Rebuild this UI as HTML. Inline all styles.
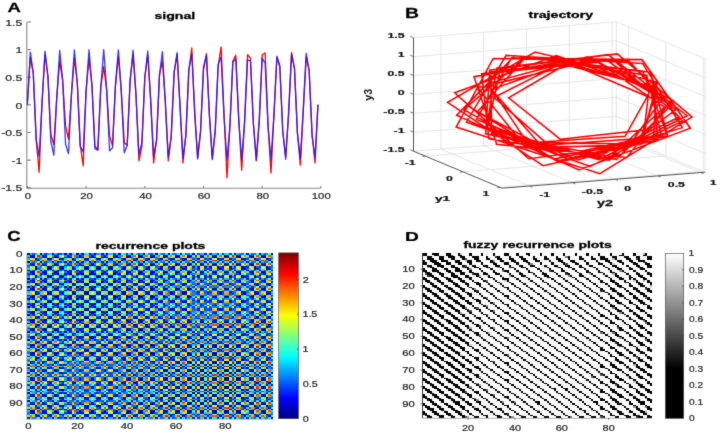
<!DOCTYPE html>
<html><head><meta charset="utf-8"><style>
html,body{margin:0;padding:0;background:#fff;}
body{width:720px;height:434px;overflow:hidden;position:relative;}
svg{position:absolute;left:0;top:0;}
text{font-family:"Liberation Sans",sans-serif;}
</style></head><body>
<svg width="720" height="434" viewBox="0 0 720 434">
<defs><filter id="bl" x="0" y="0" width="720" height="434" filterUnits="userSpaceOnUse" color-interpolation-filters="sRGB"><feConvolveMatrix order="3" kernelMatrix="1 5 1 5 40 5 1 5 1" edgeMode="duplicate"/></filter></defs>
<g filter="url(#bl)"><rect width="720" height="434" fill="#fff"/>
<path d="M26.8 22.03V188.18H320.9" fill="none" stroke="#8a8a8a" stroke-width="1.1"/>
<path d="M27.4 187.78h3.5M27.4 160.15h3.5M27.4 132.53h3.5M27.4 104.9h3.5M27.4 77.28h3.5M27.4 49.65h3.5M27.4 22.03h3.5M27.4 187.78v-1.8M86.1 187.78v-1.8M144.8 187.78v-1.8M203.5 187.78v-1.8M262.2 187.78v-1.8M320.9 187.78v-1.8" stroke="#444" stroke-width="0.8"/>
<polyline points="27.4,100.95 30.33,57.39 33.27,72.76 36.2,140.15 39.14,172.31 42.08,101.81 45.01,54.07 47.95,76.97 50.88,134.74 53.81,144.68 56.75,97.47 59.69,60.7 62.62,80.13 65.56,125.9 68.49,139.16 71.42,95.2 74.36,57.94 77.3,83.21 80.23,144.8 83.16,165.68 86.1,90.98 89.03,58.49 91.97,84.95 94.91,145.78 97.84,150.26 100.78,86.61 103.71,66.78 106.65,89.86 109.58,135.84 112.51,145.84 115.45,86.08 118.38,56.28 121.32,91.02 124.25,142.47 127.19,145.31 130.12,79.86 133.06,54.07 136,94.2 138.93,160.7 141.87,146.25 144.8,77.5 147.74,55.18 150.67,100.51 153.6,162.91 156.54,140.36 159.47,75.13 162.41,60.7 165.34,101.7 168.28,160.7 171.22,135.51 174.15,72.54 177.09,54.48 180.02,105.52 182.96,162.91 185.89,135.19 188.83,70.9 191.76,47.99 194.7,114.97 197.63,157.64 200.56,130.81 203.5,69.94 206.44,53.52 209.37,115.49 212.31,158.12 215.24,132.58 218.18,66.08 221.11,46.89 224.05,114.84 226.98,177.83 229.92,126.4 232.85,61.38 235.78,55.18 238.72,117.39 241.66,170.09 244.59,121.45 247.53,54.62 250.46,58.22 253.4,123.84 256.33,160.81 259.26,122.1 262.2,54.7 265.13,52.97 268.07,125.59 271,172.86 273.94,114.68 276.88,57.44 279.81,67.07 282.75,131.76 285.68,156.66 288.62,114.72 291.55,52.41 294.48,68.68 297.42,132.85 300.35,165.12 303.29,110.82 306.22,56.63 309.16,70.76 312.09,133.88 315.03,162.91 317.96,104.48" fill="none" stroke="#ff0000" stroke-width="1.3" stroke-linejoin="round"/>
<polyline points="27.4,104.9 30.33,52.14 33.27,73.57 36.2,139.05 39.14,156.51 42.08,101.4 45.01,51.21 47.95,76.52 50.88,141.74 53.81,155.16 56.75,97.91 59.69,50.49 62.62,79.58 65.56,144.28 68.49,153.6 71.42,94.44 74.36,49.99 77.3,82.75 80.23,146.66 83.16,151.85 86.1,91.02 89.03,49.71 91.97,86 94.91,148.87 97.84,149.91 100.78,87.66 103.71,49.66 106.65,89.33 109.58,150.9 112.51,147.78 115.45,84.37 118.38,49.82 121.32,92.73 124.25,152.75 127.19,145.49 130.12,81.15 133.06,50.21 136,96.17 138.93,154.4 141.87,143.03 144.8,78.04 147.74,50.82 150.67,99.65 153.6,155.86 156.54,140.41 159.47,75.03 162.41,51.65 165.34,103.15 168.28,157.11 171.22,137.66 174.15,72.14 177.09,52.69 180.02,106.65 182.96,158.15 185.89,134.77 188.83,69.39 191.76,53.94 194.7,110.15 197.63,158.98 200.56,131.76 203.5,66.77 206.44,55.4 209.37,113.63 212.31,159.59 215.24,128.65 218.18,64.31 221.11,57.05 224.05,117.07 226.98,159.98 229.92,125.43 232.85,62.02 235.78,58.9 238.72,120.47 241.66,160.14 244.59,122.14 247.53,59.89 250.46,60.93 253.4,123.8 256.33,160.09 259.26,118.78 262.2,57.95 265.13,63.14 268.07,127.05 271,159.81 273.94,115.36 276.88,56.2 279.81,65.52 282.75,130.22 285.68,159.31 288.62,111.89 291.55,54.64 294.48,68.06 297.42,133.28 300.35,158.59 303.29,108.4 306.22,53.29 309.16,70.75 312.09,136.23 315.03,157.66 317.96,104.9" fill="none" stroke="#1a1aff" stroke-opacity="0.88" stroke-width="1.3" stroke-linejoin="round"/>
<text transform="translate(5.28 25.6) scale(1.448 1)" font-size="8.45" stroke="#262626" stroke-width="0.2" fill="#262626">1.5</text>
<text transform="translate(15.56 53.27) scale(1.448 1)" font-size="8.45" stroke="#262626" stroke-width="0.2" fill="#262626">1</text>
<text transform="translate(5.28 80.89) scale(1.448 1)" font-size="8.45" stroke="#262626" stroke-width="0.2" fill="#262626">0.5</text>
<text transform="translate(15.44 108.52) scale(1.448 1)" font-size="8.45" stroke="#262626" stroke-width="0.2" fill="#262626">0</text>
<text transform="translate(1.24 136.14) scale(1.448 1)" font-size="8.45" stroke="#262626" stroke-width="0.2" fill="#262626">-0.5</text>
<text transform="translate(11.46 163.77) scale(1.448 1)" font-size="8.45" stroke="#262626" stroke-width="0.2" fill="#262626">-1</text>
<text transform="translate(1.24 191.35) scale(1.448 1)" font-size="8.45" stroke="#262626" stroke-width="0.2" fill="#262626">-1.5</text>
<text transform="translate(24.8 199.07) scale(1.351 1)" font-size="8.45" stroke="#262626" stroke-width="0.2" fill="#262626">0</text>
<text transform="translate(80.28 199.07) scale(1.351 1)" font-size="8.45" stroke="#262626" stroke-width="0.2" fill="#262626">20</text>
<text transform="translate(139.15 199.07) scale(1.351 1)" font-size="8.45" stroke="#262626" stroke-width="0.2" fill="#262626">40</text>
<text transform="translate(197.68 199.07) scale(1.351 1)" font-size="8.45" stroke="#262626" stroke-width="0.2" fill="#262626">60</text>
<text transform="translate(256.41 199.07) scale(1.351 1)" font-size="8.45" stroke="#262626" stroke-width="0.2" fill="#262626">80</text>
<text transform="translate(311.77 199.07) scale(1.351 1)" font-size="8.45" stroke="#262626" stroke-width="0.2" fill="#262626">100</text>
<text transform="translate(7.59 11.75) scale(1.451 1)" font-size="12.75" font-weight="bold" stroke="#000" stroke-width="0.25" fill="#000">A</text>
<text transform="translate(154.4 18.6) scale(1.468 1)" font-size="9.63" font-weight="bold" stroke="#000" stroke-width="0.3" fill="#000">signal</text>
<path d="M413.5 151.2L616.4 135.2M616.4 135.2L705.1 172.2M413.5 132.3L616.4 116.3M616.4 116.3L705.1 153.3M413.5 113.4L616.4 97.4M616.4 97.4L705.1 134.4M413.5 94.5L616.4 78.5M616.4 78.5L705.1 115.5M413.5 75.6L616.4 59.6M616.4 59.6L705.1 96.6M413.5 56.7L616.4 40.7M616.4 40.7L705.1 77.7M413.5 37.8L616.4 21.8M616.4 21.8L705.1 58.8M440.9 149.04L440.9 35.64M440.9 149.04L529.6 186.04M483.7 145.66L483.7 32.26M483.7 145.66L572.4 182.66M526.51 142.29L526.51 28.89M526.51 142.29L615.21 179.29M569.31 138.91L569.31 25.51M569.31 138.91L658.01 175.91M612.12 135.54L612.12 22.14M612.12 135.54L700.82 172.54M628.38 140.2L628.38 26.8M425.48 156.2L628.38 140.2M665.8 155.81L665.8 42.41M462.9 171.81L665.8 155.81M703.23 171.42L703.23 58.02M500.33 187.42L703.23 171.42M705.1 172.2L705.1 58.8M616.4 135.2L616.4 21.8" stroke="#e2e2e2" stroke-width="0.9" fill="none"/>
<polyline points="652.21,79.52 657.9,139.81 543.06,165.7 447.58,102.36 535.03,52 656.76,81.75 653.62,137.56 548.6,144.95 494.06,97.54 560.48,63.81 649.43,85.95 644.24,130.02 560.16,139.2 508.61,97.81 567.74,63.2 655.25,88.36 641.33,144.12 528.77,158.78 454.71,92.82 556.32,55.57 657.26,90.81 638.26,144.84 526.07,147.86 477.93,87.68 573.52,65.06 647.37,96.41 625.05,136.3 538.16,142.24 491.51,89.58 577.34,59.06 664,96.08 630.35,143.94 527.1,142.36 487.84,83.39 587.34,56.94 671.64,99.74 626.93,157.43 496.69,144.33 474.03,76.74 590.35,57.14 671.52,104.86 616.4,159.4 488.99,138.79 481.66,73.77 598.01,62.3 664.56,107.02 610.81,156.47 491.61,134.86 490.68,72.03 605.32,59.1 675.96,109.61 609.1,160.21 485.6,133.83 489.68,70.24 608.08,54.55 687.12,115.74 598.85,159.59 487.36,127.52 500.03,70.54 612.53,59.45 679.21,117.04 594.3,158.42 486.26,128.64 496.97,67.98 617.31,53.94 692.1,116.87 599.81,173.7 456.17,127.01 493.2,58.44 628.78,60.78 682.44,120.96 590.24,166.38 466.43,121.96 506.1,55.4 642.6,63.44 682.31,127.66 578.19,159.95 476.45,119.44 511.39,58.16 642.05,59.67 690.39,128.19 579.02,169.89 456.59,115.34 514.72,55.72 642.83,71.75 666.68,133.37 559.91,155.58 477.51,111.65 525.63,56.86 650.59,72.23 667.59,135.72 557.14,161.05 463.66,109.71 525.94,56.88 646.69,75.27 661.51,135.49 554.13,159.08 466.38,104.81" fill="none" stroke="#ff0000" stroke-width="1.6" stroke-linejoin="miter"/>
<path d="M413.5 151.2L413.5 37.8M413.5 151.2L502.2 188.2M502.2 188.2L705.1 172.2" stroke="#555" stroke-width="1" fill="none"/>
<path d="M413.5 151.2l-3.3 -1.6M413.5 132.3l-3.3 -1.6M413.5 113.4l-3.3 -1.6M413.5 94.5l-3.3 -1.6M413.5 75.6l-3.3 -1.6M413.5 56.7l-3.3 -1.6M413.5 37.8l-3.3 -1.6M425.48 156.2l-3 0.25M462.9 171.81l-3 0.25M500.33 187.42l-3 0.25M529.6 186.04l2.8 1.2M572.4 182.66l2.8 1.2M615.21 179.29l2.8 1.2M658.01 175.91l2.8 1.2M700.82 172.54l2.8 1.2" stroke="#555" stroke-width="0.8" fill="none"/>
<text transform="translate(387.4 38.18) scale(1.560 1)" font-size="7.89" font-weight="bold" stroke="#111" stroke-width="0.2" fill="#111">1.5</text>
<text transform="translate(397.68 57.12) scale(1.560 1)" font-size="7.89" font-weight="bold" stroke="#111" stroke-width="0.2" fill="#111">1</text>
<text transform="translate(387.4 76.02) scale(1.560 1)" font-size="7.89" font-weight="bold" stroke="#111" stroke-width="0.2" fill="#111">0.5</text>
<text transform="translate(397.86 94.92) scale(1.560 1)" font-size="7.89" font-weight="bold" stroke="#111" stroke-width="0.2" fill="#111">0</text>
<text transform="translate(383.34 113.82) scale(1.560 1)" font-size="7.89" font-weight="bold" stroke="#111" stroke-width="0.2" fill="#111">-0.5</text>
<text transform="translate(393.56 132.72) scale(1.560 1)" font-size="7.89" font-weight="bold" stroke="#111" stroke-width="0.2" fill="#111">-1</text>
<text transform="translate(383.34 151.58) scale(1.560 1)" font-size="7.89" font-weight="bold" stroke="#111" stroke-width="0.2" fill="#111">-1.5</text>
<text transform="translate(404.68 165.42) scale(1.560 1)" font-size="7.89" font-weight="bold" stroke="#111" stroke-width="0.2" fill="#111">-1</text>
<text transform="translate(445.99 180.62) scale(1.560 1)" font-size="7.89" font-weight="bold" stroke="#111" stroke-width="0.2" fill="#111">0</text>
<text transform="translate(482.62 195.62) scale(1.560 1)" font-size="7.89" font-weight="bold" stroke="#111" stroke-width="0.2" fill="#111">1</text>
<text transform="translate(539.23 197.02) scale(1.560 1)" font-size="7.89" font-weight="bold" stroke="#111" stroke-width="0.2" fill="#111">-1</text>
<text transform="translate(581.83 193.62) scale(1.560 1)" font-size="7.89" font-weight="bold" stroke="#111" stroke-width="0.2" fill="#111">-0.5</text>
<text transform="translate(624.34 190.82) scale(1.560 1)" font-size="7.89" font-weight="bold" stroke="#111" stroke-width="0.2" fill="#111">0</text>
<text transform="translate(667.86 187.12) scale(1.560 1)" font-size="7.89" font-weight="bold" stroke="#111" stroke-width="0.2" fill="#111">0.5</text>
<text transform="translate(709.87 184.62) scale(1.560 1)" font-size="7.89" font-weight="bold" stroke="#111" stroke-width="0.2" fill="#111">1</text>
<text transform="translate(435.01 200.67) scale(1.709 1)" font-size="8" font-weight="bold" stroke="#111" stroke-width="0.25" fill="#111">y1</text>
<text transform="translate(597.01 206.07) scale(1.695 1)" font-size="8.46" font-weight="bold" stroke="#111" stroke-width="0.25" fill="#111">y2</text>
<text transform="translate(369.8 95) rotate(-90) scale(1.036 1) translate(-5.6 2.53)" font-size="10.33" font-weight="bold" fill="#111">y3</text>
<text transform="translate(404.89 17.75) scale(1.405 1)" font-size="13.77" font-weight="bold" stroke="#000" stroke-width="0.25" fill="#000">B</text>
<text transform="translate(528.51 18.4) scale(1.471 1)" font-size="9.63" font-weight="bold" stroke="#000" stroke-width="0.3" fill="#000">trajectory</text>
<g transform="translate(27.24 253.2) scale(2.46160 1.65500)" shape-rendering="crispEdges"><path fill="#000087" d="M0 0h1v1h-1zM5 0h1v1h-1zM42 0h1v1h-1zM47 0h1v1h-1zM1 1h1v1h-1zM16 1h1v1h-1zM21 1h1v1h-1zM31 1h1v1h-1zM76 1h1v1h-1zM85 1h1v1h-1zM95 1h1v1h-1zM2 2h1v1h-1zM50 2h1v1h-1zM55 2h1v1h-1zM96 2h1v1h-1zM3 3h1v1h-1zM14 3h1v1h-1zM44 3h1v1h-1zM4 4h1v1h-1zM83 4h1v1h-1zM0 5h1v1h-1zM5 5h1v1h-1zM42 5h1v1h-1zM47 5h1v1h-1zM6 6h1v1h-1zM36 6h1v1h-1zM41 6h1v1h-1zM51 6h1v1h-1zM61 6h1v1h-1zM71 6h1v1h-1zM75 6h1v1h-1zM80 6h2v1h-2zM90 6h1v1h-1zM7 7h1v1h-1zM40 7h1v1h-1zM45 7h1v1h-1zM8 8h1v1h-1zM28 8h1v1h-1zM49 8h1v1h-1zM54 8h1v1h-1zM92 8h1v1h-1zM97 8h1v1h-1zM9 9h1v1h-1zM18 9h1v1h-1zM23 9h1v1h-1zM29 9h1v1h-1zM34 9h1v1h-1zM39 9h1v1h-1zM10 10h1v1h-1zM11 11h1v1h-1zM46 11h1v1h-1zM70 11h1v1h-1zM12 12h1v1h-1zM35 12h1v1h-1zM13 13h1v1h-1zM69 13h1v1h-1zM82 13h1v1h-1zM3 14h1v1h-1zM14 14h1v1h-1zM44 14h1v1h-1zM15 15h1v1h-1zM37 15h1v1h-1zM1 16h1v1h-1zM16 16h1v1h-1zM21 16h1v1h-1zM31 16h1v1h-1zM76 16h1v1h-1zM85 16h1v1h-1zM95 16h1v1h-1zM17 17h1v1h-1zM22 17h1v1h-1zM9 18h1v1h-1zM18 18h1v1h-1zM23 18h1v1h-1zM29 18h1v1h-1zM34 18h1v1h-1zM39 18h1v1h-1zM19 19h1v1h-1zM93 19h1v1h-1zM20 20h1v1h-1zM27 20h1v1h-1zM32 20h1v1h-1zM1 21h1v1h-1zM16 21h1v1h-1zM21 21h1v1h-1zM76 21h1v1h-1zM85 21h1v1h-1zM95 21h1v1h-1zM17 22h1v1h-1zM22 22h1v1h-1zM25 22h1v1h-1zM30 22h1v1h-1zM9 23h1v1h-1zM18 23h1v1h-1zM23 23h1v1h-1zM29 23h1v1h-1zM34 23h1v1h-1zM39 23h1v1h-1zM24 24h1v1h-1zM22 25h1v1h-1zM25 25h1v1h-1zM30 25h1v1h-1zM26 26h1v1h-1zM65 26h1v1h-1zM86 26h1v1h-1zM91 26h1v1h-1zM20 27h1v1h-1zM27 27h1v1h-1zM32 27h1v1h-1zM8 28h1v1h-1zM28 28h1v1h-1zM49 28h1v1h-1zM54 28h1v1h-1zM97 28h1v1h-1zM9 29h1v1h-1zM18 29h1v1h-1zM23 29h1v1h-1zM29 29h1v1h-1zM34 29h1v1h-1zM39 29h1v1h-1zM22 30h1v1h-1zM25 30h1v1h-1zM30 30h1v1h-1zM1 31h1v1h-1zM16 31h1v1h-1zM31 31h1v1h-1zM41 31h1v1h-1zM51 31h1v1h-1zM71 31h1v1h-1zM75 31h2v1h-2zM80 31h1v1h-1zM85 31h1v1h-1zM95 31h1v1h-1zM20 32h1v1h-1zM27 32h1v1h-1zM32 32h1v1h-1zM33 33h1v1h-1zM9 34h1v1h-1zM18 34h1v1h-1zM23 34h1v1h-1zM29 34h1v1h-1zM34 34h1v1h-1zM39 34h1v1h-1zM12 35h1v1h-1zM35 35h1v1h-1zM6 36h1v1h-1zM36 36h1v1h-1zM41 36h1v1h-1zM51 36h1v1h-1zM61 36h1v1h-1zM71 36h1v1h-1zM75 36h1v1h-1zM80 36h2v1h-2zM90 36h1v1h-1zM15 37h1v1h-1zM37 37h1v1h-1zM38 38h1v1h-1zM48 38h1v1h-1zM78 38h1v1h-1zM9 39h1v1h-1zM18 39h1v1h-1zM23 39h1v1h-1zM29 39h1v1h-1zM34 39h1v1h-1zM39 39h1v1h-1zM7 40h1v1h-1zM40 40h1v1h-1zM6 41h1v1h-1zM31 41h1v1h-1zM36 41h1v1h-1zM41 41h1v1h-1zM51 41h1v1h-1zM61 41h1v1h-1zM71 41h1v1h-1zM75 41h1v1h-1zM80 41h1v1h-1zM95 41h1v1h-1zM0 42h1v1h-1zM5 42h1v1h-1zM42 42h1v1h-1zM47 42h1v1h-1zM43 43h1v1h-1zM53 43h1v1h-1zM98 43h1v1h-1zM3 44h1v1h-1zM14 44h1v1h-1zM44 44h1v1h-1zM7 45h1v1h-1zM45 45h1v1h-1zM11 46h1v1h-1zM46 46h1v1h-1zM70 46h1v1h-1zM0 47h1v1h-1zM5 47h1v1h-1zM42 47h1v1h-1zM47 47h1v1h-1zM38 48h1v1h-1zM48 48h1v1h-1zM78 48h1v1h-1zM8 49h1v1h-1zM28 49h1v1h-1zM49 49h1v1h-1zM54 49h1v1h-1zM97 49h1v1h-1zM2 50h1v1h-1zM50 50h1v1h-1zM55 50h1v1h-1zM96 50h1v1h-1zM6 51h1v1h-1zM31 51h1v1h-1zM36 51h1v1h-1zM41 51h1v1h-1zM51 51h1v1h-1zM61 51h1v1h-1zM71 51h1v1h-1zM75 51h1v1h-1zM80 51h2v1h-2zM52 52h1v1h-1zM99 52h1v1h-1zM43 53h1v1h-1zM53 53h1v1h-1zM98 53h1v1h-1zM8 54h1v1h-1zM28 54h1v1h-1zM49 54h1v1h-1zM54 54h1v1h-1zM97 54h1v1h-1zM2 55h1v1h-1zM50 55h1v1h-1zM55 55h1v1h-1zM60 55h1v1h-1zM96 55h1v1h-1zM56 56h1v1h-1zM66 56h1v1h-1zM57 57h1v1h-1zM62 57h1v1h-1zM67 57h1v1h-1zM84 57h1v1h-1zM89 57h1v1h-1zM58 58h1v1h-1zM63 58h1v1h-1zM88 58h1v1h-1zM59 59h1v1h-1zM64 59h1v1h-1zM87 59h1v1h-1zM92 59h1v1h-1zM55 60h1v1h-1zM60 60h1v1h-1zM91 60h1v1h-1zM96 60h1v1h-1zM6 61h1v1h-1zM36 61h1v1h-1zM41 61h1v1h-1zM51 61h1v1h-1zM61 61h1v1h-1zM71 61h1v1h-1zM75 61h1v1h-1zM80 61h2v1h-2zM90 61h1v1h-1zM57 62h1v1h-1zM62 62h1v1h-1zM67 62h1v1h-1zM72 62h1v1h-1zM84 62h1v1h-1zM89 62h1v1h-1zM58 63h1v1h-1zM63 63h1v1h-1zM88 63h1v1h-1zM59 64h1v1h-1zM64 64h1v1h-1zM87 64h1v1h-1zM92 64h1v1h-1zM97 64h1v1h-1zM26 65h1v1h-1zM65 65h1v1h-1zM86 65h1v1h-1zM56 66h1v1h-1zM66 66h1v1h-1zM57 67h1v1h-1zM62 67h1v1h-1zM67 67h1v1h-1zM84 67h1v1h-1zM89 67h1v1h-1zM68 68h1v1h-1zM13 69h1v1h-1zM69 69h1v1h-1zM82 69h1v1h-1zM11 70h1v1h-1zM46 70h1v1h-1zM70 70h1v1h-1zM6 71h1v1h-1zM31 71h1v1h-1zM36 71h1v1h-1zM41 71h1v1h-1zM51 71h1v1h-1zM61 71h1v1h-1zM71 71h1v1h-1zM75 71h1v1h-1zM80 71h1v1h-1zM95 71h1v1h-1zM62 72h1v1h-1zM72 72h1v1h-1zM73 73h1v1h-1zM74 74h1v1h-1zM79 74h1v1h-1zM6 75h1v1h-1zM31 75h1v1h-1zM36 75h1v1h-1zM41 75h1v1h-1zM51 75h1v1h-1zM61 75h1v1h-1zM71 75h1v1h-1zM75 75h1v1h-1zM80 75h2v1h-2zM95 75h1v1h-1zM1 76h1v1h-1zM16 76h1v1h-1zM21 76h1v1h-1zM31 76h1v1h-1zM76 76h1v1h-1zM85 76h1v1h-1zM95 76h1v1h-1zM77 77h1v1h-1zM79 77h1v1h-1zM82 77h1v1h-1zM38 78h1v1h-1zM48 78h1v1h-1zM78 78h1v1h-1zM74 79h1v1h-1zM77 79h1v1h-1zM79 79h1v1h-1zM6 80h1v1h-1zM31 80h1v1h-1zM36 80h1v1h-1zM41 80h1v1h-1zM51 80h1v1h-1zM61 80h1v1h-1zM71 80h1v1h-1zM75 80h1v1h-1zM80 80h2v1h-2zM95 80h1v1h-1zM6 81h1v1h-1zM36 81h1v1h-1zM51 81h1v1h-1zM61 81h1v1h-1zM75 81h1v1h-1zM80 81h2v1h-2zM90 81h1v1h-1zM13 82h1v1h-1zM69 82h1v1h-1zM77 82h1v1h-1zM82 82h1v1h-1zM4 83h1v1h-1zM83 83h1v1h-1zM57 84h1v1h-1zM62 84h1v1h-1zM67 84h1v1h-1zM84 84h1v1h-1zM89 84h1v1h-1zM1 85h1v1h-1zM16 85h1v1h-1zM21 85h1v1h-1zM31 85h1v1h-1zM76 85h1v1h-1zM85 85h1v1h-1zM95 85h1v1h-1zM26 86h1v1h-1zM65 86h1v1h-1zM86 86h1v1h-1zM91 86h1v1h-1zM59 87h1v1h-1zM64 87h1v1h-1zM87 87h1v1h-1zM92 87h1v1h-1zM58 88h1v1h-1zM63 88h1v1h-1zM88 88h1v1h-1zM57 89h1v1h-1zM62 89h1v1h-1zM67 89h1v1h-1zM84 89h1v1h-1zM89 89h1v1h-1zM6 90h1v1h-1zM36 90h1v1h-1zM61 90h1v1h-1zM81 90h1v1h-1zM90 90h1v1h-1zM26 91h1v1h-1zM60 91h1v1h-1zM86 91h1v1h-1zM91 91h1v1h-1zM8 92h1v1h-1zM59 92h1v1h-1zM64 92h1v1h-1zM87 92h1v1h-1zM92 92h1v1h-1zM97 92h1v1h-1zM19 93h1v1h-1zM93 93h1v1h-1zM94 94h1v1h-1zM1 95h1v1h-1zM16 95h1v1h-1zM21 95h1v1h-1zM31 95h1v1h-1zM41 95h1v1h-1zM71 95h1v1h-1zM75 95h2v1h-2zM80 95h1v1h-1zM85 95h1v1h-1zM95 95h1v1h-1zM2 96h1v1h-1zM50 96h1v1h-1zM55 96h1v1h-1zM60 96h1v1h-1zM96 96h1v1h-1zM8 97h1v1h-1zM28 97h1v1h-1zM49 97h1v1h-1zM54 97h1v1h-1zM64 97h1v1h-1zM92 97h1v1h-1zM97 97h1v1h-1zM43 98h1v1h-1zM53 98h1v1h-1zM98 98h1v1h-1zM52 99h1v1h-1zM99 99h1v1h-1z"/><path fill="#000097" d="M10 0h1v1h-1zM99 0h1v1h-1zM6 1h1v1h-1zM11 1h1v1h-1zM36 1h1v1h-1zM41 1h1v1h-1zM46 1h1v1h-1zM51 1h1v1h-1zM61 1h1v1h-1zM70 1h2v1h-2zM75 1h1v1h-1zM80 1h1v1h-1zM45 2h1v1h-1zM60 2h1v1h-1zM91 2h1v1h-1zM33 3h1v1h-1zM73 4h1v1h-1zM52 5h1v1h-1zM99 5h1v1h-1zM1 6h1v1h-1zM16 6h1v1h-1zM31 6h1v1h-1zM85 6h1v1h-1zM95 6h1v1h-1zM12 7h1v1h-1zM35 7h1v1h-1zM59 8h1v1h-1zM64 8h1v1h-1zM87 8h1v1h-1zM33 9h1v1h-1zM0 10h1v1h-1zM15 10h1v1h-1zM37 10h1v1h-1zM42 10h1v1h-1zM1 11h1v1h-1zM16 11h1v1h-1zM21 11h1v1h-1zM76 11h1v1h-1zM85 11h1v1h-1zM95 11h1v1h-1zM7 12h1v1h-1zM17 12h1v1h-1zM40 12h1v1h-1zM77 13h1v1h-1zM79 13h1v1h-1zM28 14h1v1h-1zM33 14h1v1h-1zM49 14h1v1h-1zM54 14h1v1h-1zM10 15h1v1h-1zM6 16h1v1h-1zM11 16h1v1h-1zM36 16h1v1h-1zM41 16h1v1h-1zM46 16h1v1h-1zM51 16h1v1h-1zM70 16h2v1h-2zM75 16h1v1h-1zM80 16h1v1h-1zM12 17h1v1h-1zM25 17h1v1h-1zM30 17h1v1h-1zM35 17h1v1h-1zM33 18h1v1h-1zM43 19h1v1h-1zM53 19h1v1h-1zM98 19h1v1h-1zM37 20h1v1h-1zM11 21h1v1h-1zM31 21h1v1h-1zM41 21h1v1h-1zM46 21h1v1h-1zM51 21h1v1h-1zM70 21h2v1h-2zM75 21h1v1h-1zM80 21h1v1h-1zM33 23h1v1h-1zM39 24h1v1h-1zM17 25h1v1h-1zM27 25h1v1h-1zM60 26h1v1h-1zM96 26h1v1h-1zM25 27h1v1h-1zM30 27h1v1h-1zM14 28h1v1h-1zM64 28h1v1h-1zM87 28h1v1h-1zM92 28h1v1h-1zM33 29h1v1h-1zM17 30h1v1h-1zM27 30h1v1h-1zM6 31h1v1h-1zM21 31h1v1h-1zM36 31h1v1h-1zM61 31h1v1h-1zM81 31h1v1h-1zM90 31h1v1h-1zM37 32h1v1h-1zM3 33h1v1h-1zM9 33h1v1h-1zM14 33h1v1h-1zM18 33h1v1h-1zM23 33h1v1h-1zM29 33h1v1h-1zM34 33h1v1h-1zM39 33h1v1h-1zM44 33h1v1h-1zM33 34h1v1h-1zM7 35h1v1h-1zM17 35h1v1h-1zM40 35h1v1h-1zM1 36h1v1h-1zM16 36h1v1h-1zM31 36h1v1h-1zM85 36h1v1h-1zM95 36h1v1h-1zM10 37h1v1h-1zM20 37h1v1h-1zM32 37h1v1h-1zM43 38h1v1h-1zM53 38h1v1h-1zM58 38h1v1h-1zM63 38h1v1h-1zM88 38h1v1h-1zM98 38h1v1h-1zM24 39h1v1h-1zM33 39h1v1h-1zM12 40h1v1h-1zM35 40h1v1h-1zM45 40h1v1h-1zM1 41h1v1h-1zM16 41h1v1h-1zM21 41h1v1h-1zM76 41h1v1h-1zM81 41h1v1h-1zM85 41h1v1h-1zM90 41h1v1h-1zM10 42h1v1h-1zM99 42h1v1h-1zM19 43h1v1h-1zM38 43h1v1h-1zM48 43h1v1h-1zM78 43h1v1h-1zM93 43h1v1h-1zM33 44h1v1h-1zM2 45h1v1h-1zM40 45h1v1h-1zM50 45h1v1h-1zM1 46h1v1h-1zM16 46h1v1h-1zM21 46h1v1h-1zM76 46h1v1h-1zM85 46h1v1h-1zM95 46h1v1h-1zM52 47h1v1h-1zM99 47h1v1h-1zM43 48h1v1h-1zM53 48h1v1h-1zM58 48h1v1h-1zM63 48h1v1h-1zM88 48h1v1h-1zM98 48h1v1h-1zM14 49h1v1h-1zM64 49h1v1h-1zM87 49h1v1h-1zM92 49h1v1h-1zM45 50h1v1h-1zM60 50h1v1h-1zM91 50h1v1h-1zM1 51h1v1h-1zM16 51h1v1h-1zM21 51h1v1h-1zM76 51h1v1h-1zM85 51h1v1h-1zM90 51h1v1h-1zM95 51h1v1h-1zM5 52h1v1h-1zM47 52h1v1h-1zM19 53h1v1h-1zM38 53h1v1h-1zM48 53h1v1h-1zM78 53h1v1h-1zM93 53h1v1h-1zM14 54h1v1h-1zM64 54h1v1h-1zM87 54h1v1h-1zM92 54h1v1h-1zM86 55h1v1h-1zM91 55h1v1h-1zM72 57h1v1h-1zM38 58h1v1h-1zM48 58h1v1h-1zM78 58h1v1h-1zM8 59h1v1h-1zM97 59h1v1h-1zM2 60h1v1h-1zM26 60h1v1h-1zM50 60h1v1h-1zM65 60h1v1h-1zM86 60h1v1h-1zM1 61h1v1h-1zM31 61h1v1h-1zM85 61h1v1h-1zM95 61h1v1h-1zM38 63h1v1h-1zM48 63h1v1h-1zM78 63h1v1h-1zM8 64h1v1h-1zM28 64h1v1h-1zM49 64h1v1h-1zM54 64h1v1h-1zM60 65h1v1h-1zM91 65h1v1h-1zM72 67h1v1h-1zM94 67h1v1h-1zM77 69h1v1h-1zM1 70h1v1h-1zM16 70h1v1h-1zM21 70h1v1h-1zM76 70h1v1h-1zM85 70h1v1h-1zM1 71h1v1h-1zM16 71h1v1h-1zM21 71h1v1h-1zM76 71h1v1h-1zM81 71h1v1h-1zM85 71h1v1h-1zM90 71h1v1h-1zM57 72h1v1h-1zM67 72h1v1h-1zM74 72h1v1h-1zM84 72h1v1h-1zM89 72h1v1h-1zM4 73h1v1h-1zM83 73h1v1h-1zM72 74h1v1h-1zM77 74h1v1h-1zM1 75h1v1h-1zM16 75h1v1h-1zM21 75h1v1h-1zM76 75h1v1h-1zM85 75h1v1h-1zM90 75h1v1h-1zM11 76h1v1h-1zM41 76h1v1h-1zM46 76h1v1h-1zM51 76h1v1h-1zM70 76h2v1h-2zM75 76h1v1h-1zM80 76h1v1h-1zM13 77h1v1h-1zM69 77h1v1h-1zM74 77h1v1h-1zM43 78h1v1h-1zM53 78h1v1h-1zM58 78h1v1h-1zM63 78h1v1h-1zM98 78h1v1h-1zM13 79h1v1h-1zM82 79h1v1h-1zM1 80h1v1h-1zM16 80h1v1h-1zM21 80h1v1h-1zM76 80h1v1h-1zM85 80h1v1h-1zM90 80h1v1h-1zM31 81h1v1h-1zM41 81h1v1h-1zM71 81h1v1h-1zM95 81h1v1h-1zM79 82h1v1h-1zM73 83h1v1h-1zM72 84h1v1h-1zM94 84h1v1h-1zM6 85h1v1h-1zM11 85h1v1h-1zM36 85h1v1h-1zM41 85h1v1h-1zM46 85h1v1h-1zM51 85h1v1h-1zM61 85h1v1h-1zM70 85h2v1h-2zM75 85h1v1h-1zM80 85h1v1h-1zM55 86h1v1h-1zM60 86h1v1h-1zM96 86h1v1h-1zM8 87h1v1h-1zM28 87h1v1h-1zM49 87h1v1h-1zM54 87h1v1h-1zM97 87h1v1h-1zM38 88h1v1h-1zM48 88h1v1h-1zM72 89h1v1h-1zM94 89h1v1h-1zM31 90h1v1h-1zM41 90h1v1h-1zM51 90h1v1h-1zM71 90h1v1h-1zM75 90h1v1h-1zM80 90h1v1h-1zM2 91h1v1h-1zM50 91h1v1h-1zM55 91h1v1h-1zM65 91h1v1h-1zM96 91h1v1h-1zM28 92h1v1h-1zM49 92h1v1h-1zM54 92h1v1h-1zM43 93h1v1h-1zM53 93h1v1h-1zM98 93h1v1h-1zM67 94h1v1h-1zM84 94h1v1h-1zM89 94h1v1h-1zM6 95h1v1h-1zM11 95h1v1h-1zM36 95h1v1h-1zM46 95h1v1h-1zM51 95h1v1h-1zM61 95h1v1h-1zM81 95h1v1h-1zM26 96h1v1h-1zM86 96h1v1h-1zM91 96h1v1h-1zM59 97h1v1h-1zM87 97h1v1h-1zM19 98h1v1h-1zM38 98h1v1h-1zM48 98h1v1h-1zM78 98h1v1h-1zM93 98h1v1h-1zM0 99h1v1h-1zM5 99h1v1h-1zM42 99h1v1h-1zM47 99h1v1h-1z"/><path fill="#0000a7" d="M15 0h1v1h-1zM52 0h1v1h-1zM81 1h1v1h-1zM90 1h1v1h-1zM7 2h1v1h-1zM26 2h1v1h-1zM40 2h1v1h-1zM86 2h1v1h-1zM8 3h2v1h-2zM18 3h1v1h-1zM23 3h1v1h-1zM28 3h2v1h-2zM34 3h1v1h-1zM39 3h1v1h-1zM49 3h1v1h-1zM54 3h1v1h-1zM68 4h1v1h-1zM10 5h1v1h-1zM21 6h1v1h-1zM56 6h1v1h-1zM76 6h1v1h-1zM2 7h1v1h-1zM50 7h1v1h-1zM55 7h1v1h-1zM3 8h1v1h-1zM14 8h1v1h-1zM44 8h1v1h-1zM3 9h1v1h-1zM14 9h1v1h-1zM24 9h1v1h-1zM44 9h1v1h-1zM5 10h1v1h-1zM47 10h1v1h-1zM26 11h1v1h-1zM31 11h1v1h-1zM41 11h1v1h-1zM65 11h1v1h-1zM71 11h1v1h-1zM75 11h1v1h-1zM80 11h1v1h-1zM22 12h1v1h-1zM30 12h1v1h-1zM45 12h1v1h-1zM59 13h1v1h-1zM74 13h1v1h-1zM87 13h1v1h-1zM8 14h2v1h-2zM18 14h1v1h-1zM34 14h1v1h-1zM97 14h1v1h-1zM0 15h1v1h-1zM20 15h1v1h-1zM27 15h1v1h-1zM32 15h1v1h-1zM42 15h1v1h-1zM61 16h1v1h-1zM81 16h1v1h-1zM90 16h1v1h-1zM40 17h1v1h-1zM3 18h1v1h-1zM14 18h1v1h-1zM24 18h1v1h-1zM44 18h1v1h-1zM38 19h1v1h-1zM48 19h1v1h-1zM73 19h1v1h-1zM78 19h1v1h-1zM15 20h1v1h-1zM22 20h1v1h-1zM25 20h1v1h-1zM30 20h1v1h-1zM6 21h1v1h-1zM36 21h1v1h-1zM61 21h1v1h-1zM81 21h1v1h-1zM90 21h1v1h-1zM12 22h1v1h-1zM20 22h1v1h-1zM27 22h1v1h-1zM32 22h1v1h-1zM35 22h1v1h-1zM3 23h1v1h-1zM24 23h1v1h-1zM44 23h1v1h-1zM9 24h1v1h-1zM18 24h1v1h-1zM23 24h1v1h-1zM29 24h1v1h-1zM34 24h1v1h-1zM20 25h1v1h-1zM32 25h1v1h-1zM2 26h1v1h-1zM11 26h1v1h-1zM46 26h1v1h-1zM50 26h1v1h-1zM55 26h1v1h-1zM70 26h1v1h-1zM15 27h1v1h-1zM22 27h1v1h-1zM37 27h1v1h-1zM3 28h1v1h-1zM44 28h1v1h-1zM59 28h1v1h-1zM3 29h1v1h-1zM24 29h1v1h-1zM44 29h1v1h-1zM12 30h1v1h-1zM20 30h1v1h-1zM32 30h1v1h-1zM11 31h1v1h-1zM46 31h1v1h-1zM70 31h1v1h-1zM15 32h1v1h-1zM22 32h1v1h-1zM25 32h1v1h-1zM30 32h1v1h-1zM3 34h1v1h-1zM14 34h1v1h-1zM24 34h1v1h-1zM44 34h1v1h-1zM22 35h1v1h-1zM45 35h1v1h-1zM21 36h1v1h-1zM56 36h1v1h-1zM76 36h1v1h-1zM27 37h1v1h-1zM19 38h1v1h-1zM93 38h1v1h-1zM3 39h1v1h-1zM44 39h1v1h-1zM2 40h1v1h-1zM17 40h1v1h-1zM50 40h1v1h-1zM11 41h1v1h-1zM46 41h1v1h-1zM15 42h1v1h-1zM52 42h1v1h-1zM58 43h1v1h-1zM63 43h1v1h-1zM8 44h2v1h-2zM18 44h1v1h-1zM23 44h1v1h-1zM28 44h2v1h-2zM34 44h1v1h-1zM39 44h1v1h-1zM49 44h1v1h-1zM54 44h1v1h-1zM12 45h1v1h-1zM35 45h1v1h-1zM55 45h1v1h-1zM60 45h1v1h-1zM96 45h1v1h-1zM26 46h1v1h-1zM31 46h1v1h-1zM41 46h1v1h-1zM65 46h1v1h-1zM71 46h1v1h-1zM75 46h1v1h-1zM80 46h1v1h-1zM10 47h1v1h-1zM19 48h1v1h-1zM93 48h1v1h-1zM3 49h1v1h-1zM44 49h1v1h-1zM59 49h1v1h-1zM7 50h1v1h-1zM26 50h1v1h-1zM40 50h1v1h-1zM86 50h1v1h-1zM0 52h1v1h-1zM42 52h1v1h-1zM94 52h1v1h-1zM58 53h1v1h-1zM63 53h1v1h-1zM3 54h1v1h-1zM44 54h1v1h-1zM59 54h1v1h-1zM7 55h1v1h-1zM26 55h1v1h-1zM45 55h1v1h-1zM65 55h1v1h-1zM6 56h1v1h-1zM36 56h1v1h-1zM61 56h1v1h-1zM81 56h1v1h-1zM90 56h1v1h-1zM94 57h1v1h-1zM43 58h1v1h-1zM53 58h1v1h-1zM98 58h1v1h-1zM13 59h1v1h-1zM28 59h1v1h-1zM49 59h1v1h-1zM54 59h1v1h-1zM69 59h1v1h-1zM82 59h1v1h-1zM45 60h1v1h-1zM16 61h1v1h-1zM21 61h1v1h-1zM56 61h1v1h-1zM76 61h1v1h-1zM74 62h1v1h-1zM94 62h1v1h-1zM43 63h1v1h-1zM53 63h1v1h-1zM98 63h1v1h-1zM11 65h1v1h-1zM46 65h1v1h-1zM55 65h1v1h-1zM70 65h1v1h-1zM96 65h1v1h-1zM81 66h1v1h-1zM90 66h1v1h-1zM4 68h1v1h-1zM83 68h1v1h-1zM59 69h1v1h-1zM74 69h1v1h-1zM79 69h1v1h-1zM87 69h1v1h-1zM26 70h1v1h-1zM31 70h1v1h-1zM65 70h1v1h-1zM86 70h1v1h-1zM95 70h1v1h-1zM11 71h1v1h-1zM46 71h1v1h-1zM79 72h1v1h-1zM19 73h1v1h-1zM93 73h1v1h-1zM13 74h1v1h-1zM62 74h1v1h-1zM69 74h1v1h-1zM82 74h1v1h-1zM11 75h1v1h-1zM46 75h1v1h-1zM6 76h1v1h-1zM36 76h1v1h-1zM61 76h1v1h-1zM81 76h1v1h-1zM90 76h1v1h-1zM19 78h1v1h-1zM88 78h1v1h-1zM93 78h1v1h-1zM69 79h1v1h-1zM72 79h1v1h-1zM11 80h1v1h-1zM46 80h1v1h-1zM1 81h1v1h-1zM16 81h1v1h-1zM21 81h1v1h-1zM56 81h1v1h-1zM66 81h1v1h-1zM76 81h1v1h-1zM85 81h1v1h-1zM59 82h1v1h-1zM74 82h1v1h-1zM68 83h1v1h-1zM81 85h1v1h-1zM90 85h1v1h-1zM2 86h1v1h-1zM50 86h1v1h-1zM70 86h1v1h-1zM13 87h1v1h-1zM69 87h1v1h-1zM78 88h1v1h-1zM1 90h1v1h-1zM16 90h1v1h-1zM21 90h1v1h-1zM56 90h1v1h-1zM66 90h1v1h-1zM76 90h1v1h-1zM85 90h1v1h-1zM95 90h1v1h-1zM38 93h1v1h-1zM48 93h1v1h-1zM73 93h1v1h-1zM78 93h1v1h-1zM52 94h1v1h-1zM57 94h1v1h-1zM62 94h1v1h-1zM70 95h1v1h-1zM90 95h1v1h-1zM45 96h1v1h-1zM65 96h1v1h-1zM14 97h1v1h-1zM58 98h1v1h-1zM63 98h1v1h-1z"/><path fill="#0000b7" d="M37 0h1v1h-1zM12 2h1v1h-1zM35 2h1v1h-1zM65 2h1v1h-1zM64 3h1v1h-1zM92 3h1v1h-1zM97 3h1v1h-1zM19 4h1v1h-1zM93 4h1v1h-1zM15 5h1v1h-1zM37 5h1v1h-1zM11 6h1v1h-1zM46 6h1v1h-1zM66 6h1v1h-1zM70 6h1v1h-1zM17 7h1v1h-1zM22 7h1v1h-1zM60 7h1v1h-1zM96 7h1v1h-1zM33 8h1v1h-1zM20 10h1v1h-1zM27 10h1v1h-1zM32 10h1v1h-1zM52 10h1v1h-1zM99 10h1v1h-1zM6 11h1v1h-1zM36 11h1v1h-1zM51 11h1v1h-1zM61 11h1v1h-1zM81 11h1v1h-1zM86 11h1v1h-1zM91 11h1v1h-1zM2 12h1v1h-1zM25 12h1v1h-1zM50 12h1v1h-1zM64 13h1v1h-1zM92 13h1v1h-1zM97 13h1v1h-1zM23 14h1v1h-1zM29 14h1v1h-1zM39 14h1v1h-1zM64 14h1v1h-1zM87 14h1v1h-1zM92 14h1v1h-1zM5 15h1v1h-1zM47 15h1v1h-1zM65 16h1v1h-1zM7 17h1v1h-1zM20 17h1v1h-1zM27 17h1v1h-1zM32 17h1v1h-1zM45 17h1v1h-1zM4 19h1v1h-1zM58 19h1v1h-1zM63 19h1v1h-1zM83 19h1v1h-1zM10 20h1v1h-1zM17 20h1v1h-1zM65 21h1v1h-1zM7 22h1v1h-1zM40 22h1v1h-1zM14 23h1v1h-1zM33 24h1v1h-1zM58 24h1v1h-1zM63 24h1v1h-1zM88 24h1v1h-1zM12 25h1v1h-1zM35 25h1v1h-1zM37 25h1v1h-1zM10 27h1v1h-1zM17 27h1v1h-1zM33 28h1v1h-1zM14 29h1v1h-1zM35 30h1v1h-1zM37 30h1v1h-1zM10 32h1v1h-1zM17 32h1v1h-1zM8 33h1v1h-1zM24 33h1v1h-1zM28 33h1v1h-1zM49 33h1v1h-1zM54 33h1v1h-1zM2 35h1v1h-1zM25 35h1v1h-1zM30 35h1v1h-1zM50 35h1v1h-1zM11 36h1v1h-1zM46 36h1v1h-1zM66 36h1v1h-1zM70 36h1v1h-1zM0 37h1v1h-1zM5 37h1v1h-1zM25 37h1v1h-1zM30 37h1v1h-1zM42 37h1v1h-1zM47 37h1v1h-1zM14 39h1v1h-1zM22 40h1v1h-1zM55 40h1v1h-1zM60 40h1v1h-1zM96 40h1v1h-1zM56 41h1v1h-1zM70 41h1v1h-1zM37 42h1v1h-1zM73 43h1v1h-1zM88 43h1v1h-1zM64 44h1v1h-1zM92 44h1v1h-1zM97 44h1v1h-1zM17 45h1v1h-1zM86 45h1v1h-1zM91 45h1v1h-1zM6 46h1v1h-1zM36 46h1v1h-1zM51 46h1v1h-1zM61 46h1v1h-1zM81 46h1v1h-1zM86 46h1v1h-1zM91 46h1v1h-1zM15 47h1v1h-1zM37 47h1v1h-1zM33 49h1v1h-1zM12 50h1v1h-1zM35 50h1v1h-1zM65 50h1v1h-1zM11 51h1v1h-1zM46 51h1v1h-1zM56 51h1v1h-1zM66 51h1v1h-1zM70 51h1v1h-1zM10 52h1v1h-1zM73 53h1v1h-1zM88 53h1v1h-1zM33 54h1v1h-1zM40 55h1v1h-1zM41 56h1v1h-1zM51 56h1v1h-1zM71 56h1v1h-1zM75 56h1v1h-1zM80 56h1v1h-1zM74 57h1v1h-1zM79 57h1v1h-1zM19 58h1v1h-1zM24 58h1v1h-1zM93 58h1v1h-1zM77 59h1v1h-1zM7 60h1v1h-1zM40 60h1v1h-1zM11 61h1v1h-1zM46 61h1v1h-1zM66 61h1v1h-1zM70 61h1v1h-1zM79 62h1v1h-1zM19 63h1v1h-1zM24 63h1v1h-1zM93 63h1v1h-1zM3 64h1v1h-1zM13 64h2v1h-2zM44 64h1v1h-1zM69 64h1v1h-1zM82 64h1v1h-1zM2 65h1v1h-1zM16 65h1v1h-1zM21 65h1v1h-1zM50 65h1v1h-1zM76 65h1v1h-1zM6 66h1v1h-1zM36 66h1v1h-1zM51 66h1v1h-1zM61 66h1v1h-1zM75 66h1v1h-1zM80 66h1v1h-1zM74 67h1v1h-1zM79 67h1v1h-1zM73 68h1v1h-1zM64 69h1v1h-1zM92 69h1v1h-1zM97 69h1v1h-1zM6 70h1v1h-1zM36 70h1v1h-1zM41 70h1v1h-1zM51 70h1v1h-1zM61 70h1v1h-1zM71 70h1v1h-1zM75 70h1v1h-1zM80 70h1v1h-1zM91 70h1v1h-1zM56 71h1v1h-1zM70 71h1v1h-1zM77 72h1v1h-1zM82 72h1v1h-1zM94 72h1v1h-1zM43 73h1v1h-1zM53 73h1v1h-1zM68 73h1v1h-1zM98 73h1v1h-1zM57 74h1v1h-1zM67 74h1v1h-1zM84 74h1v1h-1zM89 74h1v1h-1zM56 75h1v1h-1zM66 75h1v1h-1zM70 75h1v1h-1zM65 76h1v1h-1zM59 77h1v1h-1zM72 77h1v1h-1zM87 77h1v1h-1zM57 79h1v1h-1zM62 79h1v1h-1zM67 79h1v1h-1zM84 79h1v1h-1zM89 79h1v1h-1zM56 80h1v1h-1zM66 80h1v1h-1zM70 80h1v1h-1zM11 81h1v1h-1zM46 81h1v1h-1zM64 82h1v1h-1zM72 82h1v1h-1zM87 82h1v1h-1zM92 82h1v1h-1zM19 83h1v1h-1zM93 83h1v1h-1zM74 84h1v1h-1zM79 84h1v1h-1zM11 86h1v1h-1zM45 86h2v1h-2zM14 87h1v1h-1zM77 87h1v1h-1zM82 87h1v1h-1zM24 88h1v1h-1zM43 88h1v1h-1zM53 88h1v1h-1zM98 88h1v1h-1zM74 89h1v1h-1zM79 89h1v1h-1zM11 91h1v1h-1zM45 91h2v1h-2zM70 91h1v1h-1zM3 92h1v1h-1zM13 92h2v1h-2zM44 92h1v1h-1zM69 92h1v1h-1zM82 92h1v1h-1zM4 93h1v1h-1zM58 93h1v1h-1zM63 93h1v1h-1zM83 93h1v1h-1zM72 94h1v1h-1zM99 94h1v1h-1zM7 96h1v1h-1zM40 96h1v1h-1zM3 97h1v1h-1zM13 97h1v1h-1zM44 97h1v1h-1zM69 97h1v1h-1zM73 98h1v1h-1zM88 98h1v1h-1zM10 99h1v1h-1zM94 99h1v1h-1z"/><path fill="#0000c7" d="M20 0h1v1h-1zM32 0h1v1h-1zM94 0h1v1h-1zM26 1h1v1h-1zM56 1h1v1h-1zM65 1h1v1h-1zM86 1h1v1h-1zM24 3h1v1h-1zM59 3h1v1h-1zM87 3h1v1h-1zM43 4h1v1h-1zM53 4h1v1h-1zM98 4h1v1h-1zM94 5h1v1h-1zM25 7h2v1h-2zM30 7h1v1h-1zM86 7h1v1h-1zM91 7h1v1h-1zM9 8h1v1h-1zM13 8h1v1h-1zM18 8h1v1h-1zM69 8h1v1h-1zM82 8h1v1h-1zM8 9h1v1h-1zM28 9h1v1h-1zM49 9h1v1h-1zM54 9h1v1h-1zM55 11h1v1h-1zM60 11h1v1h-1zM90 11h1v1h-1zM96 11h1v1h-1zM27 12h1v1h-1zM55 12h1v1h-1zM60 12h1v1h-1zM96 12h1v1h-1zM8 13h1v1h-1zM28 13h1v1h-1zM49 13h1v1h-1zM54 13h1v1h-1zM72 13h1v1h-1zM59 14h1v1h-1zM22 15h1v1h-1zM25 15h1v1h-1zM30 15h1v1h-1zM99 15h1v1h-1zM26 16h1v1h-1zM56 16h1v1h-1zM86 16h1v1h-1zM8 18h1v1h-1zM28 18h1v1h-1zM49 18h1v1h-1zM54 18h1v1h-1zM88 19h1v1h-1zM0 20h1v1h-1zM42 20h1v1h-1zM26 21h1v1h-1zM86 21h1v1h-1zM91 21h1v1h-1zM15 22h1v1h-1zM37 22h1v1h-1zM45 22h1v1h-1zM28 23h1v1h-1zM3 24h1v1h-1zM44 24h1v1h-1zM7 25h1v1h-1zM15 25h1v1h-1zM40 25h1v1h-1zM1 26h1v1h-1zM7 26h1v1h-1zM16 26h1v1h-1zM21 26h1v1h-1zM45 26h1v1h-1zM76 26h1v1h-1zM85 26h1v1h-1zM95 26h1v1h-1zM12 27h1v1h-1zM35 27h1v1h-1zM9 28h1v1h-1zM13 28h1v1h-1zM18 28h1v1h-1zM23 28h1v1h-1zM29 28h1v1h-1zM34 28h1v1h-1zM69 28h1v1h-1zM82 28h1v1h-1zM28 29h1v1h-1zM7 30h1v1h-1zM15 30h1v1h-1zM40 30h1v1h-1zM56 31h1v1h-1zM65 31h2v1h-2zM0 32h1v1h-1zM42 32h1v1h-1zM64 33h1v1h-1zM92 33h1v1h-1zM97 33h1v1h-1zM28 34h1v1h-1zM49 34h1v1h-1zM54 34h1v1h-1zM27 35h1v1h-1zM55 35h1v1h-1zM60 35h1v1h-1zM96 35h1v1h-1zM22 37h1v1h-1zM73 38h1v1h-1zM25 40h1v1h-1zM30 40h1v1h-1zM91 40h1v1h-1zM66 41h1v1h-1zM20 42h1v1h-1zM32 42h1v1h-1zM4 43h1v1h-1zM83 43h1v1h-1zM24 44h1v1h-1zM59 44h1v1h-1zM87 44h1v1h-1zM22 45h1v1h-1zM26 45h1v1h-1zM65 45h1v1h-1zM55 46h1v1h-1zM60 46h1v1h-1zM90 46h1v1h-1zM96 46h1v1h-1zM94 47h1v1h-1zM73 48h1v1h-1zM9 49h1v1h-1zM13 49h1v1h-1zM18 49h1v1h-1zM34 49h1v1h-1zM69 49h1v1h-1zM82 49h1v1h-1zM57 52h1v1h-1zM62 52h1v1h-1zM67 52h1v1h-1zM84 52h1v1h-1zM89 52h1v1h-1zM4 53h1v1h-1zM83 53h1v1h-1zM9 54h1v1h-1zM13 54h1v1h-1zM18 54h1v1h-1zM34 54h1v1h-1zM69 54h1v1h-1zM82 54h1v1h-1zM11 55h2v1h-2zM35 55h1v1h-1zM46 55h1v1h-1zM70 55h1v1h-1zM1 56h1v1h-1zM16 56h1v1h-1zM31 56h1v1h-1zM76 56h1v1h-1zM85 56h1v1h-1zM95 56h1v1h-1zM52 57h1v1h-1zM77 57h1v1h-1zM3 59h1v1h-1zM14 59h1v1h-1zM44 59h1v1h-1zM74 59h1v1h-1zM79 59h1v1h-1zM11 60h2v1h-2zM35 60h1v1h-1zM46 60h1v1h-1zM70 60h1v1h-1zM52 62h1v1h-1zM77 62h1v1h-1zM82 62h1v1h-1zM33 64h1v1h-1zM77 64h1v1h-1zM1 65h1v1h-1zM31 65h1v1h-1zM45 65h1v1h-1zM85 65h1v1h-1zM95 65h1v1h-1zM31 66h1v1h-1zM41 66h1v1h-1zM71 66h1v1h-1zM95 66h1v1h-1zM52 67h1v1h-1zM77 67h1v1h-1zM8 69h1v1h-1zM28 69h1v1h-1zM49 69h1v1h-1zM54 69h1v1h-1zM72 69h1v1h-1zM55 70h1v1h-1zM60 70h1v1h-1zM81 70h1v1h-1zM90 70h1v1h-1zM96 70h1v1h-1zM66 71h1v1h-1zM13 72h1v1h-1zM69 72h1v1h-1zM38 73h1v1h-1zM48 73h1v1h-1zM78 73h1v1h-1zM59 74h1v1h-1zM26 76h1v1h-1zM56 76h1v1h-1zM86 76h1v1h-1zM57 77h1v1h-1zM62 77h1v1h-1zM64 77h1v1h-1zM67 77h1v1h-1zM84 77h1v1h-1zM89 77h1v1h-1zM92 77h1v1h-1zM97 77h1v1h-1zM73 78h1v1h-1zM59 79h1v1h-1zM87 79h1v1h-1zM70 81h1v1h-1zM8 82h1v1h-1zM28 82h1v1h-1zM49 82h1v1h-1zM54 82h1v1h-1zM62 82h1v1h-1zM97 82h1v1h-1zM43 83h1v1h-1zM53 83h1v1h-1zM98 83h1v1h-1zM52 84h1v1h-1zM77 84h1v1h-1zM99 84h1v1h-1zM26 85h1v1h-1zM56 85h1v1h-1zM65 85h1v1h-1zM86 85h1v1h-1zM1 86h1v1h-1zM7 86h1v1h-1zM16 86h1v1h-1zM21 86h1v1h-1zM76 86h1v1h-1zM85 86h1v1h-1zM3 87h1v1h-1zM44 87h1v1h-1zM79 87h1v1h-1zM19 88h1v1h-1zM93 88h1v1h-1zM52 89h1v1h-1zM77 89h1v1h-1zM99 89h1v1h-1zM11 90h1v1h-1zM46 90h1v1h-1zM70 90h1v1h-1zM7 91h1v1h-1zM21 91h1v1h-1zM40 91h1v1h-1zM33 92h1v1h-1zM77 92h1v1h-1zM88 93h1v1h-1zM0 94h1v1h-1zM5 94h1v1h-1zM47 94h1v1h-1zM26 95h1v1h-1zM56 95h1v1h-1zM65 95h2v1h-2zM11 96h2v1h-2zM35 96h1v1h-1zM46 96h1v1h-1zM70 96h1v1h-1zM33 97h1v1h-1zM77 97h1v1h-1zM82 97h1v1h-1zM4 98h1v1h-1zM83 98h1v1h-1zM15 99h1v1h-1zM84 99h1v1h-1zM89 99h1v1h-1z"/><path fill="#0000d7" d="M27 0h1v1h-1zM66 1h1v1h-1zM91 1h1v1h-1zM11 2h1v1h-1zM17 2h1v1h-1zM22 2h1v1h-1zM46 2h1v1h-1zM70 2h1v1h-1zM38 4h1v1h-1zM48 4h1v1h-1zM78 4h1v1h-1zM20 5h1v1h-1zM27 5h1v1h-1zM32 5h1v1h-1zM65 6h1v1h-1zM65 7h1v1h-1zM23 8h1v1h-1zM29 8h1v1h-1zM34 8h1v1h-1zM39 8h1v1h-1zM77 8h1v1h-1zM64 9h1v1h-1zM88 9h1v1h-1zM92 9h1v1h-1zM97 9h1v1h-1zM25 10h1v1h-1zM30 10h1v1h-1zM2 11h1v1h-1zM50 11h1v1h-1zM20 12h1v1h-1zM32 12h1v1h-1zM91 12h1v1h-1zM57 13h1v1h-1zM62 13h1v1h-1zM67 13h1v1h-1zM84 13h1v1h-1zM89 13h1v1h-1zM24 14h1v1h-1zM17 15h1v1h-1zM52 15h1v1h-1zM60 16h1v1h-1zM66 16h1v1h-1zM91 16h1v1h-1zM2 17h1v1h-1zM15 17h1v1h-1zM37 17h1v1h-1zM50 17h1v1h-1zM55 17h1v1h-1zM64 18h1v1h-1zM88 18h1v1h-1zM92 18h1v1h-1zM97 18h1v1h-1zM68 19h1v1h-1zM5 20h1v1h-1zM12 20h1v1h-1zM35 20h1v1h-1zM47 20h1v1h-1zM56 21h1v1h-1zM60 21h1v1h-1zM66 21h1v1h-1zM96 21h1v1h-1zM2 22h1v1h-1zM8 23h1v1h-1zM49 23h1v1h-1zM54 23h1v1h-1zM58 23h1v1h-1zM88 23h1v1h-1zM97 23h1v1h-1zM14 24h1v1h-1zM38 24h1v1h-1zM48 24h1v1h-1zM78 24h1v1h-1zM10 25h1v1h-1zM45 25h1v1h-1zM31 26h1v1h-1zM40 26h2v1h-2zM51 26h1v1h-1zM71 26h1v1h-1zM75 26h1v1h-1zM80 26h1v1h-1zM0 27h1v1h-1zM5 27h1v1h-1zM42 27h1v1h-1zM47 27h1v1h-1zM39 28h1v1h-1zM77 28h1v1h-1zM8 29h1v1h-1zM49 29h1v1h-1zM54 29h1v1h-1zM58 29h1v1h-1zM63 29h1v1h-1zM88 29h1v1h-1zM97 29h1v1h-1zM10 30h1v1h-1zM45 30h1v1h-1zM26 31h1v1h-1zM86 31h1v1h-1zM5 32h1v1h-1zM12 32h1v1h-1zM35 32h1v1h-1zM47 32h1v1h-1zM59 33h1v1h-1zM87 33h1v1h-1zM8 34h1v1h-1zM88 34h1v1h-1zM97 34h1v1h-1zM20 35h1v1h-1zM32 35h1v1h-1zM91 35h1v1h-1zM65 36h1v1h-1zM17 37h1v1h-1zM52 37h1v1h-1zM99 37h1v1h-1zM4 38h1v1h-1zM24 38h1v1h-1zM83 38h1v1h-1zM8 39h1v1h-1zM28 39h1v1h-1zM49 39h1v1h-1zM54 39h1v1h-1zM58 39h1v1h-1zM63 39h1v1h-1zM88 39h1v1h-1zM26 40h1v1h-1zM65 40h1v1h-1zM86 40h1v1h-1zM26 41h1v1h-1zM65 41h1v1h-1zM86 41h1v1h-1zM27 42h1v1h-1zM94 42h1v1h-1zM25 45h1v1h-1zM30 45h1v1h-1zM2 46h1v1h-1zM50 46h1v1h-1zM20 47h1v1h-1zM27 47h1v1h-1zM32 47h1v1h-1zM4 48h1v1h-1zM24 48h1v1h-1zM83 48h1v1h-1zM23 49h1v1h-1zM29 49h1v1h-1zM39 49h1v1h-1zM77 49h1v1h-1zM11 50h1v1h-1zM17 50h1v1h-1zM46 50h1v1h-1zM70 50h1v1h-1zM26 51h1v1h-1zM65 51h1v1h-1zM15 52h1v1h-1zM37 52h1v1h-1zM72 52h1v1h-1zM23 54h1v1h-1zM29 54h1v1h-1zM39 54h1v1h-1zM77 54h1v1h-1zM17 55h1v1h-1zM21 56h1v1h-1zM13 57h1v1h-1zM69 57h1v1h-1zM82 57h1v1h-1zM99 57h1v1h-1zM23 58h1v1h-1zM29 58h1v1h-1zM39 58h1v1h-1zM33 59h1v1h-1zM16 60h1v1h-1zM21 60h1v1h-1zM76 60h1v1h-1zM13 62h1v1h-1zM69 62h1v1h-1zM99 62h1v1h-1zM29 63h1v1h-1zM39 63h1v1h-1zM73 63h1v1h-1zM9 64h1v1h-1zM18 64h1v1h-1zM74 64h1v1h-1zM79 64h1v1h-1zM6 65h2v1h-2zM36 65h1v1h-1zM40 65h2v1h-2zM51 65h1v1h-1zM71 65h1v1h-1zM75 65h1v1h-1zM80 65h1v1h-1zM1 66h1v1h-1zM16 66h1v1h-1zM21 66h1v1h-1zM76 66h1v1h-1zM85 66h1v1h-1zM13 67h1v1h-1zM69 67h1v1h-1zM82 67h1v1h-1zM99 67h1v1h-1zM19 68h1v1h-1zM57 69h1v1h-1zM62 69h1v1h-1zM67 69h1v1h-1zM84 69h1v1h-1zM89 69h1v1h-1zM2 70h1v1h-1zM50 70h1v1h-1zM26 71h1v1h-1zM65 71h1v1h-1zM86 71h1v1h-1zM52 72h1v1h-1zM63 73h1v1h-1zM64 74h1v1h-1zM87 74h1v1h-1zM92 74h1v1h-1zM94 74h1v1h-1zM26 75h1v1h-1zM65 75h1v1h-1zM60 76h1v1h-1zM66 76h1v1h-1zM91 76h1v1h-1zM8 77h1v1h-1zM28 77h1v1h-1zM49 77h1v1h-1zM54 77h1v1h-1zM4 78h1v1h-1zM24 78h1v1h-1zM83 78h1v1h-1zM64 79h1v1h-1zM92 79h1v1h-1zM94 79h1v1h-1zM97 79h1v1h-1zM26 80h1v1h-1zM65 80h1v1h-1zM57 82h1v1h-1zM67 82h1v1h-1zM84 82h1v1h-1zM89 82h1v1h-1zM38 83h1v1h-1zM48 83h1v1h-1zM78 83h1v1h-1zM13 84h1v1h-1zM69 84h1v1h-1zM82 84h1v1h-1zM66 85h1v1h-1zM91 85h1v1h-1zM31 86h1v1h-1zM40 86h2v1h-2zM71 86h1v1h-1zM95 86h1v1h-1zM33 87h1v1h-1zM74 87h1v1h-1zM9 88h1v1h-1zM18 88h1v1h-1zM23 88h1v1h-1zM29 88h1v1h-1zM34 88h1v1h-1zM39 88h1v1h-1zM13 89h1v1h-1zM69 89h1v1h-1zM82 89h1v1h-1zM1 91h1v1h-1zM12 91h1v1h-1zM16 91h1v1h-1zM35 91h1v1h-1zM76 91h1v1h-1zM85 91h1v1h-1zM95 91h1v1h-1zM9 92h1v1h-1zM18 92h1v1h-1zM74 92h1v1h-1zM79 92h1v1h-1zM42 94h1v1h-1zM74 94h1v1h-1zM79 94h1v1h-1zM86 95h1v1h-1zM91 95h1v1h-1zM21 96h1v1h-1zM9 97h1v1h-1zM18 97h1v1h-1zM23 97h1v1h-1zM29 97h1v1h-1zM34 97h1v1h-1zM79 97h1v1h-1zM37 99h1v1h-1zM57 99h1v1h-1zM62 99h1v1h-1zM67 99h1v1h-1z"/><path fill="#0000e7" d="M25 0h1v1h-1zM57 0h1v1h-1zM67 0h1v1h-1zM84 0h1v1h-1zM89 0h1v1h-1zM55 1h1v1h-1zM60 1h1v1h-1zM96 1h1v1h-1zM21 2h1v1h-1zM25 2h1v1h-1zM30 2h1v1h-1zM13 3h1v1h-1zM69 3h1v1h-1zM63 4h1v1h-1zM57 5h1v1h-1zM62 5h1v1h-1zM67 5h1v1h-1zM84 5h1v1h-1zM89 5h1v1h-1zM26 6h1v1h-1zM86 6h1v1h-1zM20 7h1v1h-1zM27 7h1v1h-1zM32 7h1v1h-1zM74 8h1v1h-1zM79 8h1v1h-1zM58 9h2v1h-2zM63 9h1v1h-1zM87 9h1v1h-1zM17 10h1v1h-1zM22 10h1v1h-1zM94 10h1v1h-1zM56 11h1v1h-1zM66 11h1v1h-1zM26 12h1v1h-1zM37 12h1v1h-1zM65 12h1v1h-1zM86 12h1v1h-1zM3 13h1v1h-1zM14 13h1v1h-1zM13 14h1v1h-1zM69 14h1v1h-1zM82 14h1v1h-1zM55 16h1v1h-1zM96 16h1v1h-1zM10 17h1v1h-1zM60 17h1v1h-1zM96 17h1v1h-1zM58 18h2v1h-2zM63 18h1v1h-1zM87 18h1v1h-1zM7 20h1v1h-1zM40 20h1v1h-1zM99 20h1v1h-1zM2 21h1v1h-1zM50 21h1v1h-1zM55 21h1v1h-1zM10 22h1v1h-1zM50 22h1v1h-1zM55 22h1v1h-1zM96 22h1v1h-1zM63 23h2v1h-2zM87 23h1v1h-1zM92 23h1v1h-1zM43 24h1v1h-1zM53 24h1v1h-1zM98 24h1v1h-1zM0 25h1v1h-1zM2 25h1v1h-1zM42 25h1v1h-1zM50 25h1v1h-1zM6 26h1v1h-1zM12 26h1v1h-1zM35 26h2v1h-2zM61 26h1v1h-1zM81 26h1v1h-1zM90 26h1v1h-1zM7 27h1v1h-1zM40 27h1v1h-1zM79 28h1v1h-1zM64 29h1v1h-1zM87 29h1v1h-1zM92 29h1v1h-1zM2 30h1v1h-1zM50 30h1v1h-1zM60 31h1v1h-1zM91 31h1v1h-1zM7 32h1v1h-1zM40 32h1v1h-1zM99 32h1v1h-1zM88 33h1v1h-1zM58 34h1v1h-1zM63 34h2v1h-2zM87 34h1v1h-1zM92 34h1v1h-1zM26 35h1v1h-1zM37 35h1v1h-1zM65 35h1v1h-1zM86 35h1v1h-1zM26 36h1v1h-1zM86 36h1v1h-1zM12 37h1v1h-1zM35 37h1v1h-1zM64 39h1v1h-1zM92 39h1v1h-1zM97 39h1v1h-1zM20 40h1v1h-1zM27 40h1v1h-1zM32 40h1v1h-1zM91 41h1v1h-1zM25 42h1v1h-1zM67 42h1v1h-1zM84 42h1v1h-1zM89 42h1v1h-1zM24 43h1v1h-1zM69 44h1v1h-1zM70 45h1v1h-1zM56 46h1v1h-1zM66 46h1v1h-1zM57 47h1v1h-1zM62 47h1v1h-1zM67 47h1v1h-1zM84 47h1v1h-1zM89 47h1v1h-1zM74 49h1v1h-1zM79 49h1v1h-1zM21 50h2v1h-2zM25 50h1v1h-1zM30 50h1v1h-1zM76 50h1v1h-1zM86 51h1v1h-1zM91 51h1v1h-1zM24 53h1v1h-1zM74 54h1v1h-1zM79 54h1v1h-1zM1 55h1v1h-1zM16 55h1v1h-1zM21 55h2v1h-2zM76 55h1v1h-1zM85 55h1v1h-1zM95 55h1v1h-1zM11 56h1v1h-1zM46 56h1v1h-1zM70 56h1v1h-1zM0 57h1v1h-1zM5 57h1v1h-1zM47 57h1v1h-1zM9 58h1v1h-1zM18 58h1v1h-1zM34 58h1v1h-1zM73 58h1v1h-1zM9 59h1v1h-1zM18 59h1v1h-1zM72 59h1v1h-1zM1 60h1v1h-1zM17 60h1v1h-1zM31 60h1v1h-1zM85 60h1v1h-1zM95 60h1v1h-1zM26 61h1v1h-1zM65 61h1v1h-1zM86 61h1v1h-1zM5 62h1v1h-1zM47 62h1v1h-1zM4 63h1v1h-1zM9 63h1v1h-1zM18 63h1v1h-1zM23 63h1v1h-1zM34 63h1v1h-1zM23 64h1v1h-1zM29 64h1v1h-1zM34 64h1v1h-1zM39 64h1v1h-1zM12 65h1v1h-1zM35 65h1v1h-1zM61 65h1v1h-1zM81 65h1v1h-1zM90 65h1v1h-1zM11 66h1v1h-1zM46 66h1v1h-1zM0 67h1v1h-1zM5 67h1v1h-1zM42 67h1v1h-1zM47 67h1v1h-1zM93 68h1v1h-1zM3 69h1v1h-1zM14 69h1v1h-1zM44 69h1v1h-1zM45 70h1v1h-1zM56 70h1v1h-1zM91 71h1v1h-1zM59 72h1v1h-1zM87 72h1v1h-1zM99 72h1v1h-1zM58 73h1v1h-1zM88 73h1v1h-1zM8 74h1v1h-1zM49 74h1v1h-1zM54 74h1v1h-1zM97 74h1v1h-1zM86 75h1v1h-1zM91 75h1v1h-1zM50 76h1v1h-1zM55 76h1v1h-1zM96 76h1v1h-1zM94 77h1v1h-1zM8 79h1v1h-1zM28 79h1v1h-1zM49 79h1v1h-1zM54 79h1v1h-1zM86 80h1v1h-1zM91 80h1v1h-1zM26 81h1v1h-1zM65 81h1v1h-1zM86 81h1v1h-1zM14 82h1v1h-1zM0 84h1v1h-1zM5 84h1v1h-1zM42 84h1v1h-1zM47 84h1v1h-1zM55 85h1v1h-1zM60 85h1v1h-1zM96 85h1v1h-1zM6 86h1v1h-1zM12 86h1v1h-1zM35 86h2v1h-2zM51 86h1v1h-1zM61 86h1v1h-1zM75 86h1v1h-1zM80 86h2v1h-2zM9 87h1v1h-1zM18 87h1v1h-1zM23 87h1v1h-1zM29 87h1v1h-1zM34 87h1v1h-1zM72 87h1v1h-1zM33 88h1v1h-1zM73 88h1v1h-1zM0 89h1v1h-1zM5 89h1v1h-1zM42 89h1v1h-1zM47 89h1v1h-1zM26 90h1v1h-1zM65 90h1v1h-1zM31 91h1v1h-1zM41 91h1v1h-1zM51 91h1v1h-1zM71 91h1v1h-1zM75 91h1v1h-1zM80 91h1v1h-1zM23 92h1v1h-1zM29 92h1v1h-1zM34 92h1v1h-1zM39 92h1v1h-1zM68 93h1v1h-1zM10 94h1v1h-1zM77 94h1v1h-1zM55 95h1v1h-1zM60 95h1v1h-1zM96 95h1v1h-1zM1 96h1v1h-1zM16 96h2v1h-2zM22 96h1v1h-1zM76 96h1v1h-1zM85 96h1v1h-1zM95 96h1v1h-1zM39 97h1v1h-1zM74 97h1v1h-1zM24 98h1v1h-1zM20 99h1v1h-1zM32 99h1v1h-1zM72 99h1v1h-1z"/><path fill="#0000f7" d="M22 0h1v1h-1zM30 0h1v1h-1zM62 0h1v1h-1zM72 0h1v1h-1zM2 1h1v1h-1zM50 1h1v1h-1zM1 2h1v1h-1zM16 2h1v1h-1zM76 2h1v1h-1zM85 2h1v1h-1zM95 2h1v1h-1zM77 3h1v1h-1zM82 3h1v1h-1zM58 4h1v1h-1zM88 4h1v1h-1zM25 5h1v1h-1zM30 5h1v1h-1zM72 5h1v1h-1zM60 6h1v1h-1zM91 6h1v1h-1zM11 7h1v1h-1zM46 7h1v1h-1zM70 7h1v1h-1zM24 8h1v1h-1zM38 9h1v1h-1zM48 9h1v1h-1zM78 9h1v1h-1zM7 11h1v1h-1zM45 11h1v1h-1zM15 12h1v1h-1zM44 13h1v1h-1zM94 13h1v1h-1zM77 14h1v1h-1zM12 15h1v1h-1zM35 15h1v1h-1zM94 15h1v1h-1zM2 16h1v1h-1zM50 16h1v1h-1zM26 17h1v1h-1zM86 17h1v1h-1zM91 17h1v1h-1zM38 18h1v1h-1zM48 18h1v1h-1zM78 18h1v1h-1zM24 19h1v1h-1zM45 20h1v1h-1zM52 20h1v1h-1zM0 22h1v1h-1zM42 22h1v1h-1zM60 22h1v1h-1zM91 22h1v1h-1zM38 23h1v1h-1zM48 23h1v1h-1zM59 23h1v1h-1zM78 23h1v1h-1zM8 24h1v1h-1zM19 24h1v1h-1zM28 24h1v1h-1zM49 24h1v1h-1zM54 24h1v1h-1zM93 24h1v1h-1zM97 24h1v1h-1zM5 25h1v1h-1zM47 25h1v1h-1zM55 25h1v1h-1zM96 25h1v1h-1zM17 26h1v1h-1zM45 27h1v1h-1zM52 27h1v1h-1zM99 27h1v1h-1zM24 28h1v1h-1zM74 28h1v1h-1zM38 29h1v1h-1zM48 29h1v1h-1zM59 29h1v1h-1zM78 29h1v1h-1zM0 30h1v1h-1zM5 30h1v1h-1zM42 30h1v1h-1zM47 30h1v1h-1zM55 30h1v1h-1zM60 30h1v1h-1zM96 30h1v1h-1zM50 31h1v1h-1zM55 31h1v1h-1zM96 31h1v1h-1zM45 32h1v1h-1zM52 32h1v1h-1zM58 33h1v1h-1zM63 33h1v1h-1zM69 33h1v1h-1zM38 34h1v1h-1zM48 34h1v1h-1zM59 34h1v1h-1zM78 34h1v1h-1zM15 35h1v1h-1zM60 36h1v1h-1zM91 36h1v1h-1zM9 38h1v1h-1zM18 38h1v1h-1zM23 38h1v1h-1zM29 38h1v1h-1zM34 38h1v1h-1zM39 38h1v1h-1zM38 39h1v1h-1zM48 39h1v1h-1zM59 39h1v1h-1zM78 39h1v1h-1zM87 39h1v1h-1zM70 40h1v1h-1zM55 41h1v1h-1zM60 41h1v1h-1zM96 41h1v1h-1zM22 42h1v1h-1zM30 42h1v1h-1zM57 42h1v1h-1zM62 42h1v1h-1zM68 43h1v1h-1zM13 44h1v1h-1zM82 44h1v1h-1zM88 44h1v1h-1zM11 45h1v1h-1zM20 45h1v1h-1zM27 45h1v1h-1zM32 45h1v1h-1zM46 45h1v1h-1zM7 46h1v1h-1zM45 46h1v1h-1zM25 47h1v1h-1zM30 47h1v1h-1zM72 47h1v1h-1zM9 48h1v1h-1zM18 48h1v1h-1zM23 48h1v1h-1zM29 48h1v1h-1zM34 48h1v1h-1zM39 48h1v1h-1zM24 49h1v1h-1zM1 50h1v1h-1zM16 50h1v1h-1zM31 50h1v1h-1zM85 50h1v1h-1zM95 50h1v1h-1zM55 51h1v1h-1zM60 51h1v1h-1zM96 51h1v1h-1zM20 52h1v1h-1zM27 52h1v1h-1zM32 52h1v1h-1zM74 52h1v1h-1zM68 53h1v1h-1zM24 54h1v1h-1zM25 55h1v1h-1zM30 55h2v1h-2zM41 55h1v1h-1zM51 55h1v1h-1zM71 55h1v1h-1zM75 55h1v1h-1zM80 55h1v1h-1zM42 57h1v1h-1zM59 57h1v1h-1zM4 58h1v1h-1zM33 58h1v1h-1zM83 58h1v1h-1zM23 59h1v1h-1zM29 59h1v1h-1zM34 59h1v1h-1zM39 59h1v1h-1zM57 59h1v1h-1zM62 59h1v1h-1zM67 59h1v1h-1zM84 59h1v1h-1zM89 59h1v1h-1zM6 60h1v1h-1zM22 60h1v1h-1zM30 60h1v1h-1zM36 60h1v1h-1zM41 60h1v1h-1zM51 60h1v1h-1zM61 60h1v1h-1zM71 60h1v1h-1zM75 60h1v1h-1zM80 60h1v1h-1zM60 61h1v1h-1zM91 61h1v1h-1zM0 62h1v1h-1zM42 62h1v1h-1zM59 62h1v1h-1zM87 62h1v1h-1zM33 63h1v1h-1zM83 63h1v1h-1zM72 64h1v1h-1zM70 66h1v1h-1zM59 67h1v1h-1zM43 68h1v1h-1zM53 68h1v1h-1zM98 68h1v1h-1zM33 69h1v1h-1zM94 69h1v1h-1zM7 70h1v1h-1zM40 70h1v1h-1zM66 70h1v1h-1zM55 71h1v1h-1zM60 71h1v1h-1zM96 71h1v1h-1zM0 72h1v1h-1zM5 72h1v1h-1zM47 72h1v1h-1zM64 72h1v1h-1zM92 72h1v1h-1zM28 74h1v1h-1zM52 74h1v1h-1zM55 75h1v1h-1zM60 75h1v1h-1zM96 75h1v1h-1zM2 76h1v1h-1zM3 77h1v1h-1zM14 77h1v1h-1zM9 78h1v1h-1zM18 78h1v1h-1zM23 78h1v1h-1zM29 78h1v1h-1zM34 78h1v1h-1zM39 78h1v1h-1zM55 80h1v1h-1zM60 80h1v1h-1zM96 80h1v1h-1zM91 81h1v1h-1zM3 82h1v1h-1zM44 82h1v1h-1zM94 82h1v1h-1zM58 83h1v1h-1zM63 83h1v1h-1zM88 83h1v1h-1zM59 84h1v1h-1zM2 85h1v1h-1zM50 85h1v1h-1zM17 86h1v1h-1zM90 86h1v1h-1zM39 87h1v1h-1zM62 87h1v1h-1zM4 88h1v1h-1zM44 88h1v1h-1zM83 88h1v1h-1zM59 89h1v1h-1zM86 90h1v1h-1zM91 90h1v1h-1zM6 91h1v1h-1zM17 91h1v1h-1zM22 91h1v1h-1zM36 91h1v1h-1zM61 91h1v1h-1zM81 91h1v1h-1zM90 91h1v1h-1zM72 92h1v1h-1zM24 93h1v1h-1zM13 94h1v1h-1zM15 94h1v1h-1zM69 94h1v1h-1zM82 94h1v1h-1zM2 95h1v1h-1zM50 95h1v1h-1zM25 96h1v1h-1zM30 96h2v1h-2zM41 96h1v1h-1zM51 96h1v1h-1zM71 96h1v1h-1zM75 96h1v1h-1zM80 96h1v1h-1zM24 97h1v1h-1zM68 98h1v1h-1zM27 99h1v1h-1z"/><path fill="#0008ff" d="M17 0h1v1h-1zM45 1h1v1h-1zM20 2h1v1h-1zM27 2h1v1h-1zM31 2h2v1h-2zM41 2h1v1h-1zM51 2h1v1h-1zM71 2h1v1h-1zM75 2h1v1h-1zM80 2h1v1h-1zM58 3h1v1h-1zM63 3h1v1h-1zM79 3h1v1h-1zM88 3h1v1h-1zM22 5h1v1h-1zM50 6h1v1h-1zM55 6h1v1h-1zM96 6h1v1h-1zM15 7h1v1h-1zM21 7h1v1h-1zM37 7h1v1h-1zM72 8h1v1h-1zM43 9h1v1h-1zM53 9h1v1h-1zM69 9h1v1h-1zM98 9h1v1h-1zM12 10h1v1h-1zM35 10h1v1h-1zM57 10h1v1h-1zM62 10h1v1h-1zM67 10h1v1h-1zM84 10h1v1h-1zM89 10h1v1h-1zM40 11h1v1h-1zM10 12h1v1h-1zM33 13h1v1h-1zM58 14h1v1h-1zM74 14h1v1h-1zM79 14h1v1h-1zM88 14h1v1h-1zM7 15h1v1h-1zM40 15h1v1h-1zM45 16h1v1h-1zM0 17h1v1h-1zM42 17h1v1h-1zM65 17h1v1h-1zM43 18h1v1h-1zM53 18h1v1h-1zM69 18h1v1h-1zM98 18h1v1h-1zM2 20h1v1h-1zM50 20h1v1h-1zM7 21h1v1h-1zM45 21h1v1h-1zM5 22h1v1h-1zM26 22h1v1h-1zM47 22h1v1h-1zM86 22h1v1h-1zM43 23h1v1h-1zM53 23h1v1h-1zM98 23h1v1h-1zM64 24h1v1h-1zM92 24h1v1h-1zM60 25h1v1h-1zM91 25h1v1h-1zM99 25h1v1h-1zM22 26h1v1h-1zM2 27h1v1h-1zM50 27h1v1h-1zM72 28h1v1h-1zM43 29h1v1h-1zM53 29h1v1h-1zM98 29h1v1h-1zM91 30h1v1h-1zM99 30h1v1h-1zM2 31h1v1h-1zM2 32h1v1h-1zM50 32h1v1h-1zM13 33h1v1h-1zM38 33h1v1h-1zM48 33h1v1h-1zM78 33h1v1h-1zM82 33h1v1h-1zM43 34h1v1h-1zM53 34h1v1h-1zM98 34h1v1h-1zM10 35h1v1h-1zM70 35h1v1h-1zM50 36h1v1h-1zM55 36h1v1h-1zM96 36h1v1h-1zM7 37h1v1h-1zM40 37h1v1h-1zM94 37h1v1h-1zM33 38h1v1h-1zM68 38h1v1h-1zM43 39h1v1h-1zM53 39h1v1h-1zM98 39h1v1h-1zM11 40h1v1h-1zM15 40h1v1h-1zM37 40h1v1h-1zM46 40h1v1h-1zM2 41h1v1h-1zM50 41h1v1h-1zM17 42h1v1h-1zM72 42h1v1h-1zM9 43h1v1h-1zM18 43h1v1h-1zM23 43h1v1h-1zM29 43h1v1h-1zM34 43h1v1h-1zM39 43h1v1h-1zM58 44h1v1h-1zM63 44h1v1h-1zM77 44h1v1h-1zM79 44h1v1h-1zM1 45h1v1h-1zM16 45h1v1h-1zM21 45h1v1h-1zM76 45h1v1h-1zM85 45h1v1h-1zM40 46h1v1h-1zM22 47h1v1h-1zM33 48h1v1h-1zM68 48h1v1h-1zM72 49h1v1h-1zM6 50h1v1h-1zM20 50h1v1h-1zM27 50h1v1h-1zM32 50h1v1h-1zM36 50h1v1h-1zM41 50h1v1h-1zM51 50h1v1h-1zM71 50h1v1h-1zM75 50h1v1h-1zM80 50h1v1h-1zM2 51h1v1h-1zM50 51h1v1h-1zM77 52h1v1h-1zM79 52h1v1h-1zM9 53h1v1h-1zM18 53h1v1h-1zM23 53h1v1h-1zM29 53h1v1h-1zM34 53h1v1h-1zM39 53h1v1h-1zM72 54h1v1h-1zM6 55h1v1h-1zM36 55h1v1h-1zM61 55h1v1h-1zM81 55h1v1h-1zM90 55h1v1h-1zM65 56h1v1h-1zM10 57h1v1h-1zM64 57h1v1h-1zM87 57h1v1h-1zM92 57h1v1h-1zM3 58h1v1h-1zM14 58h1v1h-1zM44 58h1v1h-1zM25 60h1v1h-1zM81 60h1v1h-1zM90 60h1v1h-1zM55 61h1v1h-1zM96 61h1v1h-1zM10 62h1v1h-1zM64 62h1v1h-1zM92 62h1v1h-1zM97 62h1v1h-1zM3 63h1v1h-1zM44 63h1v1h-1zM24 64h1v1h-1zM57 64h1v1h-1zM62 64h1v1h-1zM67 64h1v1h-1zM84 64h1v1h-1zM89 64h1v1h-1zM17 65h1v1h-1zM56 65h1v1h-1zM10 67h1v1h-1zM64 67h1v1h-1zM87 67h1v1h-1zM92 67h1v1h-1zM38 68h1v1h-1zM48 68h1v1h-1zM78 68h1v1h-1zM9 69h1v1h-1zM18 69h1v1h-1zM35 70h1v1h-1zM2 71h1v1h-1zM50 71h1v1h-1zM8 72h1v1h-1zM28 72h1v1h-1zM42 72h1v1h-1zM49 72h1v1h-1zM54 72h1v1h-1zM97 72h1v1h-1zM14 74h1v1h-1zM99 74h1v1h-1zM2 75h1v1h-1zM50 75h1v1h-1zM45 76h1v1h-1zM44 77h1v1h-1zM52 77h1v1h-1zM33 78h1v1h-1zM68 78h1v1h-1zM3 79h1v1h-1zM14 79h1v1h-1zM44 79h1v1h-1zM52 79h1v1h-1zM99 79h1v1h-1zM2 80h1v1h-1zM50 80h1v1h-1zM55 81h1v1h-1zM60 81h1v1h-1zM96 81h1v1h-1zM33 82h1v1h-1zM10 84h1v1h-1zM64 84h1v1h-1zM87 84h1v1h-1zM92 84h1v1h-1zM45 85h1v1h-1zM22 86h1v1h-1zM57 87h1v1h-1zM67 87h1v1h-1zM84 87h1v1h-1zM89 87h1v1h-1zM3 88h1v1h-1zM14 88h1v1h-1zM10 89h1v1h-1zM64 89h1v1h-1zM87 89h1v1h-1zM92 89h1v1h-1zM55 90h1v1h-1zM60 90h1v1h-1zM96 90h1v1h-1zM25 91h1v1h-1zM30 91h1v1h-1zM24 92h1v1h-1zM57 92h1v1h-1zM62 92h1v1h-1zM67 92h1v1h-1zM84 92h1v1h-1zM89 92h1v1h-1zM37 94h1v1h-1zM6 96h1v1h-1zM36 96h1v1h-1zM61 96h1v1h-1zM81 96h1v1h-1zM90 96h1v1h-1zM62 97h1v1h-1zM72 97h1v1h-1zM9 98h1v1h-1zM18 98h1v1h-1zM23 98h1v1h-1zM29 98h1v1h-1zM34 98h1v1h-1zM39 98h1v1h-1zM25 99h1v1h-1zM30 99h1v1h-1zM74 99h1v1h-1zM79 99h1v1h-1z"/><path fill="#0018ff" d="M74 0h1v1h-1zM7 1h1v1h-1zM40 1h1v1h-1zM6 2h1v1h-1zM36 2h1v1h-1zM61 2h1v1h-1zM81 2h1v1h-1zM90 2h1v1h-1zM74 3h1v1h-1zM17 5h1v1h-1zM74 5h1v1h-1zM79 5h1v1h-1zM2 6h1v1h-1zM1 7h1v1h-1zM10 7h1v1h-1zM16 7h1v1h-1zM76 7h1v1h-1zM85 7h1v1h-1zM95 7h1v1h-1zM57 8h1v1h-1zM62 8h1v1h-1zM67 8h1v1h-1zM84 8h1v1h-1zM89 8h1v1h-1zM13 9h1v1h-1zM82 9h1v1h-1zM93 9h1v1h-1zM7 10h1v1h-1zM40 10h1v1h-1zM72 10h1v1h-1zM12 11h1v1h-1zM35 11h1v1h-1zM11 12h1v1h-1zM42 12h1v1h-1zM46 12h1v1h-1zM70 12h1v1h-1zM9 13h1v1h-1zM18 13h1v1h-1zM23 13h1v1h-1zM29 13h1v1h-1zM34 13h1v1h-1zM39 13h1v1h-1zM52 13h1v1h-1zM63 14h1v1h-1zM45 15h1v1h-1zM57 15h1v1h-1zM62 15h1v1h-1zM67 15h1v1h-1zM84 15h1v1h-1zM89 15h1v1h-1zM7 16h1v1h-1zM40 16h1v1h-1zM5 17h1v1h-1zM47 17h1v1h-1zM13 18h1v1h-1zM82 18h1v1h-1zM93 18h1v1h-1zM23 19h1v1h-1zM29 19h1v1h-1zM34 19h1v1h-1zM39 19h1v1h-1zM55 20h1v1h-1zM94 20h1v1h-1zM96 20h1v1h-1zM40 21h1v1h-1zM65 22h1v1h-1zM99 22h1v1h-1zM13 23h1v1h-1zM19 23h1v1h-1zM69 23h1v1h-1zM82 23h1v1h-1zM93 23h1v1h-1zM59 24h1v1h-1zM73 24h1v1h-1zM87 24h1v1h-1zM26 25h1v1h-1zM52 25h1v1h-1zM65 25h1v1h-1zM86 25h1v1h-1zM25 26h1v1h-1zM30 26h1v1h-1zM56 26h1v1h-1zM66 26h1v1h-1zM55 27h1v1h-1zM60 27h1v1h-1zM96 27h1v1h-1zM62 28h1v1h-1zM13 29h1v1h-1zM19 29h1v1h-1zM69 29h1v1h-1zM82 29h1v1h-1zM93 29h1v1h-1zM26 30h1v1h-1zM52 30h1v1h-1zM65 30h1v1h-1zM86 30h1v1h-1zM45 31h1v1h-1zM55 32h1v1h-1zM94 32h1v1h-1zM96 32h1v1h-1zM43 33h1v1h-1zM53 33h1v1h-1zM77 33h1v1h-1zM79 33h1v1h-1zM98 33h1v1h-1zM13 34h1v1h-1zM19 34h1v1h-1zM69 34h1v1h-1zM82 34h1v1h-1zM93 34h1v1h-1zM11 35h1v1h-1zM46 35h1v1h-1zM2 36h1v1h-1zM45 37h1v1h-1zM84 37h1v1h-1zM89 37h1v1h-1zM44 38h1v1h-1zM13 39h1v1h-1zM19 39h1v1h-1zM69 39h1v1h-1zM93 39h1v1h-1zM1 40h1v1h-1zM10 40h1v1h-1zM16 40h1v1h-1zM21 40h1v1h-1zM76 40h1v1h-1zM85 40h1v1h-1zM45 41h1v1h-1zM12 42h1v1h-1zM33 43h1v1h-1zM38 44h1v1h-1zM48 44h1v1h-1zM74 44h1v1h-1zM78 44h1v1h-1zM15 45h1v1h-1zM31 45h1v1h-1zM37 45h1v1h-1zM41 45h1v1h-1zM71 45h1v1h-1zM75 45h1v1h-1zM80 45h1v1h-1zM95 45h1v1h-1zM12 46h1v1h-1zM35 46h1v1h-1zM17 47h1v1h-1zM74 47h1v1h-1zM79 47h1v1h-1zM44 48h1v1h-1zM57 49h1v1h-1zM62 49h1v1h-1zM61 50h1v1h-1zM81 50h1v1h-1zM90 50h1v1h-1zM13 52h1v1h-1zM25 52h1v1h-1zM30 52h1v1h-1zM82 52h1v1h-1zM33 53h1v1h-1zM57 54h1v1h-1zM62 54h1v1h-1zM67 54h1v1h-1zM84 54h1v1h-1zM89 54h1v1h-1zM20 55h1v1h-1zM27 55h1v1h-1zM32 55h1v1h-1zM26 56h1v1h-1zM86 56h1v1h-1zM8 57h1v1h-1zM15 57h1v1h-1zM49 57h1v1h-1zM54 57h1v1h-1zM97 57h1v1h-1zM68 58h1v1h-1zM24 59h1v1h-1zM94 59h1v1h-1zM27 60h1v1h-1zM2 61h1v1h-1zM50 61h1v1h-1zM8 62h1v1h-1zM15 62h1v1h-1zM28 62h1v1h-1zM49 62h1v1h-1zM54 62h1v1h-1zM14 63h1v1h-1zM68 63h1v1h-1zM22 65h1v1h-1zM25 65h1v1h-1zM30 65h1v1h-1zM66 65h1v1h-1zM26 66h1v1h-1zM65 66h1v1h-1zM86 66h1v1h-1zM8 67h1v1h-1zM15 67h1v1h-1zM54 67h1v1h-1zM97 67h1v1h-1zM58 68h1v1h-1zM63 68h1v1h-1zM23 69h1v1h-1zM29 69h1v1h-1zM34 69h1v1h-1zM39 69h1v1h-1zM12 70h1v1h-1zM45 71h1v1h-1zM10 72h1v1h-1zM24 73h1v1h-1zM0 74h1v1h-1zM3 74h1v1h-1zM5 74h1v1h-1zM44 74h1v1h-1zM47 74h1v1h-1zM45 75h1v1h-1zM7 76h1v1h-1zM40 76h1v1h-1zM33 77h1v1h-1zM99 77h1v1h-1zM44 78h1v1h-1zM5 79h1v1h-1zM33 79h1v1h-1zM47 79h1v1h-1zM45 80h1v1h-1zM2 81h1v1h-1zM50 81h1v1h-1zM9 82h1v1h-1zM18 82h1v1h-1zM23 82h1v1h-1zM29 82h1v1h-1zM34 82h1v1h-1zM52 82h1v1h-1zM8 84h1v1h-1zM15 84h1v1h-1zM37 84h1v1h-1zM54 84h1v1h-1zM97 84h1v1h-1zM7 85h1v1h-1zM40 85h1v1h-1zM25 86h1v1h-1zM30 86h1v1h-1zM56 86h1v1h-1zM66 86h1v1h-1zM24 87h1v1h-1zM8 89h1v1h-1zM15 89h1v1h-1zM37 89h1v1h-1zM54 89h1v1h-1zM97 89h1v1h-1zM2 90h1v1h-1zM50 90h1v1h-1zM9 93h1v1h-1zM18 93h1v1h-1zM23 93h1v1h-1zM29 93h1v1h-1zM34 93h1v1h-1zM39 93h1v1h-1zM20 94h1v1h-1zM32 94h1v1h-1zM59 94h1v1h-1zM7 95h1v1h-1zM45 95h1v1h-1zM20 96h1v1h-1zM27 96h1v1h-1zM32 96h1v1h-1zM57 97h1v1h-1zM67 97h1v1h-1zM84 97h1v1h-1zM89 97h1v1h-1zM33 98h1v1h-1zM22 99h1v1h-1zM77 99h1v1h-1z"/><path fill="#0028ff" d="M12 0h1v1h-1zM35 0h1v1h-1zM79 0h1v1h-1zM35 1h1v1h-1zM15 2h1v1h-1zM37 2h1v1h-1zM38 3h1v1h-1zM48 3h1v1h-1zM78 3h1v1h-1zM24 4h1v1h-1zM12 5h1v1h-1zM35 5h1v1h-1zM77 5h1v1h-1zM45 6h1v1h-1zM31 7h1v1h-1zM41 7h1v1h-1zM51 7h1v1h-1zM71 7h1v1h-1zM75 7h1v1h-1zM80 7h1v1h-1zM88 8h1v1h-1zM19 9h1v1h-1zM77 9h1v1h-1zM79 9h1v1h-1zM45 10h1v1h-1zM17 11h1v1h-1zM0 12h1v1h-1zM5 12h1v1h-1zM16 12h1v1h-1zM21 12h1v1h-1zM47 12h1v1h-1zM76 12h1v1h-1zM99 13h1v1h-1zM38 14h1v1h-1zM48 14h1v1h-1zM72 14h1v1h-1zM78 14h1v1h-1zM2 15h1v1h-1zM72 15h1v1h-1zM12 16h1v1h-1zM35 16h1v1h-1zM11 17h1v1h-1zM46 17h1v1h-1zM52 17h1v1h-1zM70 17h1v1h-1zM99 17h1v1h-1zM19 18h1v1h-1zM77 18h1v1h-1zM9 19h1v1h-1zM18 19h1v1h-1zM60 20h1v1h-1zM91 20h1v1h-1zM12 21h1v1h-1zM35 21h1v1h-1zM52 22h1v1h-1zM77 23h1v1h-1zM4 24h1v1h-1zM83 24h1v1h-1zM91 27h1v1h-1zM94 27h1v1h-1zM57 28h2v1h-2zM63 28h1v1h-1zM67 28h1v1h-1zM84 28h1v1h-1zM88 28h2v1h-2zM77 29h1v1h-1zM7 31h1v1h-1zM40 31h1v1h-1zM60 32h1v1h-1zM91 32h1v1h-1zM74 33h1v1h-1zM77 34h1v1h-1zM0 35h2v1h-2zM5 35h1v1h-1zM16 35h1v1h-1zM21 35h1v1h-1zM42 35h1v1h-1zM47 35h1v1h-1zM76 35h1v1h-1zM85 35h1v1h-1zM45 36h1v1h-1zM2 37h1v1h-1zM50 37h1v1h-1zM57 37h1v1h-1zM62 37h1v1h-1zM67 37h1v1h-1zM3 38h1v1h-1zM14 38h1v1h-1zM77 39h1v1h-1zM82 39h1v1h-1zM31 40h1v1h-1zM41 40h1v1h-1zM71 40h1v1h-1zM95 40h1v1h-1zM7 41h1v1h-1zM40 41h1v1h-1zM35 42h1v1h-1zM74 42h1v1h-1zM79 42h1v1h-1zM44 43h1v1h-1zM43 44h1v1h-1zM53 44h1v1h-1zM98 44h1v1h-1zM6 45h1v1h-1zM10 45h1v1h-1zM36 45h1v1h-1zM51 45h1v1h-1zM61 45h1v1h-1zM81 45h1v1h-1zM17 46h1v1h-1zM12 47h1v1h-1zM35 47h1v1h-1zM77 47h1v1h-1zM3 48h1v1h-1zM14 48h1v1h-1zM58 49h1v1h-1zM67 49h1v1h-1zM84 49h1v1h-1zM88 49h2v1h-2zM37 50h1v1h-1zM7 51h1v1h-1zM45 51h1v1h-1zM17 52h1v1h-1zM22 52h1v1h-1zM69 52h1v1h-1zM44 53h1v1h-1zM58 54h1v1h-1zM88 54h1v1h-1zM60 56h1v1h-1zM91 56h1v1h-1zM28 57h1v1h-1zM37 57h1v1h-1zM28 58h1v1h-1zM49 58h1v1h-1zM54 58h1v1h-1zM20 60h1v1h-1zM32 60h1v1h-1zM56 60h1v1h-1zM45 61h1v1h-1zM37 62h1v1h-1zM28 63h1v1h-1zM94 64h1v1h-1zM91 66h1v1h-1zM28 67h1v1h-1zM37 67h1v1h-1zM49 67h1v1h-1zM88 68h1v1h-1zM52 69h1v1h-1zM99 69h1v1h-1zM17 70h1v1h-1zM7 71h1v1h-1zM40 71h1v1h-1zM14 72h2v1h-2zM33 74h1v1h-1zM42 74h1v1h-1zM7 75h1v1h-1zM12 76h1v1h-1zM35 76h1v1h-1zM5 77h1v1h-1zM9 77h1v1h-1zM18 77h1v1h-1zM23 77h1v1h-1zM29 77h1v1h-1zM34 77h1v1h-1zM39 77h1v1h-1zM47 77h1v1h-1zM3 78h1v1h-1zM14 78h1v1h-1zM0 79h1v1h-1zM9 79h1v1h-1zM42 79h1v1h-1zM7 80h1v1h-1zM45 81h1v1h-1zM39 82h1v1h-1zM99 82h1v1h-1zM24 83h1v1h-1zM28 84h1v1h-1zM49 84h1v1h-1zM35 85h1v1h-1zM94 87h1v1h-1zM8 88h1v1h-1zM28 88h1v1h-1zM49 88h1v1h-1zM54 88h1v1h-1zM68 88h1v1h-1zM28 89h1v1h-1zM49 89h1v1h-1zM20 91h1v1h-1zM27 91h1v1h-1zM32 91h1v1h-1zM56 91h1v1h-1zM66 91h1v1h-1zM94 92h1v1h-1zM27 94h1v1h-1zM64 94h1v1h-1zM87 94h1v1h-1zM92 94h1v1h-1zM40 95h1v1h-1zM44 98h1v1h-1zM13 99h1v1h-1zM17 99h1v1h-1zM69 99h1v1h-1zM82 99h1v1h-1z"/><path fill="#0038ff" d="M7 0h1v1h-1zM40 0h1v1h-1zM77 0h1v1h-1zM82 0h1v1h-1zM12 1h1v1h-1zM43 3h1v1h-1zM53 3h1v1h-1zM72 3h1v1h-1zM98 3h1v1h-1zM13 5h1v1h-1zM40 5h1v1h-1zM69 5h1v1h-1zM82 5h1v1h-1zM7 6h1v1h-1zM40 6h1v1h-1zM0 7h1v1h-1zM6 7h1v1h-1zM36 7h1v1h-1zM42 7h1v1h-1zM61 7h1v1h-1zM81 7h1v1h-1zM90 7h1v1h-1zM58 8h1v1h-1zM63 8h1v1h-1zM94 8h1v1h-1zM74 9h1v1h-1zM74 10h1v1h-1zM79 10h1v1h-1zM22 11h1v1h-1zM1 12h1v1h-1zM31 12h1v1h-1zM85 12h1v1h-1zM95 12h1v1h-1zM99 12h1v1h-1zM5 13h1v1h-1zM24 13h1v1h-1zM47 13h1v1h-1zM43 14h1v1h-1zM53 14h1v1h-1zM57 14h1v1h-1zM62 14h1v1h-1zM67 14h1v1h-1zM84 14h1v1h-1zM89 14h1v1h-1zM98 14h1v1h-1zM50 15h1v1h-1zM55 15h1v1h-1zM96 15h1v1h-1zM74 18h1v1h-1zM79 18h1v1h-1zM33 19h1v1h-1zM26 20h1v1h-1zM57 20h1v1h-1zM62 20h1v1h-1zM67 20h1v1h-1zM84 20h1v1h-1zM86 20h1v1h-1zM89 20h1v1h-1zM11 22h1v1h-1zM46 22h1v1h-1zM70 22h1v1h-1zM73 23h2v1h-2zM79 23h1v1h-1zM13 24h1v1h-1zM69 24h1v1h-1zM94 25h1v1h-1zM20 26h1v1h-1zM27 26h1v1h-1zM32 26h1v1h-1zM26 27h1v1h-1zM65 27h1v1h-1zM86 27h1v1h-1zM73 29h2v1h-2zM79 29h1v1h-1zM12 31h1v1h-1zM35 31h1v1h-1zM26 32h1v1h-1zM57 32h1v1h-1zM62 32h1v1h-1zM67 32h1v1h-1zM84 32h1v1h-1zM86 32h1v1h-1zM89 32h1v1h-1zM19 33h1v1h-1zM93 33h1v1h-1zM74 34h1v1h-1zM79 34h1v1h-1zM31 35h1v1h-1zM95 35h1v1h-1zM99 35h1v1h-1zM7 36h1v1h-1zM40 36h1v1h-1zM55 37h1v1h-1zM60 37h1v1h-1zM72 37h1v1h-1zM96 37h1v1h-1zM73 39h1v1h-1zM79 39h1v1h-1zM0 40h1v1h-1zM5 40h2v1h-2zM36 40h1v1h-1zM42 40h1v1h-1zM47 40h1v1h-1zM51 40h1v1h-1zM61 40h1v1h-1zM75 40h1v1h-1zM80 40h2v1h-2zM7 42h1v1h-1zM40 42h1v1h-1zM77 42h1v1h-1zM3 43h1v1h-1zM14 43h1v1h-1zM72 44h1v1h-1zM90 45h1v1h-1zM22 46h1v1h-1zM13 47h1v1h-1zM40 47h1v1h-1zM82 47h1v1h-1zM63 49h1v1h-1zM15 50h1v1h-1zM56 50h1v1h-1zM40 51h1v1h-1zM3 53h1v1h-1zM14 53h1v1h-1zM63 54h1v1h-1zM94 54h1v1h-1zM15 55h1v1h-1zM37 55h1v1h-1zM56 55h1v1h-1zM66 55h1v1h-1zM50 56h1v1h-1zM55 56h1v1h-1zM96 56h1v1h-1zM14 57h1v1h-1zM20 57h1v1h-1zM32 57h1v1h-1zM8 58h1v1h-1zM97 58h1v1h-1zM37 60h1v1h-1zM66 60h1v1h-1zM7 61h1v1h-1zM40 61h1v1h-1zM14 62h1v1h-1zM20 62h1v1h-1zM32 62h1v1h-1zM8 63h1v1h-1zM49 63h1v1h-1zM54 63h1v1h-1zM97 63h1v1h-1zM88 64h1v1h-1zM27 65h1v1h-1zM55 66h1v1h-1zM60 66h1v1h-1zM96 66h1v1h-1zM14 67h1v1h-1zM20 67h1v1h-1zM32 67h1v1h-1zM5 69h1v1h-1zM24 69h1v1h-1zM22 70h1v1h-1zM3 72h1v1h-1zM37 72h1v1h-1zM44 72h1v1h-1zM23 73h1v1h-1zM29 73h1v1h-1zM39 73h1v1h-1zM9 74h2v1h-2zM18 74h1v1h-1zM23 74h1v1h-1zM29 74h1v1h-1zM34 74h1v1h-1zM40 75h1v1h-1zM0 77h1v1h-1zM42 77h1v1h-1zM10 79h1v1h-1zM18 79h1v1h-1zM23 79h1v1h-1zM29 79h1v1h-1zM34 79h1v1h-1zM39 79h1v1h-1zM40 80h1v1h-1zM7 81h1v1h-1zM40 81h1v1h-1zM0 82h1v1h-1zM5 82h1v1h-1zM47 82h1v1h-1zM14 84h1v1h-1zM20 84h1v1h-1zM32 84h1v1h-1zM12 85h1v1h-1zM20 86h1v1h-1zM27 86h1v1h-1zM32 86h1v1h-1zM64 88h1v1h-1zM92 88h1v1h-1zM97 88h1v1h-1zM14 89h1v1h-1zM20 89h1v1h-1zM32 89h1v1h-1zM7 90h1v1h-1zM45 90h1v1h-1zM88 92h1v1h-1zM33 93h1v1h-1zM8 94h1v1h-1zM25 94h1v1h-1zM54 94h1v1h-1zM97 94h1v1h-1zM12 95h1v1h-1zM35 95h1v1h-1zM15 96h1v1h-1zM37 96h1v1h-1zM56 96h1v1h-1zM66 96h1v1h-1zM58 97h1v1h-1zM63 97h1v1h-1zM88 97h1v1h-1zM94 97h1v1h-1zM3 98h1v1h-1zM14 98h1v1h-1zM12 99h1v1h-1zM35 99h1v1h-1z"/><path fill="#0048ff" d="M13 0h1v1h-1zM45 0h1v1h-1zM69 0h1v1h-1zM17 1h1v1h-1zM10 2h1v1h-1zM56 2h1v1h-1zM66 2h1v1h-1zM19 3h1v1h-1zM57 3h1v1h-1zM62 3h1v1h-1zM67 3h1v1h-1zM84 3h1v1h-1zM89 3h1v1h-1zM93 3h1v1h-1zM23 4h1v1h-1zM29 4h1v1h-1zM39 4h1v1h-1zM7 5h1v1h-1zM45 5h1v1h-1zM12 6h1v1h-1zM35 6h1v1h-1zM5 7h1v1h-1zM47 7h1v1h-1zM38 8h1v1h-1zM48 8h1v1h-1zM78 8h1v1h-1zM73 9h1v1h-1zM2 10h1v1h-1zM50 10h1v1h-1zM55 10h1v1h-1zM77 10h1v1h-1zM25 11h1v1h-1zM30 11h1v1h-1zM6 12h1v1h-1zM36 12h1v1h-1zM41 12h1v1h-1zM51 12h2v1h-2zM61 12h1v1h-1zM71 12h1v1h-1zM75 12h1v1h-1zM80 12h1v1h-1zM0 13h1v1h-1zM42 13h1v1h-1zM19 14h1v1h-1zM93 14h1v1h-1zM60 15h1v1h-1zM74 15h1v1h-1zM91 15h1v1h-1zM17 16h1v1h-1zM1 17h1v1h-1zM16 17h1v1h-1zM21 17h1v1h-1zM76 17h1v1h-1zM85 17h1v1h-1zM95 17h1v1h-1zM73 18h1v1h-1zM3 19h1v1h-1zM14 19h1v1h-1zM44 19h1v1h-1zM65 20h1v1h-1zM72 20h1v1h-1zM17 21h1v1h-1zM22 21h1v1h-1zM21 22h1v1h-1zM94 22h1v1h-1zM4 23h1v1h-1zM77 24h1v1h-1zM82 24h1v1h-1zM11 25h1v1h-1zM46 25h1v1h-1zM70 25h1v1h-1zM57 27h1v1h-1zM62 27h1v1h-1zM67 27h1v1h-1zM84 27h1v1h-1zM89 27h1v1h-1zM38 28h1v1h-1zM48 28h1v1h-1zM78 28h1v1h-1zM94 28h1v1h-1zM4 29h1v1h-1zM11 30h1v1h-1zM46 30h1v1h-1zM70 30h1v1h-1zM94 30h1v1h-1zM65 32h1v1h-1zM72 32h1v1h-1zM72 33h1v1h-1zM73 34h1v1h-1zM6 35h1v1h-1zM36 35h1v1h-1zM41 35h1v1h-1zM51 35h2v1h-2zM61 35h1v1h-1zM71 35h1v1h-1zM75 35h1v1h-1zM80 35h1v1h-1zM12 36h1v1h-1zM35 36h1v1h-1zM91 37h1v1h-1zM8 38h1v1h-1zM28 38h1v1h-1zM49 38h1v1h-1zM54 38h1v1h-1zM4 39h1v1h-1zM74 39h1v1h-1zM83 39h1v1h-1zM90 40h1v1h-1zM12 41h1v1h-1zM35 41h1v1h-1zM13 42h1v1h-1zM45 42h1v1h-1zM69 42h1v1h-1zM82 42h1v1h-1zM19 44h1v1h-1zM57 44h1v1h-1zM62 44h1v1h-1zM67 44h1v1h-1zM84 44h1v1h-1zM89 44h1v1h-1zM93 44h1v1h-1zM0 45h1v1h-1zM5 45h1v1h-1zM42 45h1v1h-1zM47 45h1v1h-1zM25 46h1v1h-1zM30 46h1v1h-1zM7 47h1v1h-1zM45 47h1v1h-1zM69 47h1v1h-1zM8 48h1v1h-1zM28 48h1v1h-1zM49 48h1v1h-1zM54 48h1v1h-1zM38 49h1v1h-1zM48 49h1v1h-1zM78 49h1v1h-1zM94 49h1v1h-1zM10 50h1v1h-1zM66 50h1v1h-1zM12 51h1v1h-1zM35 51h1v1h-1zM12 52h1v1h-1zM35 52h1v1h-1zM59 52h1v1h-1zM87 52h1v1h-1zM38 54h1v1h-1zM48 54h1v1h-1zM78 54h1v1h-1zM10 55h1v1h-1zM2 56h1v1h-1zM3 57h1v1h-1zM27 57h1v1h-1zM44 57h1v1h-1zM64 58h1v1h-1zM87 58h1v1h-1zM92 58h1v1h-1zM52 59h1v1h-1zM88 59h1v1h-1zM99 59h1v1h-1zM15 60h1v1h-1zM12 61h1v1h-1zM35 61h1v1h-1zM3 62h1v1h-1zM27 62h1v1h-1zM44 62h1v1h-1zM64 63h1v1h-1zM87 63h1v1h-1zM92 63h1v1h-1zM58 64h1v1h-1zM63 64h1v1h-1zM20 65h1v1h-1zM32 65h1v1h-1zM2 66h1v1h-1zM50 66h1v1h-1zM3 67h1v1h-1zM27 67h1v1h-1zM44 67h1v1h-1zM0 69h1v1h-1zM42 69h1v1h-1zM47 69h1v1h-1zM25 70h1v1h-1zM30 70h1v1h-1zM12 71h1v1h-1zM35 71h1v1h-1zM20 72h1v1h-1zM32 72h2v1h-2zM9 73h1v1h-1zM18 73h1v1h-1zM34 73h1v1h-1zM15 74h1v1h-1zM39 74h1v1h-1zM12 75h1v1h-1zM35 75h1v1h-1zM17 76h1v1h-1zM10 77h1v1h-1zM24 77h1v1h-1zM8 78h1v1h-1zM28 78h1v1h-1zM49 78h1v1h-1zM54 78h1v1h-1zM12 80h1v1h-1zM35 80h1v1h-1zM24 82h1v1h-1zM42 82h1v1h-1zM39 83h1v1h-1zM3 84h1v1h-1zM27 84h1v1h-1zM44 84h1v1h-1zM17 85h1v1h-1zM52 87h1v1h-1zM58 87h1v1h-1zM63 87h1v1h-1zM88 87h1v1h-1zM59 88h1v1h-1zM87 88h1v1h-1zM3 89h1v1h-1zM27 89h1v1h-1zM44 89h1v1h-1zM40 90h1v1h-1zM15 91h1v1h-1zM37 91h1v1h-1zM58 92h1v1h-1zM63 92h1v1h-1zM3 93h1v1h-1zM14 93h1v1h-1zM44 93h1v1h-1zM22 94h1v1h-1zM28 94h1v1h-1zM30 94h1v1h-1zM49 94h1v1h-1zM17 95h1v1h-1zM59 99h1v1h-1z"/><path fill="#0058ff" d="M2 0h1v1h-1zM50 0h1v1h-1zM22 1h1v1h-1zM30 1h1v1h-1zM0 2h1v1h-1zM42 2h1v1h-1zM9 4h1v1h-1zM18 4h1v1h-1zM34 4h1v1h-1zM52 7h1v1h-1zM99 7h1v1h-1zM43 8h1v1h-1zM53 8h1v1h-1zM98 8h1v1h-1zM4 9h1v1h-1zM72 9h1v1h-1zM83 9h1v1h-1zM13 10h1v1h-1zM60 10h1v1h-1zM82 10h1v1h-1zM96 10h1v1h-1zM81 12h1v1h-1zM90 12h1v1h-1zM10 13h1v1h-1zM94 14h1v1h-1zM26 15h1v1h-1zM77 15h1v1h-1zM79 15h1v1h-1zM86 15h1v1h-1zM22 16h1v1h-1zM25 16h1v1h-1zM30 16h1v1h-1zM31 17h1v1h-1zM41 17h1v1h-1zM51 17h1v1h-1zM71 17h1v1h-1zM75 17h1v1h-1zM80 17h1v1h-1zM94 17h1v1h-1zM4 18h1v1h-1zM72 18h1v1h-1zM83 18h1v1h-1zM25 21h1v1h-1zM30 21h1v1h-1zM1 22h1v1h-1zM16 22h1v1h-1zM31 22h1v1h-1zM76 22h1v1h-1zM85 22h1v1h-1zM95 22h1v1h-1zM72 23h1v1h-1zM83 23h1v1h-1zM68 24h1v1h-1zM79 24h1v1h-1zM16 25h1v1h-1zM21 25h1v1h-1zM57 25h1v1h-1zM67 25h1v1h-1zM76 25h1v1h-1zM84 25h1v1h-1zM89 25h1v1h-1zM15 26h1v1h-1zM37 26h1v1h-1zM70 27h1v1h-1zM72 27h1v1h-1zM43 28h1v1h-1zM53 28h1v1h-1zM98 28h1v1h-1zM72 29h1v1h-1zM83 29h1v1h-1zM1 30h1v1h-1zM16 30h1v1h-1zM21 30h1v1h-1zM67 30h1v1h-1zM76 30h1v1h-1zM84 30h2v1h-2zM89 30h1v1h-1zM17 31h1v1h-1zM22 31h1v1h-1zM57 33h1v1h-1zM62 33h1v1h-1zM67 33h1v1h-1zM73 33h1v1h-1zM84 33h1v1h-1zM89 33h1v1h-1zM4 34h1v1h-1zM72 34h1v1h-1zM83 34h1v1h-1zM81 35h1v1h-1zM90 35h1v1h-1zM26 37h1v1h-1zM65 37h1v1h-1zM74 37h1v1h-1zM79 37h1v1h-1zM86 37h1v1h-1zM64 38h1v1h-1zM92 38h1v1h-1zM97 38h1v1h-1zM52 40h1v1h-1zM99 40h1v1h-1zM17 41h1v1h-1zM2 42h1v1h-1zM50 42h1v1h-1zM8 43h1v1h-1zM28 43h1v1h-1zM49 43h1v1h-1zM54 43h1v1h-1zM56 45h1v1h-1zM66 45h1v1h-1zM64 48h1v1h-1zM92 48h1v1h-1zM97 48h1v1h-1zM43 49h1v1h-1zM53 49h1v1h-1zM98 49h1v1h-1zM0 50h1v1h-1zM42 50h1v1h-1zM17 51h1v1h-1zM7 52h1v1h-1zM40 52h1v1h-1zM64 52h1v1h-1zM92 52h1v1h-1zM97 52h1v1h-1zM8 53h1v1h-1zM28 53h1v1h-1zM49 53h1v1h-1zM54 53h1v1h-1zM43 54h1v1h-1zM53 54h1v1h-1zM98 54h1v1h-1zM45 56h1v1h-1zM25 57h1v1h-1zM33 57h1v1h-1zM59 58h1v1h-1zM58 59h1v1h-1zM63 59h1v1h-1zM10 60h1v1h-1zM33 62h1v1h-1zM59 63h1v1h-1zM38 64h1v1h-1zM48 64h1v1h-1zM52 64h1v1h-1zM78 64h1v1h-1zM99 64h1v1h-1zM37 65h1v1h-1zM45 66h1v1h-1zM25 67h1v1h-1zM30 67h1v1h-1zM33 67h1v1h-1zM24 68h1v1h-1zM27 70h1v1h-1zM17 71h1v1h-1zM9 72h1v1h-1zM18 72h1v1h-1zM23 72h1v1h-1zM27 72h1v1h-1zM29 72h1v1h-1zM34 72h1v1h-1zM33 73h1v1h-1zM37 74h1v1h-1zM17 75h1v1h-1zM22 76h1v1h-1zM25 76h1v1h-1zM30 76h1v1h-1zM15 77h1v1h-1zM64 78h1v1h-1zM92 78h1v1h-1zM97 78h1v1h-1zM15 79h1v1h-1zM24 79h1v1h-1zM37 79h1v1h-1zM17 80h1v1h-1zM12 81h1v1h-1zM35 81h1v1h-1zM10 82h1v1h-1zM9 83h1v1h-1zM18 83h1v1h-1zM23 83h1v1h-1zM29 83h1v1h-1zM34 83h1v1h-1zM25 84h1v1h-1zM30 84h1v1h-1zM33 84h1v1h-1zM22 85h1v1h-1zM30 85h1v1h-1zM15 86h1v1h-1zM37 86h1v1h-1zM99 87h1v1h-1zM25 89h1v1h-1zM30 89h1v1h-1zM33 89h1v1h-1zM12 90h1v1h-1zM35 90h1v1h-1zM38 92h1v1h-1zM48 92h1v1h-1zM52 92h1v1h-1zM78 92h1v1h-1zM99 92h1v1h-1zM14 94h1v1h-1zM17 94h1v1h-1zM22 95h1v1h-1zM10 96h1v1h-1zM38 97h1v1h-1zM48 97h1v1h-1zM52 97h1v1h-1zM78 97h1v1h-1zM8 98h1v1h-1zM28 98h1v1h-1zM49 98h1v1h-1zM54 98h1v1h-1zM7 99h1v1h-1zM40 99h1v1h-1zM64 99h1v1h-1zM87 99h1v1h-1zM92 99h1v1h-1z"/><path fill="#0068ff" d="M55 0h1v1h-1zM59 0h1v1h-1zM87 0h1v1h-1zM96 0h1v1h-1zM25 1h1v1h-1zM5 2h1v1h-1zM47 2h1v1h-1zM73 3h1v1h-1zM94 3h1v1h-1zM33 4h1v1h-1zM2 5h1v1h-1zM50 5h1v1h-1zM59 5h1v1h-1zM64 5h1v1h-1zM87 5h1v1h-1zM17 6h1v1h-1zM56 7h1v1h-1zM66 7h1v1h-1zM52 8h1v1h-1zM93 8h1v1h-1zM99 8h1v1h-1zM57 9h1v1h-1zM62 9h1v1h-1zM67 9h1v1h-1zM84 9h1v1h-1zM89 9h1v1h-1zM26 10h1v1h-1zM69 10h1v1h-1zM86 10h1v1h-1zM91 10h1v1h-1zM20 11h1v1h-1zM27 11h1v1h-1zM32 11h1v1h-1zM94 12h1v1h-1zM15 13h1v1h-1zM88 13h1v1h-1zM13 15h1v1h-1zM65 15h1v1h-1zM82 15h1v1h-1zM6 17h1v1h-1zM36 17h1v1h-1zM61 17h1v1h-1zM81 17h1v1h-1zM90 17h1v1h-1zM57 18h1v1h-1zM62 18h1v1h-1zM67 18h1v1h-1zM84 18h1v1h-1zM89 18h1v1h-1zM28 19h1v1h-1zM49 19h1v1h-1zM54 19h1v1h-1zM11 20h1v1h-1zM46 20h1v1h-1zM70 20h1v1h-1zM74 20h1v1h-1zM41 22h1v1h-1zM51 22h1v1h-1zM57 22h1v1h-1zM62 22h1v1h-1zM67 22h1v1h-1zM71 22h1v1h-1zM75 22h1v1h-1zM80 22h1v1h-1zM84 22h1v1h-1zM89 22h1v1h-1zM57 23h1v1h-1zM62 23h1v1h-1zM74 24h1v1h-1zM1 25h1v1h-1zM31 25h1v1h-1zM62 25h1v1h-1zM72 25h1v1h-1zM85 25h1v1h-1zM95 25h1v1h-1zM10 26h1v1h-1zM11 27h1v1h-1zM46 27h1v1h-1zM19 28h1v1h-1zM52 28h1v1h-1zM93 28h1v1h-1zM62 29h1v1h-1zM31 30h1v1h-1zM57 30h1v1h-1zM62 30h1v1h-1zM95 30h1v1h-1zM25 31h1v1h-1zM30 31h1v1h-1zM11 32h1v1h-1zM46 32h1v1h-1zM70 32h1v1h-1zM74 32h1v1h-1zM4 33h1v1h-1zM83 33h1v1h-1zM57 34h1v1h-1zM62 34h1v1h-1zM67 34h1v1h-1zM84 34h1v1h-1zM89 34h1v1h-1zM17 36h1v1h-1zM77 37h1v1h-1zM59 38h1v1h-1zM87 38h1v1h-1zM62 39h1v1h-1zM72 39h1v1h-1zM56 40h1v1h-1zM66 40h1v1h-1zM22 41h1v1h-1zM55 42h1v1h-1zM59 42h2v1h-2zM96 42h1v1h-1zM64 43h1v1h-1zM92 43h1v1h-1zM97 43h1v1h-1zM73 44h1v1h-1zM94 44h1v1h-1zM52 45h1v1h-1zM99 45h1v1h-1zM20 46h1v1h-1zM27 46h1v1h-1zM32 46h1v1h-1zM2 47h1v1h-1zM50 47h1v1h-1zM55 47h1v1h-1zM59 47h1v1h-1zM87 47h1v1h-1zM59 48h1v1h-1zM87 48h1v1h-1zM19 49h1v1h-1zM52 49h1v1h-1zM93 49h1v1h-1zM5 50h1v1h-1zM47 50h1v1h-1zM22 51h1v1h-1zM8 52h1v1h-1zM28 52h1v1h-1zM45 52h1v1h-1zM49 52h1v1h-1zM54 52h1v1h-1zM64 53h1v1h-1zM92 53h1v1h-1zM97 53h1v1h-1zM19 54h1v1h-1zM52 54h1v1h-1zM93 54h1v1h-1zM99 54h1v1h-1zM0 55h1v1h-1zM42 55h1v1h-1zM47 55h1v1h-1zM7 56h1v1h-1zM40 56h1v1h-1zM9 57h1v1h-1zM18 57h1v1h-1zM22 57h2v1h-2zM30 57h1v1h-1zM34 57h1v1h-1zM0 59h1v1h-1zM5 59h1v1h-1zM38 59h1v1h-1zM42 59h1v1h-1zM47 59h2v1h-2zM78 59h1v1h-1zM42 60h1v1h-1zM17 61h1v1h-1zM9 62h1v1h-1zM18 62h1v1h-1zM22 62h2v1h-2zM25 62h1v1h-1zM29 62h2v1h-2zM34 62h1v1h-1zM39 62h1v1h-1zM5 64h1v1h-1zM43 64h1v1h-1zM53 64h1v1h-1zM98 64h1v1h-1zM15 65h1v1h-1zM7 66h1v1h-1zM40 66h1v1h-1zM9 67h1v1h-1zM18 67h1v1h-1zM22 67h1v1h-1zM34 67h1v1h-1zM10 69h1v1h-1zM88 69h1v1h-1zM20 70h1v1h-1zM32 70h1v1h-1zM22 71h1v1h-1zM25 72h1v1h-1zM39 72h1v1h-1zM3 73h1v1h-1zM44 73h1v1h-1zM20 74h1v1h-1zM24 74h1v1h-1zM32 74h1v1h-1zM22 75h1v1h-1zM37 77h1v1h-1zM59 78h1v1h-1zM87 78h1v1h-1zM22 80h1v1h-1zM17 81h1v1h-1zM15 82h1v1h-1zM33 83h1v1h-1zM9 84h1v1h-1zM18 84h1v1h-1zM22 84h1v1h-1zM34 84h1v1h-1zM25 85h1v1h-1zM10 86h1v1h-1zM0 87h1v1h-1zM5 87h1v1h-1zM38 87h1v1h-1zM47 87h2v1h-2zM78 87h1v1h-1zM13 88h1v1h-1zM69 88h1v1h-1zM9 89h1v1h-1zM18 89h1v1h-1zM22 89h1v1h-1zM34 89h1v1h-1zM17 90h1v1h-1zM10 91h1v1h-1zM43 92h1v1h-1zM53 92h1v1h-1zM98 92h1v1h-1zM8 93h1v1h-1zM28 93h1v1h-1zM49 93h1v1h-1zM54 93h1v1h-1zM3 94h1v1h-1zM12 94h1v1h-1zM44 94h1v1h-1zM25 95h1v1h-1zM30 95h1v1h-1zM0 96h1v1h-1zM42 96h1v1h-1zM43 97h1v1h-1zM53 97h1v1h-1zM98 97h2v1h-2zM64 98h1v1h-1zM92 98h1v1h-1zM97 98h1v1h-1zM8 99h1v1h-1zM45 99h1v1h-1zM54 99h1v1h-1zM97 99h1v1h-1z"/><path fill="#0078ff" d="M60 0h1v1h-1zM64 0h1v1h-1zM91 0h2v1h-2zM27 1h1v1h-1zM52 2h1v1h-1zM99 2h1v1h-1zM4 3h1v1h-1zM83 3h1v1h-1zM3 4h1v1h-1zM44 4h1v1h-1zM55 5h1v1h-1zM60 5h1v1h-1zM92 5h1v1h-1zM96 5h2v1h-2zM22 6h1v1h-1zM25 6h1v1h-1zM30 6h1v1h-1zM19 8h1v1h-1zM65 10h1v1h-1zM56 12h1v1h-1zM37 13h1v1h-1zM58 13h1v1h-1zM63 13h1v1h-1zM73 14h1v1h-1zM69 15h1v1h-1zM27 16h1v1h-1zM57 17h1v1h-1zM62 17h1v1h-1zM67 17h1v1h-1zM84 17h1v1h-1zM89 17h1v1h-1zM8 19h1v1h-1zM92 19h1v1h-1zM97 19h1v1h-1zM21 20h1v1h-1zM76 20h2v1h-2zM79 20h1v1h-1zM20 21h1v1h-1zM27 21h1v1h-1zM32 21h1v1h-1zM6 22h1v1h-1zM36 22h1v1h-1zM61 22h1v1h-1zM72 22h1v1h-1zM81 22h1v1h-1zM90 22h1v1h-1zM67 23h2v1h-2zM84 23h1v1h-1zM89 23h1v1h-1zM72 24h1v1h-1zM6 25h1v1h-1zM36 25h1v1h-1zM41 25h1v1h-1zM51 25h1v1h-1zM71 25h1v1h-1zM75 25h1v1h-1zM80 25h1v1h-1zM1 27h1v1h-1zM16 27h1v1h-1zM21 27h1v1h-1zM74 27h1v1h-1zM76 27h1v1h-1zM79 27h1v1h-1zM85 27h1v1h-1zM99 28h1v1h-1zM57 29h1v1h-1zM67 29h2v1h-2zM84 29h1v1h-1zM89 29h1v1h-1zM6 30h1v1h-1zM36 30h1v1h-1zM41 30h1v1h-1zM51 30h1v1h-1zM61 30h1v1h-1zM71 30h2v1h-2zM75 30h1v1h-1zM80 30h1v1h-1zM21 32h1v1h-1zM76 32h2v1h-2zM79 32h1v1h-1zM94 33h1v1h-1zM68 34h1v1h-1zM56 35h1v1h-1zM94 35h1v1h-1zM22 36h1v1h-1zM25 36h1v1h-1zM30 36h1v1h-1zM13 37h1v1h-1zM69 37h2v1h-2zM82 37h1v1h-1zM57 39h1v1h-1zM67 39h2v1h-2zM84 39h1v1h-1zM89 39h1v1h-1zM25 41h1v1h-1zM30 41h1v1h-1zM64 42h1v1h-1zM87 42h1v1h-1zM91 42h2v1h-2zM59 43h1v1h-1zM87 43h1v1h-1zM4 44h1v1h-1zM83 44h1v1h-1zM60 47h1v1h-1zM64 47h1v1h-1zM92 47h1v1h-1zM96 47h2v1h-2zM99 49h1v1h-1zM99 50h1v1h-1zM25 51h1v1h-1zM30 51h1v1h-1zM2 52h1v1h-1zM59 53h1v1h-1zM87 53h1v1h-1zM5 55h1v1h-1zM12 56h1v1h-1zM35 56h1v1h-1zM17 57h1v1h-1zM29 57h1v1h-1zM39 57h1v1h-1zM13 58h1v1h-1zM69 58h1v1h-1zM82 58h1v1h-1zM43 59h1v1h-1zM53 59h1v1h-1zM98 59h1v1h-1zM0 60h1v1h-1zM5 60h1v1h-1zM47 60h1v1h-1zM22 61h1v1h-1zM30 61h1v1h-1zM17 62h1v1h-1zM13 63h1v1h-1zM69 63h1v1h-1zM82 63h1v1h-1zM0 64h1v1h-1zM42 64h1v1h-1zM47 64h1v1h-1zM93 64h1v1h-1zM10 65h1v1h-1zM17 67h1v1h-1zM23 67h1v1h-1zM29 67h1v1h-1zM39 67h1v1h-1zM23 68h1v1h-1zM29 68h1v1h-1zM34 68h1v1h-1zM39 68h1v1h-1zM15 69h1v1h-1zM37 69h1v1h-1zM58 69h1v1h-1zM63 69h1v1h-1zM37 70h1v1h-1zM25 71h1v1h-1zM30 71h1v1h-1zM22 72h1v1h-1zM24 72h1v1h-1zM30 72h1v1h-1zM14 73h1v1h-1zM27 74h1v1h-1zM25 75h1v1h-1zM30 75h1v1h-1zM20 76h1v1h-1zM27 76h1v1h-1zM32 76h1v1h-1zM20 77h1v1h-1zM32 77h1v1h-1zM88 77h1v1h-1zM20 79h1v1h-1zM27 79h1v1h-1zM32 79h1v1h-1zM25 80h1v1h-1zM30 80h1v1h-1zM22 81h1v1h-1zM37 82h1v1h-1zM58 82h1v1h-1zM63 82h1v1h-1zM88 82h1v1h-1zM3 83h1v1h-1zM44 83h1v1h-1zM17 84h1v1h-1zM23 84h1v1h-1zM29 84h1v1h-1zM39 84h1v1h-1zM27 85h1v1h-1zM42 87h2v1h-2zM53 87h1v1h-1zM98 87h1v1h-1zM77 88h1v1h-1zM82 88h1v1h-1zM17 89h1v1h-1zM23 89h1v1h-1zM29 89h1v1h-1zM39 89h1v1h-1zM22 90h1v1h-1zM0 91h1v1h-1zM42 91h1v1h-1zM0 92h1v1h-1zM5 92h1v1h-1zM19 92h1v1h-1zM42 92h1v1h-1zM47 92h1v1h-1zM93 92h1v1h-1zM64 93h1v1h-1zM92 93h1v1h-1zM97 93h1v1h-1zM33 94h1v1h-1zM35 94h1v1h-1zM5 96h1v1h-1zM47 96h1v1h-1zM5 97h1v1h-1zM19 97h1v1h-1zM47 97h1v1h-1zM93 97h1v1h-1zM59 98h1v1h-1zM87 98h1v1h-1zM2 99h1v1h-1zM28 99h1v1h-1zM49 99h2v1h-2z"/><path fill="#0087ff" d="M8 0h1v1h-1zM26 0h1v1h-1zM28 0h1v1h-1zM49 0h1v1h-1zM54 0h1v1h-1zM65 0h1v1h-1zM86 0h1v1h-1zM97 0h1v1h-1zM20 1h1v1h-1zM32 1h1v1h-1zM52 3h1v1h-1zM14 4h1v1h-1zM8 5h1v1h-1zM28 5h1v1h-1zM49 5h1v1h-1zM54 5h1v1h-1zM86 5h1v1h-1zM91 5h1v1h-1zM94 7h1v1h-1zM0 8h1v1h-1zM5 8h1v1h-1zM42 8h1v1h-1zM47 8h1v1h-1zM68 9h1v1h-1zM94 9h1v1h-1zM59 10h1v1h-1zM87 10h1v1h-1zM15 11h1v1h-1zM37 11h1v1h-1zM57 12h1v1h-1zM66 12h2v1h-2zM84 12h1v1h-1zM89 12h1v1h-1zM20 13h1v1h-1zM32 13h1v1h-1zM38 13h1v1h-1zM48 13h1v1h-1zM78 13h1v1h-1zM4 14h1v1h-1zM52 14h1v1h-1zM83 14h1v1h-1zM99 14h1v1h-1zM11 15h1v1h-1zM46 15h1v1h-1zM70 15h1v1h-1zM20 16h1v1h-1zM32 16h1v1h-1zM72 17h1v1h-1zM68 18h1v1h-1zM94 18h1v1h-1zM59 19h1v1h-1zM64 19h1v1h-1zM87 19h1v1h-1zM1 20h1v1h-1zM13 20h1v1h-1zM16 20h1v1h-1zM31 20h1v1h-1zM82 20h1v1h-1zM85 20h1v1h-1zM95 20h1v1h-1zM62 24h1v1h-1zM61 25h1v1h-1zM74 25h1v1h-1zM81 25h1v1h-1zM90 25h1v1h-1zM0 26h1v1h-1zM42 26h1v1h-1zM47 26h1v1h-1zM31 27h1v1h-1zM41 27h1v1h-1zM71 27h1v1h-1zM77 27h1v1h-1zM95 27h1v1h-1zM0 28h1v1h-1zM5 28h1v1h-1zM47 28h1v1h-1zM73 28h1v1h-1zM81 30h1v1h-1zM90 30h1v1h-1zM20 31h1v1h-1zM27 31h1v1h-1zM32 31h1v1h-1zM1 32h1v1h-1zM13 32h1v1h-1zM16 32h1v1h-1zM31 32h1v1h-1zM82 32h1v1h-1zM85 32h1v1h-1zM95 32h1v1h-1zM94 34h1v1h-1zM66 35h1v1h-1zM84 35h1v1h-1zM89 35h1v1h-1zM11 37h1v1h-1zM46 37h1v1h-1zM13 38h1v1h-1zM69 38h1v1h-1zM94 40h1v1h-1zM27 41h1v1h-1zM8 42h1v1h-1zM26 42h1v1h-1zM54 42h1v1h-1zM65 42h1v1h-1zM86 42h1v1h-1zM97 42h1v1h-1zM52 44h1v1h-1zM15 46h1v1h-1zM37 46h1v1h-1zM8 47h1v1h-1zM26 47h1v1h-1zM28 47h1v1h-1zM49 47h1v1h-1zM54 47h1v1h-1zM86 47h1v1h-1zM91 47h1v1h-1zM13 48h1v1h-1zM69 48h1v1h-1zM0 49h1v1h-1zM5 49h1v1h-1zM47 49h1v1h-1zM73 49h1v1h-1zM52 50h1v1h-1zM3 52h1v1h-1zM14 52h1v1h-1zM44 52h1v1h-1zM50 52h1v1h-1zM55 52h1v1h-1zM96 52h1v1h-1zM0 54h1v1h-1zM5 54h1v1h-1zM42 54h1v1h-1zM47 54h1v1h-1zM73 54h1v1h-1zM52 55h1v1h-1zM99 55h1v1h-1zM12 57h1v1h-1zM77 58h1v1h-1zM10 59h1v1h-1zM19 59h1v1h-1zM93 59h1v1h-1zM99 60h1v1h-1zM25 61h1v1h-1zM24 62h1v1h-1zM77 63h1v1h-1zM19 64h1v1h-1zM0 65h1v1h-1zM42 65h1v1h-1zM12 66h1v1h-1zM35 66h1v1h-1zM12 67h1v1h-1zM9 68h1v1h-1zM18 68h1v1h-1zM38 69h1v1h-1zM48 69h1v1h-1zM78 69h1v1h-1zM15 70h1v1h-1zM27 71h1v1h-1zM17 72h1v1h-1zM28 73h1v1h-1zM49 73h1v1h-1zM54 73h1v1h-1zM25 74h1v1h-1zM27 77h1v1h-1zM58 77h1v1h-1zM63 77h1v1h-1zM13 78h1v1h-1zM69 78h1v1h-1zM88 79h1v1h-1zM25 81h1v1h-1zM30 81h1v1h-1zM20 82h1v1h-1zM32 82h1v1h-1zM14 83h1v1h-1zM12 84h1v1h-1zM35 84h1v1h-1zM20 85h1v1h-1zM32 85h1v1h-1zM0 86h1v1h-1zM5 86h1v1h-1zM42 86h1v1h-1zM47 86h1v1h-1zM10 87h1v1h-1zM19 87h1v1h-1zM93 87h1v1h-1zM79 88h1v1h-1zM12 89h1v1h-1zM35 89h1v1h-1zM25 90h1v1h-1zM30 90h1v1h-1zM5 91h1v1h-1zM47 91h1v1h-1zM59 93h1v1h-1zM87 93h1v1h-1zM7 94h1v1h-1zM9 94h1v1h-1zM18 94h1v1h-1zM34 94h1v1h-1zM40 94h1v1h-1zM20 95h1v1h-1zM27 95h1v1h-1zM32 95h1v1h-1zM52 96h1v1h-1zM99 96h1v1h-1zM0 97h1v1h-1zM42 97h1v1h-1zM14 99h1v1h-1zM55 99h1v1h-1zM60 99h1v1h-1zM96 99h1v1h-1z"/><path fill="#0097ff" d="M37 1h1v1h-1zM99 3h1v1h-1zM28 4h1v1h-1zM49 4h1v1h-1zM26 5h1v1h-1zM65 5h1v1h-1zM20 6h1v1h-1zM27 6h1v1h-1zM32 6h1v1h-1zM73 8h1v1h-1zM11 10h1v1h-1zM46 10h1v1h-1zM64 10h1v1h-1zM70 10h1v1h-1zM92 10h1v1h-1zM97 10h1v1h-1zM10 11h1v1h-1zM62 12h1v1h-1zM27 13h1v1h-1zM21 15h1v1h-1zM59 15h1v1h-1zM87 15h1v1h-1zM37 16h1v1h-1zM56 17h1v1h-1zM66 17h1v1h-1zM6 20h1v1h-1zM36 20h1v1h-1zM41 20h1v1h-1zM51 20h1v1h-1zM69 20h1v1h-1zM71 20h1v1h-1zM75 20h1v1h-1zM80 20h1v1h-1zM15 21h1v1h-1zM37 21h1v1h-1zM56 22h1v1h-1zM74 22h1v1h-1zM94 23h1v1h-1zM57 24h1v1h-1zM67 24h1v1h-1zM84 24h1v1h-1zM89 24h1v1h-1zM79 25h1v1h-1zM5 26h1v1h-1zM6 27h1v1h-1zM13 27h1v1h-1zM36 27h1v1h-1zM51 27h1v1h-1zM61 27h1v1h-1zM69 27h1v1h-1zM75 27h1v1h-1zM80 27h3v1h-3zM4 28h1v1h-1zM42 28h1v1h-1zM94 29h1v1h-1zM74 30h1v1h-1zM79 30h1v1h-1zM6 32h1v1h-1zM36 32h1v1h-1zM41 32h1v1h-1zM51 32h1v1h-1zM69 32h1v1h-1zM71 32h1v1h-1zM75 32h1v1h-1zM80 32h1v1h-1zM52 33h1v1h-1zM68 33h1v1h-1zM57 35h1v1h-1zM62 35h1v1h-1zM67 35h1v1h-1zM20 36h1v1h-1zM27 36h1v1h-1zM32 36h1v1h-1zM1 37h1v1h-1zM16 37h1v1h-1zM21 37h1v1h-1zM59 37h1v1h-1zM76 37h1v1h-1zM85 37h1v1h-1zM77 38h1v1h-1zM82 38h1v1h-1zM94 39h1v1h-1zM20 41h1v1h-1zM32 41h1v1h-1zM28 42h1v1h-1zM49 42h1v1h-1zM69 43h1v1h-1zM99 44h1v1h-1zM94 45h1v1h-1zM10 46h1v1h-1zM65 47h1v1h-1zM77 48h1v1h-1zM82 48h1v1h-1zM4 49h1v1h-1zM42 49h1v1h-1zM20 51h1v1h-1zM27 51h1v1h-1zM32 51h1v1h-1zM33 52h1v1h-1zM60 52h1v1h-1zM91 52h1v1h-1zM69 53h1v1h-1zM17 56h1v1h-1zM22 56h1v1h-1zM24 57h1v1h-1zM35 57h1v1h-1zM74 58h1v1h-1zM79 58h1v1h-1zM15 59h1v1h-1zM37 59h1v1h-1zM52 60h1v1h-1zM27 61h1v1h-1zM12 62h1v1h-1zM35 62h1v1h-1zM74 63h1v1h-1zM79 63h1v1h-1zM10 64h1v1h-1zM5 65h1v1h-1zM47 65h1v1h-1zM17 66h1v1h-1zM24 67h1v1h-1zM35 67h1v1h-1zM33 68h1v1h-1zM20 69h1v1h-1zM27 69h1v1h-1zM32 69h1v1h-1zM43 69h1v1h-1zM53 69h1v1h-1zM98 69h1v1h-1zM10 70h1v1h-1zM20 71h1v1h-1zM32 71h1v1h-1zM8 73h1v1h-1zM97 73h1v1h-1zM22 74h1v1h-1zM30 74h1v1h-1zM58 74h1v1h-1zM63 74h1v1h-1zM88 74h1v1h-1zM20 75h1v1h-1zM27 75h1v1h-1zM32 75h1v1h-1zM37 76h1v1h-1zM38 77h1v1h-1zM48 77h1v1h-1zM78 77h1v1h-1zM77 78h1v1h-1zM82 78h1v1h-1zM25 79h1v1h-1zM30 79h1v1h-1zM58 79h1v1h-1zM63 79h1v1h-1zM20 80h1v1h-1zM27 80h1v1h-1zM32 80h1v1h-1zM27 81h1v1h-1zM27 82h1v1h-1zM38 82h1v1h-1zM48 82h1v1h-1zM78 82h1v1h-1zM24 84h1v1h-1zM37 85h1v1h-1zM15 87h1v1h-1zM74 88h1v1h-1zM24 89h1v1h-1zM52 91h1v1h-1zM99 91h1v1h-1zM10 92h1v1h-1zM23 94h1v1h-1zM29 94h1v1h-1zM39 94h1v1h-1zM45 94h1v1h-1zM10 97h1v1h-1zM73 97h1v1h-1zM69 98h1v1h-1zM3 99h1v1h-1zM44 99h1v1h-1zM91 99h1v1h-1z"/><path fill="#00a7ff" d="M14 0h1v1h-1zM15 1h1v1h-1zM94 2h1v1h-1zM5 3h1v1h-1zM47 3h1v1h-1zM68 3h1v1h-1zM8 4h1v1h-1zM54 4h1v1h-1zM97 4h1v1h-1zM3 5h1v1h-1zM14 5h1v1h-1zM44 5h1v1h-1zM57 7h1v1h-1zM62 7h1v1h-1zM67 7h1v1h-1zM84 7h1v1h-1zM89 7h1v1h-1zM4 8h1v1h-1zM10 8h1v1h-1zM83 8h1v1h-1zM8 10h1v1h-1zM21 10h1v1h-1zM28 10h1v1h-1zM49 10h1v1h-1zM54 10h1v1h-1zM72 12h1v1h-1zM43 13h1v1h-1zM53 13h1v1h-1zM98 13h1v1h-1zM0 14h1v1h-1zM5 14h1v1h-1zM42 14h1v1h-1zM47 14h1v1h-1zM68 14h1v1h-1zM1 15h1v1h-1zM16 15h1v1h-1zM31 15h1v1h-1zM64 15h1v1h-1zM76 15h1v1h-1zM85 15h1v1h-1zM92 15h1v1h-1zM95 15h1v1h-1zM97 15h1v1h-1zM15 16h1v1h-1zM74 17h1v1h-1zM79 17h1v1h-1zM61 20h1v1h-1zM81 20h1v1h-1zM90 20h1v1h-1zM10 21h1v1h-1zM66 22h1v1h-1zM77 22h1v1h-1zM79 22h1v1h-1zM56 25h1v1h-1zM77 25h1v1h-1zM82 25h1v1h-1zM52 26h1v1h-1zM99 26h1v1h-1zM90 27h1v1h-1zM10 28h1v1h-1zM83 28h1v1h-1zM56 30h1v1h-1zM77 30h1v1h-1zM15 31h1v1h-1zM37 31h1v1h-1zM61 32h1v1h-1zM81 32h1v1h-1zM90 32h1v1h-1zM99 33h1v1h-1zM72 35h1v1h-1zM31 37h1v1h-1zM41 37h1v1h-1zM64 37h1v1h-1zM71 37h1v1h-1zM87 37h1v1h-1zM92 37h1v1h-1zM95 37h1v1h-1zM79 38h1v1h-1zM57 40h1v1h-1zM62 40h1v1h-1zM67 40h1v1h-1zM84 40h1v1h-1zM89 40h1v1h-1zM37 41h1v1h-1zM14 42h1v1h-1zM13 43h1v1h-1zM82 43h1v1h-1zM5 44h1v1h-1zM47 44h1v1h-1zM68 44h1v1h-1zM3 47h1v1h-1zM14 47h1v1h-1zM44 47h1v1h-1zM79 48h1v1h-1zM10 49h1v1h-1zM83 49h1v1h-1zM94 50h1v1h-1zM26 52h1v1h-1zM86 52h1v1h-1zM13 53h1v1h-1zM82 53h1v1h-1zM4 54h1v1h-1zM10 54h1v1h-1zM83 54h1v1h-1zM25 56h1v1h-1zM30 56h1v1h-1zM7 57h1v1h-1zM40 57h1v1h-1zM20 61h1v1h-1zM32 61h1v1h-1zM7 62h1v1h-1zM40 62h1v1h-1zM15 64h1v1h-1zM37 64h1v1h-1zM73 64h1v1h-1zM99 65h1v1h-1zM22 66h1v1h-1zM7 67h1v1h-1zM40 67h1v1h-1zM3 68h1v1h-1zM14 68h1v1h-1zM44 68h1v1h-1zM93 69h1v1h-1zM37 71h1v1h-1zM12 72h1v1h-1zM35 72h1v1h-1zM64 73h1v1h-1zM87 73h1v1h-1zM92 73h1v1h-1zM17 74h1v1h-1zM15 76h1v1h-1zM22 77h1v1h-1zM25 77h1v1h-1zM30 77h1v1h-1zM79 78h1v1h-1zM17 79h1v1h-1zM22 79h1v1h-1zM38 79h1v1h-1zM48 79h1v1h-1zM78 79h1v1h-1zM20 81h1v1h-1zM32 81h1v1h-1zM25 82h1v1h-1zM43 82h1v1h-1zM53 82h1v1h-1zM98 82h1v1h-1zM8 83h1v1h-1zM28 83h1v1h-1zM49 83h1v1h-1zM54 83h1v1h-1zM97 83h1v1h-1zM7 84h1v1h-1zM40 84h1v1h-1zM15 85h1v1h-1zM52 86h1v1h-1zM99 86h1v1h-1zM37 87h1v1h-1zM73 87h1v1h-1zM7 89h1v1h-1zM40 89h1v1h-1zM20 90h1v1h-1zM27 90h1v1h-1zM32 90h1v1h-1zM15 92h1v1h-1zM37 92h1v1h-1zM73 92h1v1h-1zM69 93h1v1h-1zM2 94h1v1h-1zM50 94h1v1h-1zM15 95h1v1h-1zM37 95h1v1h-1zM4 97h1v1h-1zM15 97h1v1h-1zM83 97h1v1h-1zM13 98h1v1h-1zM82 98h1v1h-1zM26 99h1v1h-1zM33 99h1v1h-1zM65 99h1v1h-1zM86 99h1v1h-1z"/><path fill="#00b7ff" d="M3 0h1v1h-1zM11 0h1v1h-1zM44 0h1v1h-1zM46 0h1v1h-1zM70 0h1v1h-1zM10 1h1v1h-1zM0 3h1v1h-1zM42 3h1v1h-1zM64 4h1v1h-1zM87 4h1v1h-1zM92 4h1v1h-1zM33 5h1v1h-1zM70 5h1v1h-1zM37 6h1v1h-1zM72 7h1v1h-1zM15 8h1v1h-1zM37 8h1v1h-1zM52 9h1v1h-1zM99 9h1v1h-1zM1 10h1v1h-1zM16 10h1v1h-1zM76 10h1v1h-1zM85 10h1v1h-1zM95 10h1v1h-1zM0 11h1v1h-1zM42 11h1v1h-1zM47 11h1v1h-1zM19 13h1v1h-1zM22 13h1v1h-1zM25 13h1v1h-1zM30 13h1v1h-1zM93 13h1v1h-1zM8 15h1v1h-1zM28 15h1v1h-1zM41 15h1v1h-1zM49 15h1v1h-1zM51 15h1v1h-1zM54 15h1v1h-1zM71 15h1v1h-1zM75 15h1v1h-1zM80 15h1v1h-1zM10 16h1v1h-1zM77 17h1v1h-1zM52 18h1v1h-1zM99 18h1v1h-1zM13 19h1v1h-1zM69 19h1v1h-1zM82 19h1v1h-1zM59 20h1v1h-1zM87 20h1v1h-1zM13 22h1v1h-1zM82 22h1v1h-1zM52 23h1v1h-1zM94 24h1v1h-1zM13 25h1v1h-1zM66 25h1v1h-1zM69 25h1v1h-1zM59 27h1v1h-1zM15 28h1v1h-1zM52 29h1v1h-1zM13 30h1v1h-1zM66 30h1v1h-1zM69 30h1v1h-1zM82 30h1v1h-1zM59 32h1v1h-1zM87 32h1v1h-1zM5 33h1v1h-1zM47 33h1v1h-1zM52 34h1v1h-1zM99 34h1v1h-1zM37 36h1v1h-1zM6 37h1v1h-1zM8 37h1v1h-1zM36 37h1v1h-1zM51 37h1v1h-1zM54 37h1v1h-1zM61 37h1v1h-1zM75 37h1v1h-1zM80 37h1v1h-1zM97 37h1v1h-1zM74 38h1v1h-1zM52 39h1v1h-1zM72 40h1v1h-1zM15 41h1v1h-1zM3 42h1v1h-1zM11 42h1v1h-1zM44 42h1v1h-1zM46 42h1v1h-1zM70 42h1v1h-1zM77 43h1v1h-1zM79 43h1v1h-1zM0 44h1v1h-1zM42 44h1v1h-1zM57 45h1v1h-1zM62 45h1v1h-1zM67 45h1v1h-1zM84 45h1v1h-1zM89 45h1v1h-1zM0 46h1v1h-1zM42 46h1v1h-1zM47 46h1v1h-1zM11 47h1v1h-1zM33 47h1v1h-1zM46 47h1v1h-1zM70 47h1v1h-1zM74 48h1v1h-1zM15 49h1v1h-1zM15 51h1v1h-1zM37 51h1v1h-1zM9 52h1v1h-1zM18 52h1v1h-1zM23 52h1v1h-1zM29 52h1v1h-1zM34 52h1v1h-1zM39 52h1v1h-1zM65 52h1v1h-1zM77 53h1v1h-1zM79 53h1v1h-1zM15 54h1v1h-1zM37 54h1v1h-1zM94 55h1v1h-1zM45 57h1v1h-1zM72 58h1v1h-1zM20 59h1v1h-1zM27 59h1v1h-1zM32 59h1v1h-1zM73 59h1v1h-1zM94 60h1v1h-1zM37 61h1v1h-1zM45 62h1v1h-1zM72 63h1v1h-1zM4 64h1v1h-1zM83 64h1v1h-1zM52 65h1v1h-1zM25 66h1v1h-1zM30 66h1v1h-1zM45 67h1v1h-1zM19 69h1v1h-1zM25 69h1v1h-1zM30 69h1v1h-1zM0 70h1v1h-1zM5 70h1v1h-1zM42 70h1v1h-1zM47 70h1v1h-1zM15 71h1v1h-1zM7 72h1v1h-1zM40 72h1v1h-1zM58 72h1v1h-1zM63 72h1v1h-1zM88 72h1v1h-1zM59 73h1v1h-1zM38 74h1v1h-1zM48 74h1v1h-1zM78 74h1v1h-1zM15 75h1v1h-1zM37 75h1v1h-1zM10 76h1v1h-1zM17 77h1v1h-1zM43 77h1v1h-1zM53 77h1v1h-1zM98 77h1v1h-1zM74 78h1v1h-1zM43 79h1v1h-1zM53 79h1v1h-1zM98 79h1v1h-1zM15 80h1v1h-1zM37 80h1v1h-1zM19 82h1v1h-1zM22 82h1v1h-1zM30 82h1v1h-1zM93 82h1v1h-1zM64 83h1v1h-1zM92 83h1v1h-1zM45 84h1v1h-1zM10 85h1v1h-1zM4 87h1v1h-1zM20 87h1v1h-1zM32 87h1v1h-1zM72 88h1v1h-1zM45 89h1v1h-1zM4 92h1v1h-1zM83 92h1v1h-1zM13 93h1v1h-1zM82 93h1v1h-1zM24 94h1v1h-1zM55 94h1v1h-1zM60 94h1v1h-1zM96 94h1v1h-1zM10 95h1v1h-1zM94 96h1v1h-1zM37 97h1v1h-1zM77 98h1v1h-1zM79 98h1v1h-1zM9 99h1v1h-1zM18 99h1v1h-1zM34 99h1v1h-1z"/><path fill="#00c7ff" d="M16 0h1v1h-1zM21 0h1v1h-1zM33 0h1v1h-1zM76 0h1v1h-1zM42 1h1v1h-1zM57 2h1v1h-1zM62 2h1v1h-1zM67 2h1v1h-1zM84 2h1v1h-1zM89 2h1v1h-1zM10 3h1v1h-1zM59 4h1v1h-1zM9 5h1v1h-1zM11 5h1v1h-1zM18 5h1v1h-1zM46 5h1v1h-1zM15 6h1v1h-1zM68 8h1v1h-1zM5 9h1v1h-1zM47 9h1v1h-1zM3 10h1v1h-1zM14 10h1v1h-1zM31 10h1v1h-1zM41 10h1v1h-1zM44 10h1v1h-1zM51 10h1v1h-1zM71 10h1v1h-1zM75 10h1v1h-1zM80 10h1v1h-1zM5 11h1v1h-1zM74 12h1v1h-1zM79 12h1v1h-1zM17 13h1v1h-1zM10 14h1v1h-1zM6 15h1v1h-1zM36 15h1v1h-1zM61 15h1v1h-1zM81 15h1v1h-1zM90 15h1v1h-1zM0 16h1v1h-1zM42 16h1v1h-1zM13 17h1v1h-1zM82 17h1v1h-1zM5 18h1v1h-1zM47 18h1v1h-1zM77 19h1v1h-1zM56 20h1v1h-1zM64 20h1v1h-1zM92 20h1v1h-1zM97 20h1v1h-1zM0 21h1v1h-1zM42 21h1v1h-1zM69 22h1v1h-1zM99 23h1v1h-1zM56 27h1v1h-1zM64 27h1v1h-1zM66 27h1v1h-1zM87 27h1v1h-1zM92 27h1v1h-1zM37 28h1v1h-1zM68 28h1v1h-1zM99 29h1v1h-1zM10 31h1v1h-1zM56 32h1v1h-1zM64 32h1v1h-1zM92 32h1v1h-1zM97 32h1v1h-1zM0 33h1v1h-1zM42 33h1v1h-1zM74 35h1v1h-1zM79 35h1v1h-1zM15 36h1v1h-1zM28 37h1v1h-1zM49 37h1v1h-1zM81 37h1v1h-1zM90 37h1v1h-1zM99 39h1v1h-1zM10 41h1v1h-1zM1 42h1v1h-1zM16 42h1v1h-1zM21 42h1v1h-1zM33 42h1v1h-1zM76 42h1v1h-1zM85 42h1v1h-1zM74 43h1v1h-1zM10 44h1v1h-1zM72 45h1v1h-1zM5 46h1v1h-1zM9 47h1v1h-1zM18 47h1v1h-1zM37 49h1v1h-1zM68 49h1v1h-1zM57 50h1v1h-1zM62 50h1v1h-1zM67 50h1v1h-1zM84 50h1v1h-1zM89 50h1v1h-1zM10 51h1v1h-1zM74 53h1v1h-1zM68 54h1v1h-1zM20 56h1v1h-1zM27 56h1v1h-1zM32 56h1v1h-1zM2 57h1v1h-1zM50 57h1v1h-1zM58 57h1v1h-1zM88 57h1v1h-1zM57 58h1v1h-1zM62 58h1v1h-1zM67 58h1v1h-1zM84 58h1v1h-1zM89 58h1v1h-1zM4 59h1v1h-1zM83 59h1v1h-1zM15 61h1v1h-1zM2 62h1v1h-1zM50 62h1v1h-1zM58 62h1v1h-1zM63 62h1v1h-1zM88 62h1v1h-1zM62 63h1v1h-1zM20 64h1v1h-1zM27 64h1v1h-1zM32 64h1v1h-1zM27 66h1v1h-1zM2 67h1v1h-1zM50 67h1v1h-1zM58 67h1v1h-1zM88 67h1v1h-1zM8 68h1v1h-1zM28 68h1v1h-1zM49 68h1v1h-1zM54 68h1v1h-1zM22 69h1v1h-1zM99 70h1v1h-1zM10 71h1v1h-1zM45 72h1v1h-1zM12 74h1v1h-1zM35 74h1v1h-1zM43 74h1v1h-1zM53 74h1v1h-1zM98 74h1v1h-1zM10 75h1v1h-1zM0 76h1v1h-1zM42 76h1v1h-1zM19 77h1v1h-1zM93 77h1v1h-1zM12 79h1v1h-1zM35 79h1v1h-1zM93 79h1v1h-1zM10 80h1v1h-1zM15 81h1v1h-1zM37 81h1v1h-1zM17 82h1v1h-1zM59 83h1v1h-1zM87 83h1v1h-1zM2 84h1v1h-1zM50 84h1v1h-1zM58 84h1v1h-1zM88 84h1v1h-1zM42 85h1v1h-1zM27 87h1v1h-1zM83 87h1v1h-1zM57 88h1v1h-1zM62 88h1v1h-1zM67 88h1v1h-1zM84 88h1v1h-1zM89 88h1v1h-1zM2 89h1v1h-1zM50 89h1v1h-1zM58 89h1v1h-1zM88 89h1v1h-1zM15 90h1v1h-1zM37 90h1v1h-1zM94 91h1v1h-1zM20 92h1v1h-1zM27 92h1v1h-1zM32 92h1v1h-1zM77 93h1v1h-1zM79 93h1v1h-1zM91 94h1v1h-1zM20 97h1v1h-1zM32 97h1v1h-1zM74 98h1v1h-1zM23 99h1v1h-1zM29 99h1v1h-1zM39 99h1v1h-1zM70 99h1v1h-1z"/><path fill="#00d7ff" d="M1 0h1v1h-1zM9 0h1v1h-1zM18 0h1v1h-1zM23 0h1v1h-1zM29 0h1v1h-1zM31 0h1v1h-1zM34 0h1v1h-1zM85 0h1v1h-1zM95 0h1v1h-1zM0 1h1v1h-1zM5 1h1v1h-1zM47 1h1v1h-1zM72 2h1v1h-1zM15 3h1v1h-1zM1 5h1v1h-1zM16 5h1v1h-1zM21 5h1v1h-1zM23 5h1v1h-1zM29 5h1v1h-1zM34 5h1v1h-1zM39 5h1v1h-1zM76 5h1v1h-1zM85 5h1v1h-1zM95 5h1v1h-1zM10 6h1v1h-1zM74 7h1v1h-1zM79 7h1v1h-1zM20 8h1v1h-1zM27 8h1v1h-1zM32 8h1v1h-1zM0 9h1v1h-1zM42 9h1v1h-1zM6 10h1v1h-1zM33 10h1v1h-1zM36 10h1v1h-1zM61 10h1v1h-1zM81 10h1v1h-1zM90 10h1v1h-1zM52 11h1v1h-1zM99 11h1v1h-1zM77 12h1v1h-1zM73 13h1v1h-1zM15 14h1v1h-1zM37 14h1v1h-1zM3 15h1v1h-1zM14 15h1v1h-1zM44 15h1v1h-1zM5 16h1v1h-1zM47 16h1v1h-1zM69 17h1v1h-1zM0 18h1v1h-1zM42 18h1v1h-1zM74 19h1v1h-1zM79 19h1v1h-1zM8 20h1v1h-1zM28 20h1v1h-1zM49 20h1v1h-1zM54 20h1v1h-1zM66 20h1v1h-1zM5 21h1v1h-1zM47 21h1v1h-1zM0 23h1v1h-1zM5 23h1v1h-1zM47 23h1v1h-1zM52 24h1v1h-1zM59 25h1v1h-1zM87 25h1v1h-1zM94 26h1v1h-1zM8 27h1v1h-1zM97 27h1v1h-1zM20 28h1v1h-1zM32 28h1v1h-1zM0 29h1v1h-1zM5 29h1v1h-1zM47 29h1v1h-1zM59 30h1v1h-1zM0 31h1v1h-1zM42 31h1v1h-1zM8 32h1v1h-1zM28 32h1v1h-1zM49 32h1v1h-1zM54 32h1v1h-1zM66 32h1v1h-1zM10 33h1v1h-1zM0 34h1v1h-1zM5 34h1v1h-1zM42 34h1v1h-1zM47 34h1v1h-1zM77 35h1v1h-1zM10 36h1v1h-1zM14 37h1v1h-1zM72 38h1v1h-1zM5 39h1v1h-1zM47 39h1v1h-1zM74 40h1v1h-1zM79 40h1v1h-1zM9 42h1v1h-1zM18 42h1v1h-1zM31 42h1v1h-1zM34 42h1v1h-1zM95 42h1v1h-1zM15 44h1v1h-1zM52 46h1v1h-1zM99 46h1v1h-1zM1 47h1v1h-1zM16 47h1v1h-1zM21 47h1v1h-1zM23 47h1v1h-1zM29 47h1v1h-1zM34 47h1v1h-1zM39 47h1v1h-1zM76 47h1v1h-1zM85 47h1v1h-1zM95 47h1v1h-1zM72 48h1v1h-1zM20 49h1v1h-1zM32 49h1v1h-1zM72 50h1v1h-1zM11 52h1v1h-1zM24 52h1v1h-1zM46 52h1v1h-1zM70 52h1v1h-1zM20 54h1v1h-1zM32 54h1v1h-1zM57 55h1v1h-1zM62 55h1v1h-1zM67 55h1v1h-1zM84 55h1v1h-1zM89 55h1v1h-1zM55 57h1v1h-1zM60 57h1v1h-1zM63 57h1v1h-1zM96 57h1v1h-1zM25 59h1v1h-1zM30 59h1v1h-1zM57 60h1v1h-1zM67 60h1v1h-1zM84 60h1v1h-1zM89 60h1v1h-1zM10 61h1v1h-1zM55 62h1v1h-1zM96 62h1v1h-1zM57 63h1v1h-1zM67 63h1v1h-1zM84 63h1v1h-1zM89 63h1v1h-1zM94 65h1v1h-1zM20 66h1v1h-1zM32 66h1v1h-1zM55 67h1v1h-1zM60 67h1v1h-1zM63 67h1v1h-1zM96 67h1v1h-1zM92 68h1v1h-1zM97 68h1v1h-1zM17 69h1v1h-1zM73 69h1v1h-1zM52 70h1v1h-1zM2 72h1v1h-1zM38 72h1v1h-1zM48 72h1v1h-1zM50 72h1v1h-1zM78 72h1v1h-1zM13 73h1v1h-1zM69 73h1v1h-1zM82 73h1v1h-1zM7 74h1v1h-1zM19 74h1v1h-1zM40 74h1v1h-1zM93 74h1v1h-1zM5 76h1v1h-1zM47 76h1v1h-1zM12 77h1v1h-1zM35 77h1v1h-1zM72 78h1v1h-1zM7 79h1v1h-1zM19 79h1v1h-1zM40 79h1v1h-1zM10 81h1v1h-1zM73 82h1v1h-1zM55 84h1v1h-1zM60 84h1v1h-1zM63 84h1v1h-1zM96 84h1v1h-1zM0 85h1v1h-1zM5 85h1v1h-1zM47 85h1v1h-1zM94 86h1v1h-1zM25 87h1v1h-1zM55 89h1v1h-1zM60 89h1v1h-1zM63 89h1v1h-1zM96 89h1v1h-1zM10 90h1v1h-1zM68 92h1v1h-1zM74 93h1v1h-1zM26 94h1v1h-1zM65 94h1v1h-1zM86 94h1v1h-1zM0 95h1v1h-1zM5 95h1v1h-1zM42 95h1v1h-1zM47 95h1v1h-1zM57 96h1v1h-1zM62 96h1v1h-1zM67 96h1v1h-1zM84 96h1v1h-1zM89 96h1v1h-1zM27 97h1v1h-1zM68 97h1v1h-1zM11 99h1v1h-1zM46 99h1v1h-1z"/><path fill="#00e7ff" d="M6 0h1v1h-1zM36 0h1v1h-1zM39 0h1v1h-1zM41 0h1v1h-1zM51 0h1v1h-1zM71 0h1v1h-1zM75 0h1v1h-1zM80 0h1v1h-1zM99 1h1v1h-1zM37 3h1v1h-1zM13 4h1v1h-1zM69 4h1v1h-1zM82 4h1v1h-1zM31 5h1v1h-1zM41 5h1v1h-1zM71 5h1v1h-1zM75 5h1v1h-1zM80 5h1v1h-1zM0 6h1v1h-1zM42 6h1v1h-1zM77 7h1v1h-1zM10 9h1v1h-1zM9 10h1v1h-1zM13 12h1v1h-1zM69 12h1v1h-1zM82 12h1v1h-1zM4 13h1v1h-1zM12 13h1v1h-1zM35 13h1v1h-1zM83 13h1v1h-1zM56 15h1v1h-1zM99 16h1v1h-1zM52 21h1v1h-1zM99 21h1v1h-1zM59 22h1v1h-1zM87 22h1v1h-1zM42 23h1v1h-1zM99 24h1v1h-1zM64 25h1v1h-1zM92 25h1v1h-1zM28 27h1v1h-1zM49 27h1v1h-1zM54 27h1v1h-1zM27 28h1v1h-1zM42 29h1v1h-1zM64 30h1v1h-1zM87 30h1v1h-1zM92 30h1v1h-1zM5 31h1v1h-1zM47 31h1v1h-1zM13 35h1v1h-1zM69 35h1v1h-1zM82 35h1v1h-1zM0 36h1v1h-1zM42 36h1v1h-1zM3 37h1v1h-1zM44 37h1v1h-1zM56 37h1v1h-1zM57 38h1v1h-1zM62 38h1v1h-1zM67 38h1v1h-1zM84 38h1v1h-1zM89 38h1v1h-1zM0 39h1v1h-1zM42 39h1v1h-1zM77 40h1v1h-1zM0 41h1v1h-1zM5 41h1v1h-1zM42 41h1v1h-1zM47 41h1v1h-1zM6 42h1v1h-1zM23 42h1v1h-1zM29 42h1v1h-1zM36 42h1v1h-1zM39 42h1v1h-1zM41 42h1v1h-1zM51 42h1v1h-1zM61 42h1v1h-1zM71 42h1v1h-1zM75 42h1v1h-1zM80 42h1v1h-1zM72 43h1v1h-1zM37 44h1v1h-1zM74 45h1v1h-1zM79 45h1v1h-1zM31 47h1v1h-1zM41 47h1v1h-1zM51 47h1v1h-1zM71 47h1v1h-1zM75 47h1v1h-1zM80 47h1v1h-1zM57 48h1v1h-1zM62 48h1v1h-1zM67 48h1v1h-1zM84 48h1v1h-1zM89 48h1v1h-1zM27 49h1v1h-1zM0 51h1v1h-1zM42 51h1v1h-1zM47 51h1v1h-1zM21 52h1v1h-1zM72 53h1v1h-1zM27 54h1v1h-1zM72 55h1v1h-1zM15 56h1v1h-1zM37 56h1v1h-1zM38 57h1v1h-1zM48 57h1v1h-1zM78 57h1v1h-1zM91 57h1v1h-1zM94 58h1v1h-1zM22 59h1v1h-1zM68 59h1v1h-1zM62 60h1v1h-1zM42 61h1v1h-1zM38 62h1v1h-1zM48 62h1v1h-1zM60 62h1v1h-1zM78 62h1v1h-1zM91 62h1v1h-1zM25 64h1v1h-1zM30 64h1v1h-1zM68 64h1v1h-1zM38 67h1v1h-1zM48 67h1v1h-1zM78 67h1v1h-1zM91 67h1v1h-1zM59 68h1v1h-1zM64 68h1v1h-1zM87 68h1v1h-1zM4 69h1v1h-1zM12 69h1v1h-1zM35 69h1v1h-1zM83 69h1v1h-1zM0 71h1v1h-1zM5 71h1v1h-1zM42 71h1v1h-1zM47 71h1v1h-1zM43 72h1v1h-1zM53 72h1v1h-1zM55 72h1v1h-1zM96 72h1v1h-1zM98 72h1v1h-1zM77 73h1v1h-1zM45 74h1v1h-1zM0 75h1v1h-1zM5 75h1v1h-1zM42 75h1v1h-1zM47 75h1v1h-1zM99 76h1v1h-1zM7 77h1v1h-1zM40 77h1v1h-1zM73 77h1v1h-1zM57 78h1v1h-1zM62 78h1v1h-1zM67 78h1v1h-1zM84 78h1v1h-1zM89 78h1v1h-1zM45 79h1v1h-1zM0 80h1v1h-1zM5 80h1v1h-1zM42 80h1v1h-1zM47 80h1v1h-1zM4 82h1v1h-1zM12 82h1v1h-1zM35 82h1v1h-1zM13 83h1v1h-1zM69 83h1v1h-1zM38 84h1v1h-1zM48 84h1v1h-1zM78 84h1v1h-1zM91 84h1v1h-1zM99 85h1v1h-1zM22 87h1v1h-1zM30 87h1v1h-1zM68 87h1v1h-1zM94 88h1v1h-1zM38 89h1v1h-1zM48 89h1v1h-1zM78 89h1v1h-1zM91 89h1v1h-1zM57 91h1v1h-1zM62 91h1v1h-1zM67 91h1v1h-1zM84 91h1v1h-1zM89 91h1v1h-1zM25 92h1v1h-1zM30 92h1v1h-1zM58 94h1v1h-1zM88 94h1v1h-1zM72 96h1v1h-1zM72 98h1v1h-1zM1 99h1v1h-1zM16 99h1v1h-1zM21 99h1v1h-1zM24 99h1v1h-1zM76 99h1v1h-1zM85 99h1v1h-1z"/><path fill="#00f7ff" d="M24 0h1v1h-1zM61 0h1v1h-1zM81 0h1v1h-1zM90 0h1v1h-1zM52 1h1v1h-1zM74 2h1v1h-1zM20 3h1v1h-1zM32 3h1v1h-1zM77 4h1v1h-1zM6 5h1v1h-1zM24 5h1v1h-1zM36 5h1v1h-1zM51 5h1v1h-1zM61 5h1v1h-1zM81 5h1v1h-1zM5 6h1v1h-1zM47 6h1v1h-1zM13 7h1v1h-1zM82 7h1v1h-1zM25 8h1v1h-1zM30 8h1v1h-1zM18 10h1v1h-1zM23 10h1v1h-1zM29 10h1v1h-1zM34 10h1v1h-1zM39 10h1v1h-1zM7 13h1v1h-1zM40 13h1v1h-1zM20 14h1v1h-1zM27 14h1v1h-1zM32 14h1v1h-1zM33 15h1v1h-1zM66 15h1v1h-1zM52 16h1v1h-1zM59 17h1v1h-1zM87 17h1v1h-1zM10 18h1v1h-1zM72 19h1v1h-1zM3 20h1v1h-1zM14 20h1v1h-1zM64 22h1v1h-1zM92 22h1v1h-1zM97 22h1v1h-1zM10 23h1v1h-1zM0 24h1v1h-1zM5 24h1v1h-1zM47 24h1v1h-1zM8 25h1v1h-1zM28 25h1v1h-1zM49 25h1v1h-1zM54 25h1v1h-1zM97 25h1v1h-1zM57 26h1v1h-1zM62 26h1v1h-1zM67 26h1v1h-1zM84 26h1v1h-1zM89 26h1v1h-1zM14 27h1v1h-1zM25 28h1v1h-1zM10 29h1v1h-1zM8 30h1v1h-1zM54 30h1v1h-1zM97 30h1v1h-1zM52 31h1v1h-1zM99 31h1v1h-1zM3 32h1v1h-1zM14 32h1v1h-1zM15 33h1v1h-1zM37 33h1v1h-1zM10 34h1v1h-1zM5 36h1v1h-1zM47 36h1v1h-1zM33 37h1v1h-1zM66 37h1v1h-1zM10 39h1v1h-1zM13 40h1v1h-1zM69 40h1v1h-1zM82 40h1v1h-1zM99 41h1v1h-1zM81 42h1v1h-1zM90 42h1v1h-1zM57 43h1v1h-1zM62 43h1v1h-1zM67 43h1v1h-1zM84 43h1v1h-1zM89 43h1v1h-1zM77 45h1v1h-1zM6 47h1v1h-1zM24 47h1v1h-1zM36 47h1v1h-1zM61 47h1v1h-1zM81 47h1v1h-1zM90 47h1v1h-1zM25 49h1v1h-1zM74 50h1v1h-1zM5 51h1v1h-1zM1 52h1v1h-1zM16 52h1v1h-1zM31 52h1v1h-1zM76 52h1v1h-1zM85 52h1v1h-1zM95 52h1v1h-1zM57 53h1v1h-1zM62 53h1v1h-1zM67 53h1v1h-1zM84 53h1v1h-1zM89 53h1v1h-1zM25 54h1v1h-1zM30 54h1v1h-1zM26 57h1v1h-1zM43 57h1v1h-1zM53 57h1v1h-1zM65 57h1v1h-1zM86 57h1v1h-1zM98 57h1v1h-1zM17 59h1v1h-1zM72 60h1v1h-1zM0 61h1v1h-1zM5 61h1v1h-1zM47 61h1v1h-1zM26 62h1v1h-1zM43 62h1v1h-1zM53 62h1v1h-1zM86 62h1v1h-1zM98 62h1v1h-1zM94 63h1v1h-1zM22 64h1v1h-1zM57 65h1v1h-1zM67 65h1v1h-1zM84 65h1v1h-1zM89 65h1v1h-1zM15 66h1v1h-1zM37 66h1v1h-1zM26 67h1v1h-1zM43 67h1v1h-1zM53 67h1v1h-1zM65 67h1v1h-1zM86 67h1v1h-1zM98 67h1v1h-1zM40 69h1v1h-1zM99 71h1v1h-1zM19 72h1v1h-1zM60 72h1v1h-1zM91 72h1v1h-1zM93 72h1v1h-1zM74 73h1v1h-1zM79 73h1v1h-1zM2 74h1v1h-1zM50 74h1v1h-1zM73 74h1v1h-1zM52 76h1v1h-1zM4 77h1v1h-1zM45 77h1v1h-1zM83 77h1v1h-1zM73 79h1v1h-1zM0 81h1v1h-1zM5 81h1v1h-1zM42 81h1v1h-1zM47 81h1v1h-1zM7 82h1v1h-1zM40 82h1v1h-1zM83 82h1v1h-1zM77 83h1v1h-1zM82 83h1v1h-1zM26 84h1v1h-1zM43 84h1v1h-1zM53 84h1v1h-1zM65 84h1v1h-1zM86 84h1v1h-1zM98 84h1v1h-1zM52 85h1v1h-1zM57 86h1v1h-1zM62 86h1v1h-1zM67 86h1v1h-1zM84 86h1v1h-1zM89 86h1v1h-1zM17 87h1v1h-1zM26 89h1v1h-1zM43 89h1v1h-1zM53 89h1v1h-1zM65 89h1v1h-1zM86 89h1v1h-1zM98 89h1v1h-1zM0 90h1v1h-1zM42 90h1v1h-1zM47 90h1v1h-1zM72 91h1v1h-1zM22 92h1v1h-1zM72 93h1v1h-1zM63 94h1v1h-1zM52 95h1v1h-1zM99 95h1v1h-1zM22 97h1v1h-1zM25 97h1v1h-1zM30 97h1v1h-1zM57 98h1v1h-1zM62 98h1v1h-1zM67 98h1v1h-1zM84 98h1v1h-1zM89 98h1v1h-1zM31 99h1v1h-1zM41 99h1v1h-1zM71 99h1v1h-1zM95 99h1v1h-1z"/><path fill="#08fff7" d="M77 2h1v1h-1zM79 2h1v1h-1zM27 3h1v1h-1zM74 4h1v1h-1zM79 4h1v1h-1zM90 5h1v1h-1zM99 6h1v1h-1zM69 7h1v1h-1zM22 8h1v1h-1zM15 9h1v1h-1zM37 9h1v1h-1zM56 10h1v1h-1zM66 10h1v1h-1zM94 11h1v1h-1zM59 12h1v1h-1zM45 13h1v1h-1zM9 15h1v1h-1zM18 15h1v1h-1zM23 15h1v1h-1zM29 15h1v1h-1zM34 15h1v1h-1zM39 15h1v1h-1zM64 17h1v1h-1zM92 17h1v1h-1zM97 17h1v1h-1zM15 18h1v1h-1zM37 18h1v1h-1zM57 19h1v1h-1zM62 19h1v1h-1zM67 19h1v1h-1zM84 19h1v1h-1zM89 19h1v1h-1zM44 20h1v1h-1zM8 22h1v1h-1zM28 22h1v1h-1zM49 22h1v1h-1zM54 22h1v1h-1zM15 23h1v1h-1zM42 24h1v1h-1zM72 26h1v1h-1zM3 27h1v1h-1zM44 27h1v1h-1zM22 28h1v1h-1zM30 28h1v1h-1zM15 29h1v1h-1zM28 30h1v1h-1zM49 30h1v1h-1zM44 32h1v1h-1zM15 34h1v1h-1zM37 34h1v1h-1zM59 35h1v1h-1zM99 36h1v1h-1zM9 37h1v1h-1zM18 37h1v1h-1zM34 37h1v1h-1zM94 38h1v1h-1zM15 39h1v1h-1zM52 41h1v1h-1zM24 42h1v1h-1zM20 44h1v1h-1zM27 44h1v1h-1zM32 44h1v1h-1zM13 45h1v1h-1zM69 45h1v1h-1zM82 45h1v1h-1zM94 46h1v1h-1zM94 48h1v1h-1zM22 49h1v1h-1zM30 49h1v1h-1zM77 50h1v1h-1zM79 50h1v1h-1zM52 51h1v1h-1zM99 51h1v1h-1zM41 52h1v1h-1zM51 52h1v1h-1zM71 52h1v1h-1zM75 52h1v1h-1zM80 52h1v1h-1zM88 52h1v1h-1zM22 54h1v1h-1zM74 55h1v1h-1zM79 55h1v1h-1zM10 56h1v1h-1zM19 57h1v1h-1zM93 57h1v1h-1zM12 59h1v1h-1zM35 59h1v1h-1zM99 61h1v1h-1zM19 62h1v1h-1zM65 62h1v1h-1zM93 62h1v1h-1zM17 64h1v1h-1zM62 65h1v1h-1zM72 65h1v1h-1zM10 66h1v1h-1zM19 67h1v1h-1zM93 67h1v1h-1zM7 69h1v1h-1zM45 69h1v1h-1zM94 70h1v1h-1zM52 71h1v1h-1zM26 72h1v1h-1zM65 72h1v1h-1zM86 72h1v1h-1zM4 74h1v1h-1zM55 74h1v1h-1zM96 74h1v1h-1zM52 75h1v1h-1zM99 75h1v1h-1zM2 77h1v1h-1zM50 77h1v1h-1zM94 78h1v1h-1zM2 79h1v1h-1zM4 79h1v1h-1zM50 79h1v1h-1zM55 79h1v1h-1zM83 79h1v1h-1zM96 79h1v1h-1zM52 80h1v1h-1zM99 80h1v1h-1zM45 82h1v1h-1zM79 83h1v1h-1zM19 84h1v1h-1zM93 84h1v1h-1zM72 86h1v1h-1zM52 88h1v1h-1zM19 89h1v1h-1zM93 89h1v1h-1zM5 90h1v1h-1zM17 92h1v1h-1zM57 93h1v1h-1zM62 93h1v1h-1zM67 93h1v1h-1zM84 93h1v1h-1zM89 93h1v1h-1zM11 94h1v1h-1zM38 94h1v1h-1zM46 94h1v1h-1zM48 94h1v1h-1zM70 94h1v1h-1zM78 94h1v1h-1zM74 96h1v1h-1zM79 96h1v1h-1zM17 97h1v1h-1zM6 99h1v1h-1zM36 99h1v1h-1zM51 99h1v1h-1zM61 99h1v1h-1zM75 99h1v1h-1zM80 99h1v1h-1z"/><path fill="#18ffe7" d="M56 0h1v1h-1zM13 2h1v1h-1zM82 2h1v1h-1zM52 6h1v1h-1zM17 8h1v1h-1zM24 10h1v1h-1zM64 12h1v1h-1zM87 12h1v1h-1zM92 12h1v1h-1zM2 13h1v1h-1zM50 13h1v1h-1zM68 13h1v1h-1zM25 14h1v1h-1zM30 14h1v1h-1zM94 16h1v1h-1zM8 17h1v1h-1zM28 17h1v1h-1zM49 17h1v1h-1zM54 17h1v1h-1zM33 20h1v1h-1zM94 21h1v1h-1zM37 23h1v1h-1zM10 24h1v1h-1zM14 25h1v1h-1zM33 27h1v1h-1zM17 28h1v1h-1zM37 29h1v1h-1zM14 30h1v1h-1zM33 32h1v1h-1zM20 33h1v1h-1zM27 33h1v1h-1zM32 33h1v1h-1zM64 35h1v1h-1zM87 35h1v1h-1zM92 35h1v1h-1zM52 36h1v1h-1zM23 37h1v1h-1zM29 37h1v1h-1zM39 37h1v1h-1zM37 39h1v1h-1zM59 40h1v1h-1zM56 42h1v1h-1zM94 43h1v1h-1zM17 49h1v1h-1zM13 50h1v1h-1zM82 50h1v1h-1zM6 52h1v1h-1zM36 52h1v1h-1zM58 52h1v1h-1zM61 52h1v1h-1zM63 52h1v1h-1zM81 52h1v1h-1zM90 52h1v1h-1zM94 53h1v1h-1zM17 54h1v1h-1zM77 55h1v1h-1zM0 56h1v1h-1zM42 56h1v1h-1zM52 58h1v1h-1zM99 58h1v1h-1zM40 59h1v1h-1zM74 60h1v1h-1zM79 60h1v1h-1zM52 61h1v1h-1zM52 63h1v1h-1zM12 64h1v1h-1zM35 64h1v1h-1zM13 68h1v1h-1zM69 68h1v1h-1zM82 68h1v1h-1zM68 69h1v1h-1zM84 70h1v1h-1zM89 70h1v1h-1zM73 72h1v1h-1zM72 73h1v1h-1zM60 74h1v1h-1zM83 74h1v1h-1zM91 74h1v1h-1zM94 76h1v1h-1zM55 77h1v1h-1zM96 77h1v1h-1zM60 79h1v1h-1zM91 79h1v1h-1zM52 81h1v1h-1zM99 81h1v1h-1zM2 82h1v1h-1zM50 82h1v1h-1zM68 82h1v1h-1zM74 83h1v1h-1zM70 84h1v1h-1zM94 85h1v1h-1zM12 87h1v1h-1zM35 87h1v1h-1zM99 88h1v1h-1zM70 89h1v1h-1zM52 90h1v1h-1zM99 90h1v1h-1zM74 91h1v1h-1zM79 91h1v1h-1zM12 92h1v1h-1zM35 92h1v1h-1zM16 94h1v1h-1zM21 94h1v1h-1zM43 94h1v1h-1zM53 94h1v1h-1zM76 94h1v1h-1zM85 94h1v1h-1zM98 94h1v1h-1zM77 96h1v1h-1zM94 98h1v1h-1zM58 99h1v1h-1zM81 99h1v1h-1zM88 99h1v1h-1zM90 99h1v1h-1z"/><path fill="#28ffd7" d="M66 0h1v1h-1zM94 1h1v1h-1zM69 2h1v1h-1zM22 3h1v1h-1zM25 3h1v1h-1zM30 3h1v1h-1zM72 4h1v1h-1zM56 5h1v1h-1zM66 5h1v1h-1zM88 5h1v1h-1zM59 7h1v1h-1zM87 7h1v1h-1zM12 8h1v1h-1zM35 8h1v1h-1zM20 9h1v1h-1zM27 9h1v1h-1zM32 9h1v1h-1zM57 11h1v1h-1zM62 11h1v1h-1zM67 11h1v1h-1zM84 11h1v1h-1zM89 11h1v1h-1zM8 12h1v1h-1zM49 12h1v1h-1zM54 12h1v1h-1zM97 12h1v1h-1zM55 13h1v1h-1zM96 13h1v1h-1zM22 14h1v1h-1zM24 15h1v1h-1zM20 18h1v1h-1zM27 18h1v1h-1zM32 18h1v1h-1zM94 19h1v1h-1zM9 20h1v1h-1zM18 20h1v1h-1zM23 20h1v1h-1zM29 20h1v1h-1zM34 20h1v1h-1zM39 20h1v1h-1zM3 22h1v1h-1zM14 22h1v1h-1zM44 22h1v1h-1zM20 23h1v1h-1zM32 23h1v1h-1zM15 24h1v1h-1zM3 25h1v1h-1zM44 25h1v1h-1zM74 26h1v1h-1zM79 26h1v1h-1zM9 27h1v1h-1zM18 27h1v1h-1zM34 27h1v1h-1zM20 29h1v1h-1zM32 29h1v1h-1zM3 30h1v1h-1zM44 30h1v1h-1zM94 31h1v1h-1zM9 32h1v1h-1zM18 32h1v1h-1zM23 32h1v1h-1zM29 32h1v1h-1zM34 32h1v1h-1zM39 32h1v1h-1zM20 34h1v1h-1zM27 34h1v1h-1zM32 34h1v1h-1zM8 35h1v1h-1zM54 35h1v1h-1zM97 35h1v1h-1zM52 38h1v1h-1zM20 39h1v1h-1zM32 39h1v1h-1zM64 40h1v1h-1zM87 40h1v1h-1zM92 40h1v1h-1zM66 42h1v1h-1zM22 44h1v1h-1zM25 44h1v1h-1zM30 44h1v1h-1zM57 46h1v1h-1zM62 46h1v1h-1zM67 46h1v1h-1zM84 46h1v1h-1zM89 46h1v1h-1zM56 47h1v1h-1zM66 47h1v1h-1zM88 47h1v1h-1zM52 48h1v1h-1zM12 49h1v1h-1zM69 50h1v1h-1zM38 52h1v1h-1zM48 52h1v1h-1zM78 52h1v1h-1zM12 54h1v1h-1zM35 54h1v1h-1zM13 55h1v1h-1zM82 55h1v1h-1zM5 56h1v1h-1zM47 56h1v1h-1zM11 57h1v1h-1zM46 57h1v1h-1zM70 57h1v1h-1zM73 57h1v1h-1zM7 59h1v1h-1zM77 60h1v1h-1zM11 62h1v1h-1zM46 62h1v1h-1zM70 62h1v1h-1zM73 62h1v1h-1zM99 63h1v1h-1zM40 64h1v1h-1zM74 65h1v1h-1zM0 66h1v1h-1zM5 66h1v1h-1zM42 66h1v1h-1zM47 66h1v1h-1zM11 67h1v1h-1zM46 67h1v1h-1zM70 67h1v1h-1zM73 67h1v1h-1zM77 68h1v1h-1zM2 69h1v1h-1zM50 69h1v1h-1zM57 70h1v1h-1zM62 70h1v1h-1zM67 70h1v1h-1zM4 72h1v1h-1zM83 72h1v1h-1zM57 73h1v1h-1zM62 73h1v1h-1zM67 73h1v1h-1zM84 73h1v1h-1zM89 73h1v1h-1zM26 74h1v1h-1zM65 74h1v1h-1zM86 74h1v1h-1zM60 77h1v1h-1zM68 77h1v1h-1zM91 77h1v1h-1zM52 78h1v1h-1zM26 79h1v1h-1zM86 79h1v1h-1zM55 82h1v1h-1zM96 82h1v1h-1zM72 83h1v1h-1zM11 84h1v1h-1zM46 84h1v1h-1zM73 84h1v1h-1zM74 86h1v1h-1zM79 86h1v1h-1zM7 87h1v1h-1zM40 87h1v1h-1zM5 88h1v1h-1zM47 88h1v1h-1zM11 89h1v1h-1zM46 89h1v1h-1zM73 89h1v1h-1zM77 91h1v1h-1zM40 92h1v1h-1zM94 93h1v1h-1zM1 94h1v1h-1zM19 94h1v1h-1zM31 94h1v1h-1zM93 94h1v1h-1zM95 94h1v1h-1zM94 95h1v1h-1zM13 96h1v1h-1zM82 96h1v1h-1zM12 97h1v1h-1zM35 97h1v1h-1zM63 99h1v1h-1z"/><path fill="#38ffc7" d="M58 0h1v1h-1zM63 0h1v1h-1zM88 0h1v1h-1zM67 1h1v1h-1zM84 1h1v1h-1zM89 1h1v1h-1zM17 3h1v1h-1zM57 4h1v1h-1zM62 4h1v1h-1zM67 4h1v1h-1zM58 5h1v1h-1zM63 5h1v1h-1zM94 6h1v1h-1zM64 7h1v1h-1zM92 7h1v1h-1zM97 7h1v1h-1zM40 8h1v1h-1zM72 11h1v1h-1zM28 12h1v1h-1zM60 13h1v1h-1zM91 13h1v1h-1zM17 14h1v1h-1zM57 16h1v1h-1zM67 16h1v1h-1zM84 16h1v1h-1zM89 16h1v1h-1zM3 17h1v1h-1zM14 17h1v1h-1zM44 17h1v1h-1zM57 21h1v1h-1zM62 21h1v1h-1zM67 21h1v1h-1zM84 21h1v1h-1zM89 21h1v1h-1zM33 22h1v1h-1zM27 23h1v1h-1zM37 24h1v1h-1zM33 25h1v1h-1zM77 26h1v1h-1zM23 27h1v1h-1zM29 27h1v1h-1zM39 27h1v1h-1zM12 28h1v1h-1zM35 28h1v1h-1zM27 29h1v1h-1zM33 30h1v1h-1zM22 33h1v1h-1zM25 33h1v1h-1zM30 33h1v1h-1zM28 35h1v1h-1zM49 35h1v1h-1zM94 36h1v1h-1zM24 37h1v1h-1zM99 38h1v1h-1zM27 39h1v1h-1zM8 40h1v1h-1zM97 40h1v1h-1zM94 41h1v1h-1zM58 42h1v1h-1zM88 42h1v1h-1zM52 43h1v1h-1zM17 44h1v1h-1zM59 45h1v1h-1zM64 45h1v1h-1zM87 45h1v1h-1zM72 46h1v1h-1zM58 47h1v1h-1zM63 47h1v1h-1zM99 48h1v1h-1zM35 49h1v1h-1zM94 51h1v1h-1zM43 52h1v1h-1zM53 52h1v1h-1zM98 52h1v1h-1zM52 53h1v1h-1zM69 55h1v1h-1zM99 56h1v1h-1zM4 57h1v1h-1zM16 57h1v1h-1zM21 57h1v1h-1zM76 57h1v1h-1zM0 58h1v1h-1zM5 58h1v1h-1zM42 58h1v1h-1zM47 58h1v1h-1zM45 59h1v1h-1zM13 60h1v1h-1zM69 60h1v1h-1zM82 60h1v1h-1zM94 61h1v1h-1zM4 62h1v1h-1zM21 62h1v1h-1zM76 62h1v1h-1zM83 62h1v1h-1zM0 63h1v1h-1zM5 63h1v1h-1zM47 63h1v1h-1zM7 64h1v1h-1zM45 64h1v1h-1zM79 65h1v1h-1zM1 67h1v1h-1zM4 67h1v1h-1zM16 67h1v1h-1zM21 67h1v1h-1zM76 67h1v1h-1zM85 67h1v1h-1zM74 68h1v1h-1zM79 68h1v1h-1zM55 69h1v1h-1zM60 69h1v1h-1zM96 69h1v1h-1zM72 70h1v1h-1zM94 71h1v1h-1zM11 72h1v1h-1zM46 72h1v1h-1zM70 72h1v1h-1zM68 74h1v1h-1zM94 75h1v1h-1zM57 76h1v1h-1zM62 76h1v1h-1zM67 76h1v1h-1zM84 76h1v1h-1zM89 76h1v1h-1zM26 77h1v1h-1zM86 77h1v1h-1zM99 78h1v1h-1zM65 79h1v1h-1zM68 79h1v1h-1zM94 80h1v1h-1zM60 82h1v1h-1zM91 82h1v1h-1zM62 83h1v1h-1zM1 84h1v1h-1zM16 84h1v1h-1zM21 84h1v1h-1zM76 84h1v1h-1zM85 84h1v1h-1zM67 85h1v1h-1zM84 85h1v1h-1zM89 85h1v1h-1zM77 86h1v1h-1zM45 87h1v1h-1zM0 88h1v1h-1zM42 88h1v1h-1zM1 89h1v1h-1zM16 89h1v1h-1zM21 89h1v1h-1zM76 89h1v1h-1zM85 89h1v1h-1zM13 91h1v1h-1zM82 91h1v1h-1zM7 92h1v1h-1zM6 94h1v1h-1zM36 94h1v1h-1zM41 94h1v1h-1zM51 94h1v1h-1zM61 94h1v1h-1zM71 94h1v1h-1zM75 94h1v1h-1zM80 94h1v1h-1zM69 96h1v1h-1zM7 97h1v1h-1zM40 97h1v1h-1zM52 98h1v1h-1zM38 99h1v1h-1zM48 99h1v1h-1zM56 99h1v1h-1zM78 99h1v1h-1z"/><path fill="#48ffb7" d="M57 1h1v1h-1zM62 1h1v1h-1zM59 2h1v1h-1zM87 2h1v1h-1zM84 4h1v1h-1zM89 4h1v1h-1zM38 5h1v1h-1zM48 5h1v1h-1zM78 5h1v1h-1zM8 7h1v1h-1zM28 7h1v1h-1zM49 7h1v1h-1zM54 7h1v1h-1zM7 8h1v1h-1zM25 9h1v1h-1zM30 9h1v1h-1zM88 10h1v1h-1zM14 12h1v1h-1zM26 13h1v1h-1zM86 13h1v1h-1zM12 14h1v1h-1zM35 14h1v1h-1zM62 16h1v1h-1zM72 16h1v1h-1zM33 17h1v1h-1zM25 18h1v1h-1zM30 18h1v1h-1zM24 20h1v1h-1zM72 21h1v1h-1zM25 23h1v1h-1zM20 24h1v1h-1zM32 24h1v1h-1zM9 25h1v1h-1zM18 25h1v1h-1zM23 25h1v1h-1zM29 25h1v1h-1zM34 25h1v1h-1zM13 26h1v1h-1zM82 26h1v1h-1zM7 28h1v1h-1zM40 28h1v1h-1zM25 29h1v1h-1zM9 30h1v1h-1zM18 30h1v1h-1zM34 30h1v1h-1zM57 31h1v1h-1zM62 31h1v1h-1zM67 31h1v1h-1zM84 31h1v1h-1zM89 31h1v1h-1zM24 32h1v1h-1zM17 33h1v1h-1zM25 34h1v1h-1zM30 34h1v1h-1zM14 35h1v1h-1zM5 38h1v1h-1zM47 38h1v1h-1zM28 40h1v1h-1zM49 40h1v1h-1zM54 40h1v1h-1zM84 41h1v1h-1zM89 41h1v1h-1zM63 42h1v1h-1zM99 43h1v1h-1zM92 45h1v1h-1zM97 45h1v1h-1zM38 47h1v1h-1zM48 47h1v1h-1zM78 47h1v1h-1zM5 48h1v1h-1zM47 48h1v1h-1zM7 49h1v1h-1zM40 49h1v1h-1zM59 50h1v1h-1zM87 50h1v1h-1zM56 52h1v1h-1zM66 52h1v1h-1zM99 53h1v1h-1zM7 54h1v1h-1zM40 54h1v1h-1zM52 56h1v1h-1zM1 57h1v1h-1zM31 57h1v1h-1zM83 57h1v1h-1zM85 57h1v1h-1zM95 57h1v1h-1zM2 59h1v1h-1zM50 59h1v1h-1zM1 62h1v1h-1zM16 62h1v1h-1zM31 62h1v1h-1zM85 62h1v1h-1zM95 62h1v1h-1zM42 63h1v1h-1zM77 65h1v1h-1zM82 65h1v1h-1zM52 66h1v1h-1zM99 66h1v1h-1zM31 67h1v1h-1zM83 67h1v1h-1zM95 67h1v1h-1zM86 69h1v1h-1zM91 69h1v1h-1zM84 71h1v1h-1zM89 71h1v1h-1zM16 72h1v1h-1zM21 72h1v1h-1zM76 72h1v1h-1zM94 73h1v1h-1zM72 76h1v1h-1zM65 77h1v1h-1zM5 78h1v1h-1zM47 78h1v1h-1zM94 81h1v1h-1zM26 82h1v1h-1zM65 82h1v1h-1zM86 82h1v1h-1zM57 83h1v1h-1zM67 83h1v1h-1zM84 83h1v1h-1zM89 83h1v1h-1zM4 84h1v1h-1zM31 84h1v1h-1zM41 84h1v1h-1zM71 84h1v1h-1zM83 84h1v1h-1zM95 84h1v1h-1zM57 85h1v1h-1zM62 85h1v1h-1zM13 86h1v1h-1zM69 86h1v1h-1zM82 86h1v1h-1zM2 87h1v1h-1zM50 87h1v1h-1zM10 88h1v1h-1zM4 89h1v1h-1zM31 89h1v1h-1zM41 89h1v1h-1zM71 89h1v1h-1zM83 89h1v1h-1zM95 89h1v1h-1zM94 90h1v1h-1zM69 91h1v1h-1zM45 92h1v1h-1zM73 94h1v1h-1zM81 94h1v1h-1zM90 94h1v1h-1zM57 95h1v1h-1zM62 95h1v1h-1zM67 95h1v1h-1zM84 95h1v1h-1zM89 95h1v1h-1zM45 97h1v1h-1zM99 98h1v1h-1zM43 99h1v1h-1zM53 99h1v1h-1zM66 99h1v1h-1zM98 99h1v1h-1z"/><path fill="#58ffa7" d="M38 0h1v1h-1zM48 0h1v1h-1zM78 0h1v1h-1zM72 1h1v1h-1zM64 2h1v1h-1zM92 2h1v1h-1zM97 2h1v1h-1zM12 3h1v1h-1zM35 3h1v1h-1zM94 4h1v1h-1zM43 5h1v1h-1zM53 5h1v1h-1zM98 5h1v1h-1zM57 6h1v1h-1zM62 6h1v1h-1zM67 6h1v1h-1zM84 6h1v1h-1zM89 6h1v1h-1zM45 8h1v1h-1zM17 9h1v1h-1zM22 9h1v1h-1zM58 10h1v1h-1zM63 10h1v1h-1zM74 11h1v1h-1zM79 11h1v1h-1zM3 12h1v1h-1zM44 12h1v1h-1zM65 13h1v1h-1zM88 15h1v1h-1zM9 17h1v1h-1zM18 17h1v1h-1zM17 18h1v1h-1zM22 18h1v1h-1zM52 19h1v1h-1zM99 19h1v1h-1zM9 22h1v1h-1zM18 22h1v1h-1zM23 22h1v1h-1zM29 22h1v1h-1zM34 22h1v1h-1zM39 22h1v1h-1zM22 23h1v1h-1zM30 23h1v1h-1zM27 24h1v1h-1zM39 25h1v1h-1zM69 26h1v1h-1zM24 27h1v1h-1zM45 28h1v1h-1zM22 29h1v1h-1zM30 29h1v1h-1zM23 30h1v1h-1zM29 30h1v1h-1zM39 30h1v1h-1zM72 31h1v1h-1zM22 34h1v1h-1zM3 35h1v1h-1zM44 35h1v1h-1zM57 36h1v1h-1zM62 36h1v1h-1zM67 36h1v1h-1zM84 36h1v1h-1zM89 36h1v1h-1zM0 38h1v1h-1zM42 38h1v1h-1zM22 39h1v1h-1zM25 39h1v1h-1zM30 39h1v1h-1zM57 41h1v1h-1zM62 41h1v1h-1zM67 41h1v1h-1zM38 42h1v1h-1zM48 42h1v1h-1zM78 42h1v1h-1zM5 43h1v1h-1zM47 43h1v1h-1zM12 44h1v1h-1zM35 44h1v1h-1zM8 45h1v1h-1zM28 45h1v1h-1zM49 45h1v1h-1zM54 45h1v1h-1zM74 46h1v1h-1zM79 46h1v1h-1zM43 47h1v1h-1zM53 47h1v1h-1zM98 47h1v1h-1zM0 48h1v1h-1zM42 48h1v1h-1zM45 49h1v1h-1zM64 50h1v1h-1zM92 50h1v1h-1zM97 50h1v1h-1zM57 51h1v1h-1zM62 51h1v1h-1zM67 51h1v1h-1zM84 51h1v1h-1zM89 51h1v1h-1zM19 52h1v1h-1zM93 52h1v1h-1zM5 53h1v1h-1zM47 53h1v1h-1zM45 54h1v1h-1zM59 55h1v1h-1zM87 55h1v1h-1zM6 57h1v1h-1zM36 57h1v1h-1zM41 57h1v1h-1zM51 57h1v1h-1zM61 57h1v1h-1zM71 57h1v1h-1zM75 57h1v1h-1zM80 57h1v1h-1zM10 58h1v1h-1zM55 59h1v1h-1zM60 59h1v1h-1zM96 59h1v1h-1zM59 60h1v1h-1zM57 61h1v1h-1zM67 61h1v1h-1zM84 61h1v1h-1zM89 61h1v1h-1zM6 62h1v1h-1zM36 62h1v1h-1zM41 62h1v1h-1zM51 62h1v1h-1zM71 62h1v1h-1zM75 62h1v1h-1zM80 62h1v1h-1zM10 63h1v1h-1zM2 64h1v1h-1zM50 64h1v1h-1zM13 65h1v1h-1zM69 65h1v1h-1zM6 67h1v1h-1zM36 67h1v1h-1zM41 67h1v1h-1zM51 67h1v1h-1zM61 67h1v1h-1zM71 67h1v1h-1zM75 67h1v1h-1zM80 67h1v1h-1zM72 68h1v1h-1zM26 69h1v1h-1zM65 69h1v1h-1zM74 70h1v1h-1zM79 70h1v1h-1zM57 71h1v1h-1zM62 71h1v1h-1zM67 71h1v1h-1zM1 72h1v1h-1zM31 72h1v1h-1zM68 72h1v1h-1zM85 72h1v1h-1zM95 72h1v1h-1zM11 74h1v1h-1zM46 74h1v1h-1zM70 74h1v1h-1zM57 75h1v1h-1zM62 75h1v1h-1zM67 75h1v1h-1zM84 75h1v1h-1zM89 75h1v1h-1zM0 78h1v1h-1zM42 78h1v1h-1zM11 79h1v1h-1zM46 79h1v1h-1zM70 79h1v1h-1zM57 80h1v1h-1zM62 80h1v1h-1zM67 80h1v1h-1zM84 80h1v1h-1zM89 80h1v1h-1zM6 84h1v1h-1zM36 84h1v1h-1zM51 84h1v1h-1zM61 84h1v1h-1zM75 84h1v1h-1zM80 84h1v1h-1zM72 85h1v1h-1zM55 87h1v1h-1zM96 87h1v1h-1zM15 88h1v1h-1zM6 89h1v1h-1zM36 89h1v1h-1zM51 89h1v1h-1zM61 89h1v1h-1zM75 89h1v1h-1zM80 89h1v1h-1zM2 92h1v1h-1zM50 92h1v1h-1zM52 93h1v1h-1zM99 93h1v1h-1zM4 94h1v1h-1zM72 95h1v1h-1zM59 96h1v1h-1zM87 96h1v1h-1zM2 97h1v1h-1zM50 97h1v1h-1zM5 98h1v1h-1zM47 98h1v1h-1zM19 99h1v1h-1zM93 99h1v1h-1z"/><path fill="#68ff97" d="M43 0h1v1h-1zM53 0h1v1h-1zM98 0h1v1h-1zM8 2h1v1h-1zM28 2h1v1h-1zM49 2h1v1h-1zM54 2h1v1h-1zM7 3h1v1h-1zM40 3h1v1h-1zM93 5h1v1h-1zM72 6h1v1h-1zM3 7h1v1h-1zM14 7h1v1h-1zM44 7h1v1h-1zM2 8h1v1h-1zM50 8h1v1h-1zM38 10h1v1h-1zM48 10h1v1h-1zM78 10h1v1h-1zM77 11h1v1h-1zM33 12h1v1h-1zM7 14h1v1h-1zM40 14h1v1h-1zM58 15h1v1h-1zM63 15h1v1h-1zM74 16h1v1h-1zM23 17h1v1h-1zM29 17h1v1h-1zM34 17h1v1h-1zM39 17h1v1h-1zM74 21h1v1h-1zM79 21h1v1h-1zM17 23h1v1h-1zM25 24h1v1h-1zM24 25h1v1h-1zM2 28h1v1h-1zM50 28h1v1h-1zM17 29h1v1h-1zM12 33h1v1h-1zM35 33h1v1h-1zM17 34h1v1h-1zM33 35h1v1h-1zM72 36h1v1h-1zM58 37h1v1h-1zM88 37h1v1h-1zM10 38h1v1h-1zM17 39h1v1h-1zM3 40h1v1h-1zM14 40h1v1h-1zM44 40h1v1h-1zM72 41h1v1h-1zM43 42h1v1h-1zM53 42h1v1h-1zM98 42h1v1h-1zM0 43h1v1h-1zM42 43h1v1h-1zM7 44h1v1h-1zM40 44h1v1h-1zM77 46h1v1h-1zM93 47h1v1h-1zM10 48h1v1h-1zM2 49h1v1h-1zM50 49h1v1h-1zM8 50h1v1h-1zM28 50h1v1h-1zM49 50h1v1h-1zM54 50h1v1h-1zM72 51h1v1h-1zM0 53h1v1h-1zM42 53h1v1h-1zM2 54h1v1h-1zM50 54h1v1h-1zM64 55h1v1h-1zM92 55h1v1h-1zM97 55h1v1h-1zM94 56h1v1h-1zM68 57h1v1h-1zM81 57h1v1h-1zM90 57h1v1h-1zM15 58h1v1h-1zM37 58h1v1h-1zM91 59h1v1h-1zM64 60h1v1h-1zM87 60h1v1h-1zM92 60h1v1h-1zM62 61h1v1h-1zM61 62h1v1h-1zM68 62h1v1h-1zM81 62h1v1h-1zM90 62h1v1h-1zM15 63h1v1h-1zM55 64h1v1h-1zM60 64h1v1h-1zM96 64h1v1h-1zM68 67h1v1h-1zM81 67h1v1h-1zM90 67h1v1h-1zM57 68h1v1h-1zM62 68h1v1h-1zM67 68h1v1h-1zM84 68h1v1h-1zM89 68h1v1h-1zM77 70h1v1h-1zM72 71h1v1h-1zM6 72h1v1h-1zM36 72h1v1h-1zM41 72h1v1h-1zM51 72h1v1h-1zM71 72h1v1h-1zM75 72h1v1h-1zM80 72h1v1h-1zM16 74h1v1h-1zM21 74h1v1h-1zM76 74h1v1h-1zM72 75h1v1h-1zM74 76h1v1h-1zM11 77h1v1h-1zM46 77h1v1h-1zM70 77h1v1h-1zM10 78h1v1h-1zM21 79h1v1h-1zM72 80h1v1h-1zM57 81h1v1h-1zM62 81h1v1h-1zM67 81h1v1h-1zM84 81h1v1h-1zM89 81h1v1h-1zM94 83h1v1h-1zM68 84h1v1h-1zM81 84h1v1h-1zM90 84h1v1h-1zM60 87h1v1h-1zM91 87h1v1h-1zM37 88h1v1h-1zM68 89h1v1h-1zM81 89h1v1h-1zM90 89h1v1h-1zM57 90h1v1h-1zM62 90h1v1h-1zM67 90h1v1h-1zM84 90h1v1h-1zM89 90h1v1h-1zM59 91h1v1h-1zM87 91h1v1h-1zM55 92h1v1h-1zM60 92h1v1h-1zM96 92h1v1h-1zM5 93h1v1h-1zM47 93h1v1h-1zM56 94h1v1h-1zM83 94h1v1h-1zM64 96h1v1h-1zM92 96h1v1h-1zM97 96h1v1h-1zM55 97h1v1h-1zM96 97h1v1h-1zM0 98h1v1h-1zM42 98h1v1h-1z"/><path fill="#78ff87" d="M19 0h1v1h-1zM93 0h1v1h-1zM74 1h1v1h-1zM79 1h1v1h-1zM45 3h1v1h-1zM19 5h1v1h-1zM33 7h1v1h-1zM55 8h1v1h-1zM60 8h1v1h-1zM96 8h1v1h-1zM12 9h1v1h-1zM35 9h1v1h-1zM43 10h1v1h-1zM53 10h1v1h-1zM98 10h1v1h-1zM13 11h1v1h-1zM69 11h1v1h-1zM82 11h1v1h-1zM9 12h1v1h-1zM18 12h1v1h-1zM23 12h1v1h-1zM29 12h1v1h-1zM34 12h1v1h-1zM11 13h1v1h-1zM46 13h1v1h-1zM70 13h1v1h-1zM45 14h1v1h-1zM38 15h1v1h-1zM48 15h1v1h-1zM78 15h1v1h-1zM79 16h1v1h-1zM12 18h1v1h-1zM35 18h1v1h-1zM0 19h1v1h-1zM5 19h1v1h-1zM42 19h1v1h-1zM47 19h1v1h-1zM88 20h1v1h-1zM77 21h1v1h-1zM24 22h1v1h-1zM12 23h1v1h-1zM22 24h1v1h-1zM30 24h1v1h-1zM59 26h1v1h-1zM87 26h1v1h-1zM55 28h1v1h-1zM96 28h1v1h-1zM12 29h1v1h-1zM24 30h1v1h-1zM74 31h1v1h-1zM88 32h1v1h-1zM7 33h1v1h-1zM40 33h1v1h-1zM12 34h1v1h-1zM35 34h1v1h-1zM9 35h1v1h-1zM18 35h1v1h-1zM34 35h1v1h-1zM63 37h1v1h-1zM15 38h1v1h-1zM33 40h1v1h-1zM19 42h1v1h-1zM93 42h1v1h-1zM10 43h1v1h-1zM45 44h1v1h-1zM3 45h1v1h-1zM14 45h1v1h-1zM44 45h1v1h-1zM13 46h1v1h-1zM69 46h1v1h-1zM82 46h1v1h-1zM19 47h1v1h-1zM15 48h1v1h-1zM55 49h1v1h-1zM60 49h1v1h-1zM96 49h1v1h-1zM73 52h1v1h-1zM10 53h1v1h-1zM55 54h1v1h-1zM60 54h1v1h-1zM96 54h1v1h-1zM8 55h1v1h-1zM28 55h1v1h-1zM49 55h1v1h-1zM54 55h1v1h-1zM26 59h1v1h-1zM65 59h1v1h-1zM86 59h1v1h-1zM8 60h1v1h-1zM49 60h1v1h-1zM54 60h1v1h-1zM97 60h1v1h-1zM72 61h1v1h-1zM37 63h1v1h-1zM86 64h1v1h-1zM91 64h1v1h-1zM59 65h1v1h-1zM87 65h1v1h-1zM94 66h1v1h-1zM11 69h1v1h-1zM46 69h1v1h-1zM70 69h1v1h-1zM13 70h1v1h-1zM69 70h1v1h-1zM82 70h1v1h-1zM61 72h1v1h-1zM81 72h1v1h-1zM90 72h1v1h-1zM52 73h1v1h-1zM99 73h1v1h-1zM1 74h1v1h-1zM31 74h1v1h-1zM85 74h1v1h-1zM95 74h1v1h-1zM77 76h1v1h-1zM79 76h1v1h-1zM21 77h1v1h-1zM76 77h1v1h-1zM15 78h1v1h-1zM1 79h1v1h-1zM16 79h1v1h-1zM76 79h1v1h-1zM85 79h1v1h-1zM95 79h1v1h-1zM72 81h1v1h-1zM11 82h1v1h-1zM46 82h1v1h-1zM70 82h1v1h-1zM74 85h1v1h-1zM79 85h1v1h-1zM59 86h1v1h-1zM64 86h1v1h-1zM87 86h1v1h-1zM26 87h1v1h-1zM65 87h1v1h-1zM86 87h1v1h-1zM20 88h1v1h-1zM32 88h1v1h-1zM72 90h1v1h-1zM64 91h1v1h-1zM92 91h1v1h-1zM97 91h1v1h-1zM91 92h1v1h-1zM0 93h1v1h-1zM42 93h1v1h-1zM66 94h1v1h-1zM74 95h1v1h-1zM79 95h1v1h-1zM8 96h1v1h-1zM28 96h1v1h-1zM49 96h1v1h-1zM54 96h1v1h-1zM60 97h1v1h-1zM91 97h1v1h-1zM10 98h1v1h-1zM73 99h1v1h-1z"/><path fill="#87ff78" d="M77 1h1v1h-1zM3 2h1v1h-1zM14 2h1v1h-1zM44 2h1v1h-1zM2 3h1v1h-1zM50 3h1v1h-1zM52 4h1v1h-1zM74 6h1v1h-1zM9 7h1v1h-1zM86 8h1v1h-1zM91 8h1v1h-1zM7 9h1v1h-1zM40 9h1v1h-1zM93 10h1v1h-1zM39 12h1v1h-1zM21 13h1v1h-1zM76 13h1v1h-1zM2 14h1v1h-1zM50 14h1v1h-1zM43 15h1v1h-1zM53 15h1v1h-1zM98 15h1v1h-1zM77 16h1v1h-1zM82 16h1v1h-1zM24 17h1v1h-1zM40 18h1v1h-1zM58 20h1v1h-1zM63 20h1v1h-1zM13 21h1v1h-1zM82 21h1v1h-1zM35 23h1v1h-1zM17 24h1v1h-1zM64 26h1v1h-1zM92 26h1v1h-1zM97 26h1v1h-1zM58 27h1v1h-1zM88 27h1v1h-1zM60 28h1v1h-1zM91 28h1v1h-1zM35 29h1v1h-1zM77 31h1v1h-1zM79 31h1v1h-1zM58 32h1v1h-1zM63 32h1v1h-1zM45 33h1v1h-1zM23 35h1v1h-1zM29 35h1v1h-1zM39 35h1v1h-1zM74 36h1v1h-1zM38 37h1v1h-1zM48 37h1v1h-1zM78 37h1v1h-1zM37 38h1v1h-1zM12 39h1v1h-1zM35 39h1v1h-1zM9 40h1v1h-1zM18 40h1v1h-1zM74 41h1v1h-1zM79 41h1v1h-1zM15 43h1v1h-1zM2 44h1v1h-1zM33 45h1v1h-1zM37 48h1v1h-1zM91 49h1v1h-1zM3 50h1v1h-1zM14 50h1v1h-1zM74 51h1v1h-1zM79 51h1v1h-1zM4 52h1v1h-1zM83 52h1v1h-1zM15 53h1v1h-1zM91 54h1v1h-1zM57 56h1v1h-1zM62 56h1v1h-1zM67 56h1v1h-1zM84 56h1v1h-1zM89 56h1v1h-1zM56 57h1v1h-1zM20 58h1v1h-1zM27 58h1v1h-1zM32 58h1v1h-1zM28 60h1v1h-1zM56 62h1v1h-1zM20 63h1v1h-1zM32 63h1v1h-1zM26 64h1v1h-1zM65 64h1v1h-1zM64 65h1v1h-1zM92 65h1v1h-1zM97 65h1v1h-1zM84 66h1v1h-1zM56 67h1v1h-1zM94 68h1v1h-1zM74 71h1v1h-1zM79 71h1v1h-1zM6 74h1v1h-1zM36 74h1v1h-1zM41 74h1v1h-1zM51 74h1v1h-1zM71 74h1v1h-1zM75 74h1v1h-1zM80 74h1v1h-1zM74 75h1v1h-1zM79 75h1v1h-1zM13 76h1v1h-1zM82 76h1v1h-1zM1 77h1v1h-1zM16 77h1v1h-1zM31 77h1v1h-1zM85 77h1v1h-1zM95 77h1v1h-1zM37 78h1v1h-1zM31 79h1v1h-1zM41 79h1v1h-1zM51 79h1v1h-1zM71 79h1v1h-1zM75 79h1v1h-1zM80 79h1v1h-1zM74 80h1v1h-1zM79 80h1v1h-1zM16 82h1v1h-1zM21 82h1v1h-1zM76 82h1v1h-1zM52 83h1v1h-1zM56 84h1v1h-1zM66 84h1v1h-1zM77 85h1v1h-1zM8 86h1v1h-1zM92 86h1v1h-1zM97 86h1v1h-1zM27 88h1v1h-1zM56 89h1v1h-1zM8 91h1v1h-1zM28 91h1v1h-1zM49 91h1v1h-1zM54 91h1v1h-1zM26 92h1v1h-1zM65 92h1v1h-1zM86 92h1v1h-1zM10 93h1v1h-1zM68 94h1v1h-1zM77 95h1v1h-1zM26 97h1v1h-1zM65 97h1v1h-1zM86 97h1v1h-1zM15 98h1v1h-1z"/><path fill="#97ff68" d="M73 0h1v1h-1zM13 1h1v1h-1zM69 1h1v1h-1zM82 1h1v1h-1zM33 2h1v1h-1zM55 3h1v1h-1zM96 3h1v1h-1zM99 4h1v1h-1zM73 5h1v1h-1zM77 6h1v1h-1zM79 6h1v1h-1zM18 7h1v1h-1zM23 7h1v1h-1zM29 7h1v1h-1zM34 7h1v1h-1zM39 7h1v1h-1zM26 8h1v1h-1zM65 8h1v1h-1zM45 9h1v1h-1zM19 10h1v1h-1zM1 13h1v1h-1zM16 13h1v1h-1zM31 13h1v1h-1zM85 13h1v1h-1zM95 13h1v1h-1zM55 14h1v1h-1zM60 14h1v1h-1zM96 14h1v1h-1zM13 16h1v1h-1zM69 16h1v1h-1zM7 18h1v1h-1zM45 18h1v1h-1zM10 19h1v1h-1zM38 20h1v1h-1zM48 20h1v1h-1zM78 20h1v1h-1zM69 21h1v1h-1zM7 23h1v1h-1zM40 23h1v1h-1zM8 26h1v1h-1zM28 26h1v1h-1zM49 26h1v1h-1zM54 26h1v1h-1zM63 27h1v1h-1zM26 28h1v1h-1zM65 28h1v1h-1zM86 28h1v1h-1zM7 29h1v1h-1zM40 29h1v1h-1zM13 31h1v1h-1zM82 31h1v1h-1zM38 32h1v1h-1zM48 32h1v1h-1zM78 32h1v1h-1zM2 33h1v1h-1zM7 34h1v1h-1zM40 34h1v1h-1zM77 36h1v1h-1zM79 36h1v1h-1zM43 37h1v1h-1zM53 37h1v1h-1zM98 37h1v1h-1zM20 38h1v1h-1zM32 38h1v1h-1zM7 39h1v1h-1zM40 39h1v1h-1zM23 40h1v1h-1zM29 40h1v1h-1zM34 40h1v1h-1zM39 40h1v1h-1zM77 41h1v1h-1zM73 42h1v1h-1zM37 43h1v1h-1zM50 44h1v1h-1zM55 44h1v1h-1zM96 44h1v1h-1zM9 45h1v1h-1zM18 45h1v1h-1zM73 47h1v1h-1zM20 48h1v1h-1zM32 48h1v1h-1zM26 49h1v1h-1zM65 49h1v1h-1zM86 49h1v1h-1zM44 50h1v1h-1zM77 51h1v1h-1zM37 53h1v1h-1zM26 54h1v1h-1zM65 54h1v1h-1zM86 54h1v1h-1zM3 55h1v1h-1zM14 55h1v1h-1zM44 55h1v1h-1zM72 56h1v1h-1zM66 57h1v1h-1zM70 59h1v1h-1zM14 60h1v1h-1zM74 61h1v1h-1zM79 61h1v1h-1zM66 62h1v1h-1zM27 63h1v1h-1zM8 65h1v1h-1zM28 65h1v1h-1zM49 65h1v1h-1zM54 65h1v1h-1zM57 66h1v1h-1zM62 66h1v1h-1zM67 66h1v1h-1zM89 66h1v1h-1zM66 67h1v1h-1zM1 69h1v1h-1zM16 69h1v1h-1zM21 69h1v1h-1zM76 69h1v1h-1zM85 69h1v1h-1zM95 69h1v1h-1zM59 70h1v1h-1zM77 71h1v1h-1zM56 72h1v1h-1zM0 73h1v1h-1zM5 73h1v1h-1zM42 73h1v1h-1zM47 73h1v1h-1zM61 74h1v1h-1zM81 74h1v1h-1zM90 74h1v1h-1zM77 75h1v1h-1zM69 76h1v1h-1zM6 77h1v1h-1zM36 77h1v1h-1zM41 77h1v1h-1zM51 77h1v1h-1zM71 77h1v1h-1zM75 77h1v1h-1zM80 77h1v1h-1zM20 78h1v1h-1zM32 78h1v1h-1zM6 79h1v1h-1zM36 79h1v1h-1zM61 79h1v1h-1zM81 79h1v1h-1zM90 79h1v1h-1zM77 80h1v1h-1zM74 81h1v1h-1zM79 81h1v1h-1zM1 82h1v1h-1zM31 82h1v1h-1zM85 82h1v1h-1zM95 82h1v1h-1zM99 83h1v1h-1zM13 85h1v1h-1zM69 85h1v1h-1zM82 85h1v1h-1zM28 86h1v1h-1zM49 86h1v1h-1zM54 86h1v1h-1zM66 89h1v1h-1zM74 90h1v1h-1zM79 90h1v1h-1zM13 95h1v1h-1zM69 95h1v1h-1zM82 95h1v1h-1zM3 96h1v1h-1zM14 96h1v1h-1zM44 96h1v1h-1zM37 98h1v1h-1zM4 99h1v1h-1zM83 99h1v1h-1z"/><path fill="#a7ff58" d="M4 0h1v1h-1zM83 0h1v1h-1zM60 3h1v1h-1zM91 3h1v1h-1zM0 4h1v1h-1zM5 4h1v1h-1zM42 4h1v1h-1zM47 4h1v1h-1zM4 5h1v1h-1zM83 5h1v1h-1zM13 6h1v1h-1zM82 6h1v1h-1zM59 11h1v1h-1zM64 11h1v1h-1zM87 11h1v1h-1zM24 12h1v1h-1zM6 13h1v1h-1zM36 13h1v1h-1zM41 13h1v1h-1zM51 13h1v1h-1zM71 13h1v1h-1zM75 13h1v1h-1zM80 13h1v1h-1zM91 14h1v1h-1zM19 15h1v1h-1zM93 15h1v1h-1zM15 19h1v1h-1zM37 19h1v1h-1zM88 22h1v1h-1zM45 23h1v1h-1zM12 24h1v1h-1zM35 24h1v1h-1zM58 25h1v1h-1zM63 25h1v1h-1zM88 25h1v1h-1zM38 27h1v1h-1zM48 27h1v1h-1zM78 27h1v1h-1zM45 29h1v1h-1zM58 30h1v1h-1zM88 30h1v1h-1zM69 31h1v1h-1zM43 32h1v1h-1zM53 32h1v1h-1zM98 32h1v1h-1zM50 33h1v1h-1zM55 33h1v1h-1zM96 33h1v1h-1zM45 34h1v1h-1zM24 35h1v1h-1zM13 36h1v1h-1zM82 36h1v1h-1zM19 37h1v1h-1zM93 37h1v1h-1zM27 38h1v1h-1zM45 39h1v1h-1zM13 41h1v1h-1zM69 41h1v1h-1zM82 41h1v1h-1zM4 42h1v1h-1zM32 43h1v1h-1zM60 44h1v1h-1zM91 44h1v1h-1zM23 45h1v1h-1zM29 45h1v1h-1zM34 45h1v1h-1zM39 45h1v1h-1zM59 46h1v1h-1zM64 46h1v1h-1zM87 46h1v1h-1zM4 47h1v1h-1zM83 47h1v1h-1zM27 48h1v1h-1zM33 50h1v1h-1zM13 51h1v1h-1zM82 51h1v1h-1zM32 53h1v1h-1zM33 55h1v1h-1zM25 58h1v1h-1zM30 58h1v1h-1zM11 59h1v1h-1zM46 59h1v1h-1zM3 60h1v1h-1zM44 60h1v1h-1zM77 61h1v1h-1zM25 63h1v1h-1zM11 64h1v1h-1zM46 64h1v1h-1zM70 64h1v1h-1zM72 66h1v1h-1zM31 69h1v1h-1zM41 69h1v1h-1zM71 69h1v1h-1zM75 69h1v1h-1zM80 69h1v1h-1zM64 70h1v1h-1zM87 70h1v1h-1zM92 70h1v1h-1zM13 71h1v1h-1zM69 71h1v1h-1zM82 71h1v1h-1zM66 72h1v1h-1zM13 75h1v1h-1zM69 75h1v1h-1zM82 75h1v1h-1zM61 77h1v1h-1zM81 77h1v1h-1zM90 77h1v1h-1zM27 78h1v1h-1zM13 80h1v1h-1zM69 80h1v1h-1zM82 80h1v1h-1zM77 81h1v1h-1zM6 82h1v1h-1zM36 82h1v1h-1zM41 82h1v1h-1zM51 82h1v1h-1zM71 82h1v1h-1zM75 82h1v1h-1zM80 82h1v1h-1zM0 83h1v1h-1zM5 83h1v1h-1zM47 83h1v1h-1zM11 87h1v1h-1zM46 87h1v1h-1zM70 87h1v1h-1zM22 88h1v1h-1zM25 88h1v1h-1zM30 88h1v1h-1zM77 90h1v1h-1zM3 91h1v1h-1zM14 91h1v1h-1zM44 91h1v1h-1zM70 92h1v1h-1zM15 93h1v1h-1zM37 93h1v1h-1zM33 96h1v1h-1zM32 98h1v1h-1z"/><path fill="#b7ff48" d="M59 1h1v1h-1zM9 2h1v1h-1zM18 2h1v1h-1zM23 2h1v1h-1zM29 2h1v1h-1zM34 2h1v1h-1zM39 2h1v1h-1zM26 3h1v1h-1zM86 3h1v1h-1zM69 6h1v1h-1zM24 7h1v1h-1zM70 8h1v1h-1zM2 9h1v1h-1zM50 9h1v1h-1zM55 9h1v1h-1zM96 9h1v1h-1zM73 10h1v1h-1zM92 11h1v1h-1zM97 11h1v1h-1zM61 13h1v1h-1zM81 13h1v1h-1zM90 13h1v1h-1zM26 14h1v1h-1zM65 14h1v1h-1zM86 14h1v1h-1zM59 16h1v1h-1zM87 16h1v1h-1zM88 17h1v1h-1zM2 18h1v1h-1zM50 18h1v1h-1zM55 18h1v1h-1zM43 20h1v1h-1zM53 20h1v1h-1zM98 20h1v1h-1zM59 21h1v1h-1zM87 21h1v1h-1zM58 22h1v1h-1zM63 22h1v1h-1zM2 23h1v1h-1zM50 23h1v1h-1zM7 24h1v1h-1zM40 24h1v1h-1zM3 26h1v1h-1zM14 26h1v1h-1zM44 26h1v1h-1zM43 27h1v1h-1zM53 27h1v1h-1zM98 27h1v1h-1zM2 29h1v1h-1zM50 29h1v1h-1zM63 30h1v1h-1zM60 33h1v1h-1zM91 33h1v1h-1zM2 34h1v1h-1zM50 34h1v1h-1zM69 36h1v1h-1zM2 39h1v1h-1zM50 39h1v1h-1zM24 40h1v1h-1zM83 42h1v1h-1zM20 43h1v1h-1zM27 43h1v1h-1zM26 44h1v1h-1zM86 44h1v1h-1zM92 46h1v1h-1zM97 46h1v1h-1zM9 50h1v1h-1zM18 50h1v1h-1zM23 50h1v1h-1zM29 50h1v1h-1zM34 50h1v1h-1zM39 50h1v1h-1zM69 51h1v1h-1zM68 52h1v1h-1zM20 53h1v1h-1zM27 53h1v1h-1zM70 54h1v1h-1zM9 55h1v1h-1zM18 55h1v1h-1zM74 56h1v1h-1zM22 58h1v1h-1zM1 59h1v1h-1zM16 59h1v1h-1zM21 59h1v1h-1zM76 59h1v1h-1zM85 59h1v1h-1zM33 60h1v1h-1zM13 61h1v1h-1zM69 61h1v1h-1zM82 61h1v1h-1zM22 63h1v1h-1zM30 63h1v1h-1zM14 65h1v1h-1zM52 68h1v1h-1zM99 68h1v1h-1zM6 69h1v1h-1zM36 69h1v1h-1zM51 69h1v1h-1zM61 69h1v1h-1zM81 69h1v1h-1zM8 70h1v1h-1zM54 70h1v1h-1zM97 70h1v1h-1zM10 73h1v1h-1zM56 74h1v1h-1zM59 76h1v1h-1zM87 76h1v1h-1zM13 81h1v1h-1zM69 81h1v1h-1zM82 81h1v1h-1zM61 82h1v1h-1zM81 82h1v1h-1zM90 82h1v1h-1zM42 83h1v1h-1zM59 85h1v1h-1zM3 86h1v1h-1zM14 86h1v1h-1zM44 86h1v1h-1zM16 87h1v1h-1zM21 87h1v1h-1zM76 87h1v1h-1zM17 88h1v1h-1zM13 90h1v1h-1zM82 90h1v1h-1zM33 91h1v1h-1zM11 92h1v1h-1zM46 92h1v1h-1zM9 96h1v1h-1zM11 97h1v1h-1zM46 97h1v1h-1zM70 97h1v1h-1zM20 98h1v1h-1zM27 98h1v1h-1zM68 99h1v1h-1z"/><path fill="#c7ff38" d="M64 1h1v1h-1zM87 1h1v1h-1zM92 1h1v1h-1zM65 3h1v1h-1zM10 4h1v1h-1zM68 5h1v1h-1zM11 8h1v1h-1zM46 8h1v1h-1zM60 9h1v1h-1zM91 9h1v1h-1zM4 10h1v1h-1zM83 10h1v1h-1zM8 11h1v1h-1zM28 11h1v1h-1zM49 11h1v1h-1zM54 11h1v1h-1zM73 15h1v1h-1zM64 16h1v1h-1zM92 16h1v1h-1zM97 16h1v1h-1zM58 17h1v1h-1zM63 17h1v1h-1zM60 18h1v1h-1zM96 18h1v1h-1zM20 19h1v1h-1zM27 19h1v1h-1zM32 19h1v1h-1zM19 20h1v1h-1zM93 20h1v1h-1zM64 21h1v1h-1zM92 21h1v1h-1zM97 21h1v1h-1zM38 22h1v1h-1zM48 22h1v1h-1zM78 22h1v1h-1zM55 23h1v1h-1zM60 23h1v1h-1zM96 23h1v1h-1zM45 24h1v1h-1zM38 25h1v1h-1zM48 25h1v1h-1zM78 25h1v1h-1zM33 26h1v1h-1zM19 27h1v1h-1zM93 27h1v1h-1zM11 28h1v1h-1zM46 28h1v1h-1zM70 28h1v1h-1zM55 29h1v1h-1zM60 29h1v1h-1zM96 29h1v1h-1zM38 30h1v1h-1zM48 30h1v1h-1zM78 30h1v1h-1zM59 31h1v1h-1zM87 31h1v1h-1zM19 32h1v1h-1zM93 32h1v1h-1zM26 33h1v1h-1zM86 33h1v1h-1zM55 34h1v1h-1zM60 34h1v1h-1zM96 34h1v1h-1zM73 37h1v1h-1zM22 38h1v1h-1zM25 38h1v1h-1zM30 38h1v1h-1zM55 39h1v1h-1zM96 39h1v1h-1zM59 41h1v1h-1zM65 44h1v1h-1zM24 45h1v1h-1zM8 46h1v1h-1zM28 46h1v1h-1zM49 46h1v1h-1zM54 46h1v1h-1zM22 48h1v1h-1zM25 48h1v1h-1zM30 48h1v1h-1zM11 49h1v1h-1zM46 49h1v1h-1zM70 49h1v1h-1zM11 54h1v1h-1zM46 54h1v1h-1zM23 55h1v1h-1zM29 55h1v1h-1zM34 55h1v1h-1zM39 55h1v1h-1zM77 56h1v1h-1zM79 56h1v1h-1zM17 58h1v1h-1zM31 59h1v1h-1zM41 59h1v1h-1zM71 59h1v1h-1zM95 59h1v1h-1zM9 60h1v1h-1zM18 60h1v1h-1zM23 60h1v1h-1zM29 60h1v1h-1zM34 60h1v1h-1zM17 63h1v1h-1zM1 64h1v1h-1zM16 64h1v1h-1zM21 64h1v1h-1zM76 64h1v1h-1zM85 64h1v1h-1zM95 64h1v1h-1zM3 65h1v1h-1zM44 65h1v1h-1zM74 66h1v1h-1zM79 66h1v1h-1zM5 68h1v1h-1zM90 69h1v1h-1zM28 70h1v1h-1zM49 70h1v1h-1zM59 71h1v1h-1zM15 73h1v1h-1zM37 73h1v1h-1zM66 74h1v1h-1zM64 76h1v1h-1zM92 76h1v1h-1zM97 76h1v1h-1zM56 77h1v1h-1zM22 78h1v1h-1zM25 78h1v1h-1zM30 78h1v1h-1zM56 79h1v1h-1zM66 79h1v1h-1zM10 83h1v1h-1zM64 85h1v1h-1zM87 85h1v1h-1zM92 85h1v1h-1zM33 86h1v1h-1zM1 87h1v1h-1zM31 87h1v1h-1zM85 87h1v1h-1zM95 87h1v1h-1zM69 90h1v1h-1zM9 91h1v1h-1zM1 92h1v1h-1zM16 92h1v1h-1zM21 92h1v1h-1zM76 92h1v1h-1zM85 92h1v1h-1zM20 93h1v1h-1zM27 93h1v1h-1zM32 93h1v1h-1zM59 95h1v1h-1zM64 95h1v1h-1zM87 95h1v1h-1zM18 96h1v1h-1zM23 96h1v1h-1zM29 96h1v1h-1zM34 96h1v1h-1zM39 96h1v1h-1zM16 97h1v1h-1zM21 97h1v1h-1zM76 97h1v1h-1z"/><path fill="#d7ff28" d="M68 0h1v1h-1zM8 1h1v1h-1zM54 1h1v1h-1zM97 1h1v1h-1zM24 2h1v1h-1zM15 4h1v1h-1zM59 6h1v1h-1zM87 6h1v1h-1zM1 8h1v1h-1zM16 8h1v1h-1zM21 8h1v1h-1zM76 8h1v1h-1zM85 8h1v1h-1zM26 9h1v1h-1zM86 9h1v1h-1zM58 12h1v1h-1zM63 12h1v1h-1zM88 12h1v1h-1zM56 13h1v1h-1zM70 14h1v1h-1zM4 15h1v1h-1zM83 15h1v1h-1zM8 16h1v1h-1zM28 16h1v1h-1zM49 16h1v1h-1zM54 16h1v1h-1zM38 17h1v1h-1zM48 17h1v1h-1zM78 17h1v1h-1zM26 18h1v1h-1zM86 18h1v1h-1zM91 18h1v1h-1zM8 21h1v1h-1zM28 21h1v1h-1zM49 21h1v1h-1zM54 21h1v1h-1zM43 22h1v1h-1zM53 22h1v1h-1zM98 22h1v1h-1zM91 23h1v1h-1zM2 24h1v1h-1zM50 24h1v1h-1zM43 25h1v1h-1zM53 25h1v1h-1zM98 25h1v1h-1zM9 26h1v1h-1zM18 26h1v1h-1zM16 28h1v1h-1zM21 28h1v1h-1zM76 28h1v1h-1zM91 29h1v1h-1zM43 30h1v1h-1zM53 30h1v1h-1zM98 30h1v1h-1zM64 31h1v1h-1zM92 31h1v1h-1zM97 31h1v1h-1zM65 33h1v1h-1zM91 34h1v1h-1zM58 35h1v1h-1zM88 35h1v1h-1zM59 36h1v1h-1zM87 36h1v1h-1zM17 38h1v1h-1zM60 39h1v1h-1zM91 39h1v1h-1zM64 41h1v1h-1zM87 41h1v1h-1zM92 41h1v1h-1zM68 42h1v1h-1zM22 43h1v1h-1zM25 43h1v1h-1zM30 43h1v1h-1zM68 47h1v1h-1zM17 48h1v1h-1zM16 49h1v1h-1zM21 49h1v1h-1zM76 49h1v1h-1zM85 49h1v1h-1zM24 50h1v1h-1zM59 51h1v1h-1zM87 51h1v1h-1zM22 53h1v1h-1zM25 53h1v1h-1zM30 53h1v1h-1zM1 54h1v1h-1zM16 54h1v1h-1zM21 54h1v1h-1zM76 54h1v1h-1zM85 54h1v1h-1zM13 56h1v1h-1zM82 56h1v1h-1zM12 58h1v1h-1zM35 58h1v1h-1zM6 59h1v1h-1zM36 59h1v1h-1zM51 59h1v1h-1zM61 59h1v1h-1zM75 59h1v1h-1zM80 59h2v1h-2zM39 60h1v1h-1zM59 61h1v1h-1zM12 63h1v1h-1zM31 64h1v1h-1zM41 64h1v1h-1zM71 64h1v1h-1zM75 64h1v1h-1zM80 64h1v1h-1zM33 65h1v1h-1zM77 66h1v1h-1zM0 68h1v1h-1zM42 68h1v1h-1zM47 68h1v1h-1zM14 70h1v1h-1zM64 71h1v1h-1zM87 71h1v1h-1zM92 71h1v1h-1zM59 75h1v1h-1zM64 75h1v1h-1zM87 75h1v1h-1zM8 76h1v1h-1zM28 76h1v1h-1zM49 76h1v1h-1zM54 76h1v1h-1zM66 77h1v1h-1zM17 78h1v1h-1zM59 80h1v1h-1zM64 80h1v1h-1zM87 80h1v1h-1zM59 81h1v1h-1zM56 82h1v1h-1zM15 83h1v1h-1zM8 85h1v1h-1zM49 85h1v1h-1zM54 85h1v1h-1zM97 85h1v1h-1zM9 86h1v1h-1zM18 86h1v1h-1zM6 87h1v1h-1zM36 87h1v1h-1zM41 87h1v1h-1zM51 87h1v1h-1zM71 87h1v1h-1zM75 87h1v1h-1zM80 87h1v1h-1zM12 88h1v1h-1zM35 88h1v1h-1zM18 91h1v1h-1zM23 91h1v1h-1zM29 91h1v1h-1zM34 91h1v1h-1zM39 91h1v1h-1zM31 92h1v1h-1zM41 92h1v1h-1zM71 92h1v1h-1zM95 92h1v1h-1zM92 95h1v1h-1zM97 95h1v1h-1zM1 97h1v1h-1zM31 97h1v1h-1zM85 97h1v1h-1zM95 97h1v1h-1zM22 98h1v1h-1zM25 98h1v1h-1zM30 98h1v1h-1z"/><path fill="#e7ff18" d="M28 1h1v1h-1zM49 1h1v1h-1zM11 3h1v1h-1zM46 3h1v1h-1zM70 3h1v1h-1zM37 4h1v1h-1zM64 6h1v1h-1zM92 6h1v1h-1zM97 6h1v1h-1zM88 7h1v1h-1zM31 8h1v1h-1zM41 8h1v1h-1zM71 8h1v1h-1zM75 8h1v1h-1zM80 8h1v1h-1zM95 8h1v1h-1zM65 9h1v1h-1zM3 11h1v1h-1zM14 11h1v1h-1zM44 11h1v1h-1zM66 13h1v1h-1zM11 14h1v1h-1zM46 14h1v1h-1zM43 17h1v1h-1zM53 17h1v1h-1zM98 17h1v1h-1zM65 18h1v1h-1zM25 19h1v1h-1zM30 19h1v1h-1zM73 20h1v1h-1zM26 23h1v1h-1zM65 23h1v1h-1zM86 23h1v1h-1zM55 24h1v1h-1zM96 24h1v1h-1zM19 25h1v1h-1zM93 25h1v1h-1zM23 26h1v1h-1zM29 26h1v1h-1zM34 26h1v1h-1zM39 26h1v1h-1zM1 28h1v1h-1zM31 28h1v1h-1zM85 28h1v1h-1zM95 28h1v1h-1zM26 29h1v1h-1zM65 29h1v1h-1zM86 29h1v1h-1zM19 30h1v1h-1zM93 30h1v1h-1zM8 31h1v1h-1zM28 31h1v1h-1zM49 31h1v1h-1zM54 31h1v1h-1zM73 32h1v1h-1zM26 34h1v1h-1zM65 34h1v1h-1zM86 34h1v1h-1zM63 35h1v1h-1zM64 36h1v1h-1zM92 36h1v1h-1zM97 36h1v1h-1zM4 37h1v1h-1zM83 37h1v1h-1zM26 39h1v1h-1zM86 39h1v1h-1zM88 40h1v1h-1zM8 41h1v1h-1zM54 41h1v1h-1zM97 41h1v1h-1zM17 43h1v1h-1zM11 44h1v1h-1zM46 44h1v1h-1zM70 44h1v1h-1zM3 46h1v1h-1zM14 46h1v1h-1zM44 46h1v1h-1zM1 49h1v1h-1zM31 49h1v1h-1zM95 49h1v1h-1zM64 51h1v1h-1zM92 51h1v1h-1zM97 51h1v1h-1zM17 53h1v1h-1zM31 54h1v1h-1zM41 54h1v1h-1zM71 54h1v1h-1zM95 54h1v1h-1zM24 55h1v1h-1zM69 56h1v1h-1zM90 59h1v1h-1zM64 61h1v1h-1zM87 61h1v1h-1zM92 61h1v1h-1zM35 63h1v1h-1zM6 64h1v1h-1zM36 64h1v1h-1zM51 64h1v1h-1zM61 64h1v1h-1zM81 64h1v1h-1zM9 65h1v1h-1zM18 65h1v1h-1zM23 65h1v1h-1zM29 65h1v1h-1zM34 65h1v1h-1zM13 66h1v1h-1zM69 66h1v1h-1zM82 66h1v1h-1zM56 69h1v1h-1zM66 69h1v1h-1zM3 70h1v1h-1zM44 70h1v1h-1zM8 71h1v1h-1zM54 71h1v1h-1zM97 71h1v1h-1zM20 73h1v1h-1zM32 73h1v1h-1zM8 75h1v1h-1zM92 75h1v1h-1zM97 75h1v1h-1zM8 80h1v1h-1zM92 80h1v1h-1zM97 80h1v1h-1zM64 81h1v1h-1zM87 81h1v1h-1zM92 81h1v1h-1zM66 82h1v1h-1zM37 83h1v1h-1zM28 85h1v1h-1zM23 86h1v1h-1zM29 86h1v1h-1zM34 86h1v1h-1zM39 86h1v1h-1zM61 87h1v1h-1zM81 87h1v1h-1zM90 87h1v1h-1zM7 88h1v1h-1zM40 88h1v1h-1zM59 90h1v1h-1zM87 90h1v1h-1zM6 92h1v1h-1zM36 92h1v1h-1zM51 92h1v1h-1zM61 92h1v1h-1zM75 92h1v1h-1zM80 92h2v1h-2zM25 93h1v1h-1zM30 93h1v1h-1zM8 95h1v1h-1zM28 95h1v1h-1zM49 95h1v1h-1zM54 95h1v1h-1zM24 96h1v1h-1zM6 97h1v1h-1zM36 97h1v1h-1zM41 97h1v1h-1zM51 97h1v1h-1zM71 97h1v1h-1zM75 97h1v1h-1zM80 97h1v1h-1zM17 98h1v1h-1z"/><path fill="#f7ff08" d="M14 1h1v1h-1zM21 3h1v1h-1zM76 3h1v1h-1zM20 4h1v1h-1zM32 4h1v1h-1zM8 6h1v1h-1zM28 6h1v1h-1zM49 6h1v1h-1zM54 6h1v1h-1zM58 7h1v1h-1zM63 7h1v1h-1zM6 8h1v1h-1zM36 8h1v1h-1zM51 8h1v1h-1zM61 8h1v1h-1zM81 8h1v1h-1zM68 10h1v1h-1zM33 11h1v1h-1zM38 12h1v1h-1zM48 12h1v1h-1zM78 12h1v1h-1zM1 14h1v1h-1zM16 14h1v1h-1zM21 14h1v1h-1zM76 14h1v1h-1zM85 14h1v1h-1zM14 16h1v1h-1zM93 17h1v1h-1zM22 19h1v1h-1zM4 20h1v1h-1zM83 20h1v1h-1zM3 21h1v1h-1zM14 21h1v1h-1zM44 21h1v1h-1zM19 22h1v1h-1zM93 22h1v1h-1zM60 24h1v1h-1zM91 24h1v1h-1zM73 27h1v1h-1zM6 28h1v1h-1zM36 28h1v1h-1zM41 28h1v1h-1zM51 28h1v1h-1zM71 28h1v1h-1zM75 28h1v1h-1zM80 28h1v1h-1zM4 32h1v1h-1zM83 32h1v1h-1zM11 33h1v1h-1zM46 33h1v1h-1zM70 33h1v1h-1zM38 35h1v1h-1zM48 35h1v1h-1zM78 35h1v1h-1zM8 36h1v1h-1zM28 36h1v1h-1zM49 36h1v1h-1zM54 36h1v1h-1zM12 38h1v1h-1zM35 38h1v1h-1zM65 39h1v1h-1zM58 40h1v1h-1zM63 40h1v1h-1zM28 41h1v1h-1zM49 41h1v1h-1zM21 44h1v1h-1zM76 44h1v1h-1zM88 45h1v1h-1zM33 46h1v1h-1zM12 48h1v1h-1zM35 48h1v1h-1zM6 49h1v1h-1zM36 49h1v1h-1zM41 49h1v1h-1zM51 49h1v1h-1zM61 49h1v1h-1zM71 49h1v1h-1zM75 49h1v1h-1zM80 49h1v1h-1zM8 51h1v1h-1zM28 51h1v1h-1zM49 51h1v1h-1zM54 51h1v1h-1zM6 54h1v1h-1zM36 54h1v1h-1zM51 54h1v1h-1zM61 54h1v1h-1zM75 54h1v1h-1zM80 54h1v1h-1zM7 58h1v1h-1zM40 58h1v1h-1zM24 60h1v1h-1zM8 61h1v1h-1zM49 61h1v1h-1zM54 61h1v1h-1zM97 61h1v1h-1zM7 63h1v1h-1zM40 63h1v1h-1zM90 64h1v1h-1zM39 65h1v1h-1zM10 68h1v1h-1zM33 70h1v1h-1zM28 71h1v1h-1zM49 71h1v1h-1zM27 73h1v1h-1zM28 75h1v1h-1zM49 75h1v1h-1zM54 75h1v1h-1zM3 76h1v1h-1zM14 76h1v1h-1zM44 76h1v1h-1zM12 78h1v1h-1zM35 78h1v1h-1zM28 80h1v1h-1zM49 80h1v1h-1zM54 80h1v1h-1zM8 81h1v1h-1zM97 81h1v1h-1zM20 83h1v1h-1zM32 83h1v1h-1zM14 85h1v1h-1zM45 88h1v1h-1zM64 90h1v1h-1zM92 90h1v1h-1zM97 90h1v1h-1zM24 91h1v1h-1zM90 92h1v1h-1zM17 93h1v1h-1zM22 93h1v1h-1zM61 97h1v1h-1zM81 97h1v1h-1zM90 97h1v1h-1z"/><path fill="#fff700" d="M3 1h1v1h-1zM44 1h1v1h-1zM88 2h1v1h-1zM1 3h1v1h-1zM16 3h1v1h-1zM31 3h1v1h-1zM85 3h1v1h-1zM95 3h1v1h-1zM27 4h1v1h-1zM38 7h1v1h-1zM48 7h1v1h-1zM78 7h1v1h-1zM90 8h1v1h-1zM11 9h1v1h-1zM46 9h1v1h-1zM70 9h1v1h-1zM9 11h1v1h-1zM18 11h1v1h-1zM43 12h1v1h-1zM53 12h1v1h-1zM98 12h1v1h-1zM31 14h1v1h-1zM41 14h1v1h-1zM71 14h1v1h-1zM95 14h1v1h-1zM68 15h1v1h-1zM3 16h1v1h-1zM44 16h1v1h-1zM19 17h1v1h-1zM11 18h1v1h-1zM46 18h1v1h-1zM70 18h1v1h-1zM17 19h1v1h-1zM33 21h1v1h-1zM26 24h1v1h-1zM65 24h1v1h-1zM86 24h1v1h-1zM73 25h1v1h-1zM24 26h1v1h-1zM4 27h1v1h-1zM83 27h1v1h-1zM61 28h1v1h-1zM81 28h1v1h-1zM90 28h1v1h-1zM73 30h1v1h-1zM3 31h1v1h-1zM14 31h1v1h-1zM44 31h1v1h-1zM21 33h1v1h-1zM70 34h1v1h-1zM43 35h1v1h-1zM53 35h1v1h-1zM98 35h1v1h-1zM68 37h1v1h-1zM7 38h1v1h-1zM40 38h1v1h-1zM38 40h1v1h-1zM48 40h1v1h-1zM78 40h1v1h-1zM14 41h1v1h-1zM12 43h1v1h-1zM35 43h1v1h-1zM1 44h1v1h-1zM16 44h1v1h-1zM31 44h1v1h-1zM85 44h1v1h-1zM95 44h1v1h-1zM58 45h1v1h-1zM63 45h1v1h-1zM9 46h1v1h-1zM18 46h1v1h-1zM7 48h1v1h-1zM40 48h1v1h-1zM81 49h1v1h-1zM90 49h1v1h-1zM88 50h1v1h-1zM12 53h1v1h-1zM35 53h1v1h-1zM81 54h1v1h-1zM90 54h1v1h-1zM59 56h1v1h-1zM87 56h1v1h-1zM45 58h1v1h-1zM56 59h1v1h-1zM66 59h1v1h-1zM28 61h1v1h-1zM45 63h1v1h-1zM24 65h1v1h-1zM59 66h1v1h-1zM15 68h1v1h-1zM37 68h1v1h-1zM9 70h1v1h-1zM18 70h1v1h-1zM34 70h1v1h-1zM14 71h1v1h-1zM25 73h1v1h-1zM30 73h1v1h-1zM7 78h1v1h-1zM40 78h1v1h-1zM28 81h1v1h-1zM49 81h1v1h-1zM54 81h1v1h-1zM27 83h1v1h-1zM3 85h1v1h-1zM44 85h1v1h-1zM24 86h1v1h-1zM56 87h1v1h-1zM2 88h1v1h-1zM50 88h1v1h-1zM8 90h1v1h-1zM28 90h1v1h-1zM49 90h1v1h-1zM54 90h1v1h-1zM3 95h1v1h-1zM14 95h1v1h-1zM44 95h1v1h-1zM12 98h1v1h-1zM35 98h1v1h-1z"/><path fill="#ffe700" d="M33 1h1v1h-1zM58 2h1v1h-1zM63 2h1v1h-1zM6 3h1v1h-1zM36 3h1v1h-1zM41 3h1v1h-1zM51 3h1v1h-1zM71 3h1v1h-1zM75 3h1v1h-1zM80 3h1v1h-1zM25 4h1v1h-1zM30 4h1v1h-1zM3 6h1v1h-1zM14 6h1v1h-1zM44 6h1v1h-1zM43 7h1v1h-1zM53 7h1v1h-1zM98 7h1v1h-1zM21 9h1v1h-1zM23 11h1v1h-1zM29 11h1v1h-1zM34 11h1v1h-1zM39 11h1v1h-1zM19 12h1v1h-1zM93 12h1v1h-1zM6 14h1v1h-1zM36 14h1v1h-1zM51 14h1v1h-1zM61 14h1v1h-1zM75 14h1v1h-1zM80 14h2v1h-2zM33 16h1v1h-1zM12 19h1v1h-1zM35 19h1v1h-1zM9 21h1v1h-1zM73 22h1v1h-1zM11 23h1v1h-1zM46 23h1v1h-1zM70 23h1v1h-1zM4 25h1v1h-1zM83 25h1v1h-1zM11 29h1v1h-1zM46 29h1v1h-1zM70 29h1v1h-1zM4 30h1v1h-1zM33 31h1v1h-1zM1 33h1v1h-1zM16 33h1v1h-1zM31 33h1v1h-1zM76 33h1v1h-1zM85 33h1v1h-1zM95 33h1v1h-1zM11 34h1v1h-1zM46 34h1v1h-1zM19 35h1v1h-1zM93 35h1v1h-1zM3 36h1v1h-1zM14 36h1v1h-1zM44 36h1v1h-1zM45 38h1v1h-1zM11 39h1v1h-1zM46 39h1v1h-1zM70 39h1v1h-1zM43 40h1v1h-1zM53 40h1v1h-1zM98 40h1v1h-1zM3 41h1v1h-1zM44 41h1v1h-1zM7 43h1v1h-1zM40 43h1v1h-1zM6 44h1v1h-1zM36 44h1v1h-1zM41 44h1v1h-1zM51 44h1v1h-1zM71 44h1v1h-1zM75 44h1v1h-1zM80 44h1v1h-1zM38 45h1v1h-1zM48 45h1v1h-1zM78 45h1v1h-1zM23 46h1v1h-1zM29 46h1v1h-1zM34 46h1v1h-1zM39 46h1v1h-1zM45 48h1v1h-1zM58 50h1v1h-1zM63 50h1v1h-1zM3 51h1v1h-1zM14 51h1v1h-1zM44 51h1v1h-1zM7 53h1v1h-1zM40 53h1v1h-1zM88 55h1v1h-1zM64 56h1v1h-1zM92 56h1v1h-1zM97 56h1v1h-1zM2 58h1v1h-1zM50 58h1v1h-1zM14 61h1v1h-1zM2 63h1v1h-1zM50 63h1v1h-1zM56 64h1v1h-1zM66 64h1v1h-1zM64 66h1v1h-1zM87 66h1v1h-1zM92 66h1v1h-1zM23 70h1v1h-1zM29 70h1v1h-1zM39 70h1v1h-1zM3 71h1v1h-1zM44 71h1v1h-1zM22 73h1v1h-1zM3 75h1v1h-1zM14 75h1v1h-1zM44 75h1v1h-1zM33 76h1v1h-1zM45 78h1v1h-1zM3 80h1v1h-1zM14 80h1v1h-1zM44 80h1v1h-1zM14 81h1v1h-1zM25 83h1v1h-1zM33 85h1v1h-1zM66 87h1v1h-1zM55 88h1v1h-1zM96 88h1v1h-1zM56 92h1v1h-1zM66 92h1v1h-1zM12 93h1v1h-1zM35 93h1v1h-1zM33 95h1v1h-1zM88 96h1v1h-1zM56 97h1v1h-1zM7 98h1v1h-1zM40 98h1v1h-1z"/><path fill="#ffd700" d="M9 1h1v1h-1zM18 1h1v1h-1zM34 1h1v1h-1zM38 2h1v1h-1zM48 2h1v1h-1zM78 2h1v1h-1zM61 3h1v1h-1zM81 3h1v1h-1zM90 3h1v1h-1zM22 4h1v1h-1zM93 7h1v1h-1zM56 8h1v1h-1zM66 8h1v1h-1zM1 9h1v1h-1zM16 9h1v1h-1zM76 9h1v1h-1zM85 9h1v1h-1zM95 9h1v1h-1zM90 14h1v1h-1zM9 16h1v1h-1zM18 16h1v1h-1zM23 16h1v1h-1zM29 16h1v1h-1zM34 16h1v1h-1zM39 16h1v1h-1zM73 17h1v1h-1zM1 18h1v1h-1zM16 18h1v1h-1zM21 18h1v1h-1zM76 18h1v1h-1zM85 18h1v1h-1zM95 18h1v1h-1zM40 19h1v1h-1zM68 20h1v1h-1zM18 21h1v1h-1zM23 21h1v1h-1zM29 21h1v1h-1zM34 21h1v1h-1zM39 21h1v1h-1zM4 22h1v1h-1zM83 22h1v1h-1zM16 23h1v1h-1zM21 23h1v1h-1zM76 23h1v1h-1zM68 27h1v1h-1zM56 28h1v1h-1zM16 29h1v1h-1zM21 29h1v1h-1zM76 29h1v1h-1zM83 30h1v1h-1zM68 32h1v1h-1zM41 33h1v1h-1zM51 33h1v1h-1zM71 33h1v1h-1zM75 33h1v1h-1zM80 33h1v1h-1zM1 34h1v1h-1zM16 34h1v1h-1zM21 34h1v1h-1zM76 34h1v1h-1zM85 34h1v1h-1zM2 38h1v1h-1zM50 38h1v1h-1zM16 39h1v1h-1zM21 39h1v1h-1zM76 39h1v1h-1zM19 40h1v1h-1zM93 40h1v1h-1zM33 41h1v1h-1zM45 43h1v1h-1zM61 44h1v1h-1zM81 44h1v1h-1zM90 44h1v1h-1zM43 45h1v1h-1zM53 45h1v1h-1zM98 45h1v1h-1zM2 48h1v1h-1zM50 48h1v1h-1zM56 49h1v1h-1zM38 50h1v1h-1zM48 50h1v1h-1zM78 50h1v1h-1zM33 51h1v1h-1zM45 53h1v1h-1zM56 54h1v1h-1zM66 54h1v1h-1zM58 55h1v1h-1zM63 55h1v1h-1zM8 56h1v1h-1zM28 56h1v1h-1zM49 56h1v1h-1zM54 56h1v1h-1zM55 58h1v1h-1zM60 58h1v1h-1zM96 58h1v1h-1zM58 60h1v1h-1zM63 60h1v1h-1zM88 60h1v1h-1zM3 61h1v1h-1zM44 61h1v1h-1zM55 63h1v1h-1zM60 63h1v1h-1zM96 63h1v1h-1zM8 66h1v1h-1zM54 66h1v1h-1zM97 66h1v1h-1zM20 68h1v1h-1zM27 68h1v1h-1zM32 68h1v1h-1zM33 71h1v1h-1zM17 73h1v1h-1zM33 75h1v1h-1zM9 76h1v1h-1zM18 76h1v1h-1zM23 76h1v1h-1zM29 76h1v1h-1zM34 76h1v1h-1zM39 76h1v1h-1zM2 78h1v1h-1zM50 78h1v1h-1zM33 80h1v1h-1zM3 81h1v1h-1zM44 81h1v1h-1zM22 83h1v1h-1zM30 83h1v1h-1zM9 85h1v1h-1zM18 85h1v1h-1zM34 85h1v1h-1zM60 88h1v1h-1zM91 88h1v1h-1zM3 90h1v1h-1zM14 90h1v1h-1zM44 90h1v1h-1zM88 91h1v1h-1zM7 93h1v1h-1zM40 93h1v1h-1zM9 95h1v1h-1zM18 95h1v1h-1zM58 96h1v1h-1zM63 96h1v1h-1zM66 97h1v1h-1zM45 98h1v1h-1z"/><path fill="#ffc700" d="M23 1h1v1h-1zM29 1h1v1h-1zM39 1h1v1h-1zM43 2h1v1h-1zM53 2h1v1h-1zM98 2h1v1h-1zM17 4h1v1h-1zM33 6h1v1h-1zM19 7h1v1h-1zM31 9h1v1h-1zM41 9h1v1h-1zM51 9h1v1h-1zM71 9h1v1h-1zM75 9h1v1h-1zM80 9h1v1h-1zM24 11h1v1h-1zM73 12h1v1h-1zM4 17h1v1h-1zM83 17h1v1h-1zM31 18h1v1h-1zM41 18h1v1h-1zM51 18h1v1h-1zM71 18h1v1h-1zM75 18h1v1h-1zM80 18h1v1h-1zM7 19h1v1h-1zM1 23h1v1h-1zM31 23h1v1h-1zM85 23h1v1h-1zM95 23h1v1h-1zM11 24h1v1h-1zM46 24h1v1h-1zM70 24h1v1h-1zM88 26h1v1h-1zM66 28h1v1h-1zM1 29h1v1h-1zM31 29h1v1h-1zM85 29h1v1h-1zM95 29h1v1h-1zM9 31h1v1h-1zM18 31h1v1h-1zM23 31h1v1h-1zM29 31h1v1h-1zM34 31h1v1h-1zM39 31h1v1h-1zM6 33h1v1h-1zM36 33h1v1h-1zM61 33h1v1h-1zM81 33h1v1h-1zM90 33h1v1h-1zM31 34h1v1h-1zM41 34h1v1h-1zM71 34h1v1h-1zM95 34h1v1h-1zM73 35h1v1h-1zM33 36h1v1h-1zM55 38h1v1h-1zM96 38h1v1h-1zM1 39h1v1h-1zM31 39h1v1h-1zM85 39h1v1h-1zM95 39h1v1h-1zM9 41h1v1h-1zM18 41h1v1h-1zM34 41h1v1h-1zM2 43h1v1h-1zM50 43h1v1h-1zM93 45h1v1h-1zM24 46h1v1h-1zM55 48h1v1h-1zM96 48h1v1h-1zM66 49h1v1h-1zM43 50h1v1h-1zM53 50h1v1h-1zM98 50h1v1h-1zM9 51h1v1h-1zM18 51h1v1h-1zM2 53h1v1h-1zM50 53h1v1h-1zM38 55h1v1h-1zM48 55h1v1h-1zM78 55h1v1h-1zM91 58h1v1h-1zM33 61h1v1h-1zM91 63h1v1h-1zM28 66h1v1h-1zM49 66h1v1h-1zM24 70h1v1h-1zM9 71h1v1h-1zM18 71h1v1h-1zM34 71h1v1h-1zM12 73h1v1h-1zM35 73h1v1h-1zM9 75h1v1h-1zM18 75h1v1h-1zM55 78h1v1h-1zM96 78h1v1h-1zM9 80h1v1h-1zM18 80h1v1h-1zM33 81h1v1h-1zM17 83h1v1h-1zM23 85h1v1h-1zM29 85h1v1h-1zM39 85h1v1h-1zM88 86h1v1h-1zM26 88h1v1h-1zM86 88h1v1h-1zM33 90h1v1h-1zM58 91h1v1h-1zM63 91h1v1h-1zM45 93h1v1h-1zM23 95h1v1h-1zM29 95h1v1h-1zM34 95h1v1h-1zM39 95h1v1h-1zM38 96h1v1h-1zM48 96h1v1h-1zM78 96h1v1h-1zM2 98h1v1h-1zM50 98h1v1h-1z"/><path fill="#ffb700" d="M93 2h1v1h-1zM56 3h1v1h-1zM12 4h1v1h-1zM35 4h1v1h-1zM9 6h1v1h-1zM18 6h1v1h-1zM23 6h1v1h-1zM29 6h1v1h-1zM34 6h1v1h-1zM39 6h1v1h-1zM6 9h1v1h-1zM36 9h1v1h-1zM61 9h1v1h-1zM81 9h1v1h-1zM90 9h1v1h-1zM4 12h1v1h-1zM56 14h1v1h-1zM66 14h1v1h-1zM24 16h1v1h-1zM6 18h1v1h-1zM36 18h1v1h-1zM61 18h1v1h-1zM81 18h1v1h-1zM90 18h1v1h-1zM45 19h1v1h-1zM24 21h1v1h-1zM6 23h1v1h-1zM36 23h1v1h-1zM41 23h1v1h-1zM51 23h1v1h-1zM61 23h1v1h-1zM71 23h1v1h-1zM75 23h1v1h-1zM80 23h1v1h-1zM16 24h1v1h-1zM21 24h1v1h-1zM76 24h1v1h-1zM68 25h1v1h-1zM58 26h1v1h-1zM63 26h1v1h-1zM6 29h1v1h-1zM36 29h1v1h-1zM41 29h1v1h-1zM51 29h1v1h-1zM61 29h1v1h-1zM71 29h1v1h-1zM75 29h1v1h-1zM80 29h1v1h-1zM68 30h1v1h-1zM6 34h1v1h-1zM36 34h1v1h-1zM51 34h1v1h-1zM61 34h1v1h-1zM75 34h1v1h-1zM80 34h2v1h-2zM4 35h1v1h-1zM9 36h1v1h-1zM18 36h1v1h-1zM23 36h1v1h-1zM29 36h1v1h-1zM34 36h1v1h-1zM39 36h1v1h-1zM60 38h1v1h-1zM91 38h1v1h-1zM6 39h1v1h-1zM36 39h1v1h-1zM41 39h1v1h-1zM51 39h1v1h-1zM71 39h1v1h-1zM75 39h1v1h-1zM80 39h1v1h-1zM23 41h1v1h-1zM29 41h1v1h-1zM39 41h1v1h-1zM55 43h1v1h-1zM96 43h1v1h-1zM56 44h1v1h-1zM19 45h1v1h-1zM60 48h1v1h-1zM91 48h1v1h-1zM23 51h1v1h-1zM29 51h1v1h-1zM34 51h1v1h-1zM39 51h1v1h-1zM55 53h1v1h-1zM96 53h1v1h-1zM43 55h1v1h-1zM53 55h1v1h-1zM98 55h1v1h-1zM3 56h1v1h-1zM14 56h1v1h-1zM44 56h1v1h-1zM26 58h1v1h-1zM65 58h1v1h-1zM86 58h1v1h-1zM38 60h1v1h-1zM48 60h1v1h-1zM78 60h1v1h-1zM9 61h1v1h-1zM18 61h1v1h-1zM23 61h1v1h-1zM29 61h1v1h-1zM34 61h1v1h-1zM26 63h1v1h-1zM65 63h1v1h-1zM86 63h1v1h-1zM58 65h1v1h-1zM63 65h1v1h-1zM88 65h1v1h-1zM14 66h1v1h-1zM25 68h1v1h-1zM30 68h1v1h-1zM23 71h1v1h-1zM29 71h1v1h-1zM39 71h1v1h-1zM23 75h1v1h-1zM29 75h1v1h-1zM34 75h1v1h-1zM39 75h1v1h-1zM24 76h1v1h-1zM60 78h1v1h-1zM91 78h1v1h-1zM23 80h1v1h-1zM29 80h1v1h-1zM34 80h1v1h-1zM39 80h1v1h-1zM9 81h1v1h-1zM18 81h1v1h-1zM34 81h1v1h-1zM58 86h1v1h-1zM63 86h1v1h-1zM65 88h1v1h-1zM9 90h1v1h-1zM18 90h1v1h-1zM38 91h1v1h-1zM48 91h1v1h-1zM78 91h1v1h-1zM2 93h1v1h-1zM43 96h1v1h-1zM53 96h1v1h-1zM98 96h1v1h-1zM55 98h1v1h-1zM96 98h1v1h-1z"/><path fill="#ffa700" d="M24 1h1v1h-1zM19 2h1v1h-1zM66 3h1v1h-1zM73 7h1v1h-1zM83 12h1v1h-1zM2 19h1v1h-1zM50 19h1v1h-1zM68 22h1v1h-1zM81 23h1v1h-1zM90 23h1v1h-1zM1 24h1v1h-1zM31 24h1v1h-1zM85 24h1v1h-1zM95 24h1v1h-1zM38 26h1v1h-1zM48 26h1v1h-1zM78 26h1v1h-1zM81 29h1v1h-1zM90 29h1v1h-1zM24 31h1v1h-1zM56 33h1v1h-1zM90 34h1v1h-1zM83 35h1v1h-1zM26 38h1v1h-1zM86 38h1v1h-1zM61 39h1v1h-1zM81 39h1v1h-1zM90 39h1v1h-1zM73 40h1v1h-1zM60 43h1v1h-1zM91 43h1v1h-1zM66 44h1v1h-1zM26 48h1v1h-1zM86 48h1v1h-1zM19 50h1v1h-1zM93 50h1v1h-1zM60 53h1v1h-1zM91 53h1v1h-1zM93 55h1v1h-1zM33 56h1v1h-1zM43 60h1v1h-1zM53 60h1v1h-1zM98 60h1v1h-1zM39 61h1v1h-1zM3 66h1v1h-1zM44 66h1v1h-1zM22 68h1v1h-1zM7 73h1v1h-1zM40 73h1v1h-1zM26 78h1v1h-1zM86 78h1v1h-1zM23 81h1v1h-1zM29 81h1v1h-1zM39 81h1v1h-1zM12 83h1v1h-1zM35 83h1v1h-1zM24 85h1v1h-1zM38 86h1v1h-1zM48 86h1v1h-1zM78 86h1v1h-1zM23 90h1v1h-1zM29 90h1v1h-1zM34 90h1v1h-1zM39 90h1v1h-1zM43 91h1v1h-1zM53 91h1v1h-1zM98 91h1v1h-1zM50 93h1v1h-1zM55 93h1v1h-1zM96 93h1v1h-1zM24 95h1v1h-1zM93 96h1v1h-1zM60 98h1v1h-1zM91 98h1v1h-1z"/><path fill="#ff9700" d="M7 4h1v1h-1zM40 4h1v1h-1zM24 6h1v1h-1zM4 7h1v1h-1zM83 7h1v1h-1zM88 11h1v1h-1zM68 17h1v1h-1zM55 19h1v1h-1zM60 19h1v1h-1zM96 19h1v1h-1zM6 24h1v1h-1zM36 24h1v1h-1zM41 24h1v1h-1zM51 24h1v1h-1zM71 24h1v1h-1zM75 24h1v1h-1zM80 24h1v1h-1zM43 26h1v1h-1zM53 26h1v1h-1zM98 26h1v1h-1zM66 33h1v1h-1zM24 36h1v1h-1zM65 38h1v1h-1zM4 40h1v1h-1zM83 40h1v1h-1zM24 41h1v1h-1zM26 43h1v1h-1zM86 43h1v1h-1zM73 45h1v1h-1zM88 46h1v1h-1zM65 48h1v1h-1zM24 51h1v1h-1zM26 53h1v1h-1zM86 53h1v1h-1zM19 55h1v1h-1zM70 58h1v1h-1zM19 60h1v1h-1zM93 60h1v1h-1zM38 65h1v1h-1zM48 65h1v1h-1zM78 65h1v1h-1zM33 66h1v1h-1zM17 68h1v1h-1zM58 70h1v1h-1zM88 70h1v1h-1zM24 71h1v1h-1zM45 73h1v1h-1zM24 75h1v1h-1zM65 78h1v1h-1zM24 80h1v1h-1zM7 83h1v1h-1zM40 83h1v1h-1zM43 86h1v1h-1zM53 86h1v1h-1zM98 86h1v1h-1zM11 88h1v1h-1zM46 88h1v1h-1zM70 88h1v1h-1zM93 91h1v1h-1zM60 93h1v1h-1zM91 93h1v1h-1zM19 96h1v1h-1zM26 98h1v1h-1zM86 98h1v1h-1z"/><path fill="#ff8700" d="M73 2h1v1h-1zM45 4h1v1h-1zM56 9h1v1h-1zM66 9h1v1h-1zM58 11h1v1h-1zM63 11h1v1h-1zM68 12h1v1h-1zM56 18h1v1h-1zM66 18h1v1h-1zM86 19h1v1h-1zM91 19h1v1h-1zM88 21h1v1h-1zM56 23h1v1h-1zM61 24h1v1h-1zM81 24h1v1h-1zM90 24h1v1h-1zM93 26h1v1h-1zM56 29h1v1h-1zM56 34h1v1h-1zM66 34h1v1h-1zM68 35h1v1h-1zM56 39h1v1h-1zM65 43h1v1h-1zM4 45h1v1h-1zM83 45h1v1h-1zM58 46h1v1h-1zM63 46h1v1h-1zM73 50h1v1h-1zM65 53h1v1h-1zM9 56h1v1h-1zM18 56h1v1h-1zM23 56h1v1h-1zM29 56h1v1h-1zM34 56h1v1h-1zM39 56h1v1h-1zM11 58h1v1h-1zM46 58h1v1h-1zM24 61h1v1h-1zM11 63h1v1h-1zM46 63h1v1h-1zM70 63h1v1h-1zM43 65h1v1h-1zM53 65h1v1h-1zM98 65h1v1h-1zM9 66h1v1h-1zM18 66h1v1h-1zM34 66h1v1h-1zM12 68h1v1h-1zM35 68h1v1h-1zM63 70h1v1h-1zM2 73h1v1h-1zM50 73h1v1h-1zM88 76h1v1h-1zM24 81h1v1h-1zM45 83h1v1h-1zM19 86h1v1h-1zM93 86h1v1h-1zM21 88h1v1h-1zM76 88h1v1h-1zM24 90h1v1h-1zM19 91h1v1h-1zM26 93h1v1h-1zM86 93h1v1h-1zM65 98h1v1h-1z"/><path fill="#ff7800" d="M58 1h1v1h-1zM88 1h1v1h-1zM4 2h1v1h-1zM83 2h1v1h-1zM2 4h1v1h-1zM50 4h1v1h-1zM38 11h1v1h-1zM48 11h1v1h-1zM78 11h1v1h-1zM58 16h1v1h-1zM63 16h1v1h-1zM88 16h1v1h-1zM26 19h1v1h-1zM65 19h1v1h-1zM58 21h1v1h-1zM63 21h1v1h-1zM66 23h1v1h-1zM19 26h1v1h-1zM66 29h1v1h-1zM88 31h1v1h-1zM11 38h1v1h-1zM46 38h1v1h-1zM70 38h1v1h-1zM66 39h1v1h-1zM68 40h1v1h-1zM38 46h1v1h-1zM48 46h1v1h-1zM78 46h1v1h-1zM11 48h1v1h-1zM46 48h1v1h-1zM70 48h1v1h-1zM4 50h1v1h-1zM83 50h1v1h-1zM73 55h1v1h-1zM1 58h1v1h-1zM16 58h1v1h-1zM21 58h1v1h-1zM76 58h1v1h-1zM85 58h1v1h-1zM73 60h1v1h-1zM16 63h1v1h-1zM21 63h1v1h-1zM76 63h1v1h-1zM19 65h1v1h-1zM93 65h1v1h-1zM23 66h1v1h-1zM29 66h1v1h-1zM39 66h1v1h-1zM40 68h1v1h-1zM38 70h1v1h-1zM48 70h1v1h-1zM78 70h1v1h-1zM55 73h1v1h-1zM60 73h1v1h-1zM96 73h1v1h-1zM58 76h1v1h-1zM63 76h1v1h-1zM11 78h1v1h-1zM46 78h1v1h-1zM70 78h1v1h-1zM2 83h1v1h-1zM50 83h1v1h-1zM58 85h1v1h-1zM88 85h1v1h-1zM1 88h1v1h-1zM16 88h1v1h-1zM31 88h1v1h-1zM85 88h1v1h-1zM95 88h1v1h-1zM65 93h1v1h-1zM88 95h1v1h-1zM73 96h1v1h-1z"/><path fill="#ff6800" d="M63 1h1v1h-1zM55 4h1v1h-1zM60 4h1v1h-1zM96 4h1v1h-1zM88 6h1v1h-1zM68 7h1v1h-1zM43 11h1v1h-1zM53 11h1v1h-1zM98 11h1v1h-1zM38 21h1v1h-1zM48 21h1v1h-1zM78 21h1v1h-1zM56 24h1v1h-1zM58 31h1v1h-1zM63 31h1v1h-1zM88 36h1v1h-1zM21 38h1v1h-1zM76 38h1v1h-1zM58 41h1v1h-1zM88 41h1v1h-1zM11 43h1v1h-1zM46 43h1v1h-1zM70 43h1v1h-1zM68 45h1v1h-1zM43 46h1v1h-1zM53 46h1v1h-1zM98 46h1v1h-1zM21 48h1v1h-1zM76 48h1v1h-1zM88 51h1v1h-1zM11 53h1v1h-1zM46 53h1v1h-1zM70 53h1v1h-1zM4 55h1v1h-1zM83 55h1v1h-1zM24 56h1v1h-1zM31 58h1v1h-1zM41 58h1v1h-1zM71 58h1v1h-1zM95 58h1v1h-1zM4 60h1v1h-1zM1 63h1v1h-1zM31 63h1v1h-1zM85 63h1v1h-1zM95 63h1v1h-1zM7 68h1v1h-1zM45 68h1v1h-1zM43 70h1v1h-1zM53 70h1v1h-1zM98 70h1v1h-1zM58 71h1v1h-1zM88 71h1v1h-1zM91 73h1v1h-1zM88 75h1v1h-1zM38 76h1v1h-1zM48 76h1v1h-1zM78 76h1v1h-1zM21 78h1v1h-1zM76 78h1v1h-1zM88 80h1v1h-1zM55 83h1v1h-1zM96 83h1v1h-1zM63 85h1v1h-1zM6 88h1v1h-1zM36 88h1v1h-1zM41 88h1v1h-1zM51 88h1v1h-1zM71 88h1v1h-1zM75 88h1v1h-1zM80 88h1v1h-1zM73 91h1v1h-1zM58 95h1v1h-1zM63 95h1v1h-1zM4 96h1v1h-1zM83 96h1v1h-1zM11 98h1v1h-1zM46 98h1v1h-1zM70 98h1v1h-1z"/><path fill="#ff5800" d="M38 1h1v1h-1zM48 1h1v1h-1zM78 1h1v1h-1zM91 4h1v1h-1zM58 6h1v1h-1zM63 6h1v1h-1zM93 11h1v1h-1zM38 16h1v1h-1zM48 16h1v1h-1zM78 16h1v1h-1zM70 19h1v1h-1zM43 21h1v1h-1zM53 21h1v1h-1zM98 21h1v1h-1zM66 24h1v1h-1zM73 26h1v1h-1zM38 31h1v1h-1zM48 31h1v1h-1zM78 31h1v1h-1zM58 36h1v1h-1zM63 36h1v1h-1zM1 38h1v1h-1zM16 38h1v1h-1zM31 38h1v1h-1zM85 38h1v1h-1zM95 38h1v1h-1zM63 41h1v1h-1zM21 43h1v1h-1zM76 43h1v1h-1zM93 46h1v1h-1zM1 48h1v1h-1zM16 48h1v1h-1zM31 48h1v1h-1zM85 48h1v1h-1zM95 48h1v1h-1zM58 51h1v1h-1zM63 51h1v1h-1zM21 53h1v1h-1zM76 53h1v1h-1zM6 58h1v1h-1zM36 58h1v1h-1zM51 58h1v1h-1zM61 58h1v1h-1zM75 58h1v1h-1zM80 58h2v1h-2zM83 60h1v1h-1zM58 61h1v1h-1zM63 61h1v1h-1zM88 61h1v1h-1zM6 63h1v1h-1zM36 63h1v1h-1zM41 63h1v1h-1zM51 63h1v1h-1zM61 63h1v1h-1zM71 63h1v1h-1zM75 63h1v1h-1zM80 63h1v1h-1zM73 65h1v1h-1zM24 66h1v1h-1zM19 70h1v1h-1zM93 70h1v1h-1zM63 71h1v1h-1zM26 73h1v1h-1zM65 73h1v1h-1zM86 73h1v1h-1zM58 75h1v1h-1zM63 75h1v1h-1zM43 76h1v1h-1zM53 76h1v1h-1zM98 76h1v1h-1zM1 78h1v1h-1zM16 78h1v1h-1zM31 78h1v1h-1zM85 78h1v1h-1zM95 78h1v1h-1zM58 80h1v1h-1zM63 80h1v1h-1zM58 81h1v1h-1zM88 81h1v1h-1zM60 83h1v1h-1zM91 83h1v1h-1zM38 85h1v1h-1zM48 85h1v1h-1zM78 85h1v1h-1zM73 86h1v1h-1zM61 88h1v1h-1zM81 88h1v1h-1zM90 88h1v1h-1zM88 90h1v1h-1zM4 91h1v1h-1zM83 91h1v1h-1zM11 93h1v1h-1zM46 93h1v1h-1zM70 93h1v1h-1zM38 95h1v1h-1zM48 95h1v1h-1zM78 95h1v1h-1zM21 98h1v1h-1zM76 98h1v1h-1z"/><path fill="#ff4800" d="M43 1h1v1h-1zM53 1h1v1h-1zM98 1h1v1h-1zM68 2h1v1h-1zM26 4h1v1h-1zM65 4h1v1h-1zM86 4h1v1h-1zM38 6h1v1h-1zM48 6h1v1h-1zM78 6h1v1h-1zM19 11h1v1h-1zM43 16h1v1h-1zM53 16h1v1h-1zM98 16h1v1h-1zM11 19h1v1h-1zM46 19h1v1h-1zM93 21h1v1h-1zM4 26h1v1h-1zM83 26h1v1h-1zM43 31h1v1h-1zM53 31h1v1h-1zM98 31h1v1h-1zM38 36h1v1h-1zM48 36h1v1h-1zM78 36h1v1h-1zM6 38h1v1h-1zM36 38h1v1h-1zM41 38h1v1h-1zM51 38h1v1h-1zM71 38h1v1h-1zM75 38h1v1h-1zM80 38h1v1h-1zM38 41h1v1h-1zM48 41h1v1h-1zM78 41h1v1h-1zM1 43h1v1h-1zM16 43h1v1h-1zM31 43h1v1h-1zM85 43h1v1h-1zM95 43h1v1h-1zM19 46h1v1h-1zM6 48h1v1h-1zM36 48h1v1h-1zM41 48h1v1h-1zM51 48h1v1h-1zM71 48h1v1h-1zM75 48h1v1h-1zM80 48h1v1h-1zM68 50h1v1h-1zM38 51h1v1h-1zM48 51h1v1h-1zM78 51h1v1h-1zM1 53h1v1h-1zM16 53h1v1h-1zM31 53h1v1h-1zM85 53h1v1h-1zM95 53h1v1h-1zM90 58h1v1h-1zM81 63h1v1h-1zM90 63h1v1h-1zM4 65h1v1h-1zM83 65h1v1h-1zM2 68h1v1h-1zM50 68h1v1h-1zM38 71h1v1h-1zM48 71h1v1h-1zM78 71h1v1h-1zM38 75h1v1h-1zM48 75h1v1h-1zM78 75h1v1h-1zM6 78h1v1h-1zM36 78h1v1h-1zM41 78h1v1h-1zM51 78h1v1h-1zM71 78h1v1h-1zM75 78h1v1h-1zM80 78h1v1h-1zM38 80h1v1h-1zM48 80h1v1h-1zM78 80h1v1h-1zM63 81h1v1h-1zM26 83h1v1h-1zM65 83h1v1h-1zM86 83h1v1h-1zM43 85h1v1h-1zM53 85h1v1h-1zM98 85h1v1h-1zM4 86h1v1h-1zM83 86h1v1h-1zM58 90h1v1h-1zM63 90h1v1h-1zM21 93h1v1h-1zM43 95h1v1h-1zM53 95h1v1h-1zM98 95h1v1h-1zM1 98h1v1h-1zM16 98h1v1h-1zM31 98h1v1h-1zM85 98h1v1h-1zM95 98h1v1h-1z"/><path fill="#ff3800" d="M19 1h1v1h-1zM93 1h1v1h-1zM43 6h1v1h-1zM53 6h1v1h-1zM98 6h1v1h-1zM19 16h1v1h-1zM93 16h1v1h-1zM1 19h1v1h-1zM16 19h1v1h-1zM21 19h1v1h-1zM76 19h1v1h-1zM85 19h1v1h-1zM19 21h1v1h-1zM93 31h1v1h-1zM43 36h1v1h-1zM53 36h1v1h-1zM98 36h1v1h-1zM61 38h1v1h-1zM81 38h1v1h-1zM90 38h1v1h-1zM43 41h1v1h-1zM53 41h1v1h-1zM98 41h1v1h-1zM6 43h1v1h-1zM36 43h1v1h-1zM41 43h1v1h-1zM51 43h1v1h-1zM71 43h1v1h-1zM75 43h1v1h-1zM80 43h1v1h-1zM61 48h1v1h-1zM81 48h1v1h-1zM90 48h1v1h-1zM43 51h1v1h-1zM53 51h1v1h-1zM98 51h1v1h-1zM6 53h1v1h-1zM36 53h1v1h-1zM41 53h1v1h-1zM51 53h1v1h-1zM71 53h1v1h-1zM75 53h1v1h-1zM80 53h1v1h-1zM68 55h1v1h-1zM88 56h1v1h-1zM68 60h1v1h-1zM38 61h1v1h-1zM48 61h1v1h-1zM78 61h1v1h-1zM55 68h1v1h-1zM60 68h1v1h-1zM96 68h1v1h-1zM73 70h1v1h-1zM43 71h1v1h-1zM53 71h1v1h-1zM98 71h1v1h-1zM70 73h1v1h-1zM43 75h1v1h-1zM53 75h1v1h-1zM98 75h1v1h-1zM19 76h1v1h-1zM93 76h1v1h-1zM61 78h1v1h-1zM81 78h1v1h-1zM90 78h1v1h-1zM43 80h1v1h-1zM53 80h1v1h-1zM98 80h1v1h-1zM38 81h1v1h-1zM48 81h1v1h-1zM78 81h1v1h-1zM19 85h1v1h-1zM93 85h1v1h-1zM56 88h1v1h-1zM38 90h1v1h-1zM48 90h1v1h-1zM78 90h1v1h-1zM1 93h1v1h-1zM16 93h1v1h-1zM31 93h1v1h-1zM76 93h1v1h-1zM85 93h1v1h-1zM95 93h1v1h-1zM93 95h1v1h-1zM68 96h1v1h-1zM6 98h1v1h-1zM36 98h1v1h-1zM41 98h1v1h-1zM51 98h1v1h-1zM71 98h1v1h-1zM75 98h1v1h-1zM80 98h1v1h-1z"/><path fill="#ff2800" d="M70 4h1v1h-1zM73 11h1v1h-1zM31 19h1v1h-1zM41 19h1v1h-1zM71 19h1v1h-1zM95 19h1v1h-1zM19 31h1v1h-1zM19 41h1v1h-1zM93 41h1v1h-1zM61 43h1v1h-1zM81 43h1v1h-1zM90 43h1v1h-1zM73 46h1v1h-1zM93 51h1v1h-1zM61 53h1v1h-1zM81 53h1v1h-1zM90 53h1v1h-1zM58 56h1v1h-1zM63 56h1v1h-1zM56 58h1v1h-1zM66 58h1v1h-1zM43 61h1v1h-1zM53 61h1v1h-1zM98 61h1v1h-1zM56 63h1v1h-1zM58 66h1v1h-1zM88 66h1v1h-1zM86 68h1v1h-1zM91 68h1v1h-1zM4 70h1v1h-1zM19 71h1v1h-1zM93 71h1v1h-1zM11 73h1v1h-1zM46 73h1v1h-1zM93 75h1v1h-1zM93 80h1v1h-1zM43 81h1v1h-1zM53 81h1v1h-1zM98 81h1v1h-1zM68 86h1v1h-1zM66 88h1v1h-1zM43 90h1v1h-1zM53 90h1v1h-1zM98 90h1v1h-1zM68 91h1v1h-1zM41 93h1v1h-1zM51 93h1v1h-1zM71 93h1v1h-1zM75 93h1v1h-1zM80 93h1v1h-1zM19 95h1v1h-1zM61 98h1v1h-1zM81 98h1v1h-1zM90 98h1v1h-1z"/><path fill="#ff1800" d="M73 1h1v1h-1zM11 4h1v1h-1zM46 4h1v1h-1zM19 6h1v1h-1zM93 6h1v1h-1zM4 11h1v1h-1zM83 11h1v1h-1zM73 16h1v1h-1zM6 19h1v1h-1zM36 19h1v1h-1zM51 19h1v1h-1zM61 19h1v1h-1zM75 19h1v1h-1zM80 19h2v1h-2zM73 21h1v1h-1zM68 26h1v1h-1zM19 36h1v1h-1zM93 36h1v1h-1zM56 38h1v1h-1zM4 46h1v1h-1zM83 46h1v1h-1zM56 48h1v1h-1zM19 51h1v1h-1zM38 56h1v1h-1zM48 56h1v1h-1zM78 56h1v1h-1zM19 61h1v1h-1zM93 61h1v1h-1zM66 63h1v1h-1zM68 65h1v1h-1zM63 66h1v1h-1zM26 68h1v1h-1zM65 68h1v1h-1zM83 70h1v1h-1zM1 73h1v1h-1zM16 73h1v1h-1zM21 73h1v1h-1zM76 73h1v1h-1zM85 73h1v1h-1zM19 75h1v1h-1zM73 76h1v1h-1zM56 78h1v1h-1zM19 80h1v1h-1zM19 81h1v1h-1zM93 81h1v1h-1zM11 83h1v1h-1zM46 83h1v1h-1zM70 83h1v1h-1zM73 85h1v1h-1zM93 90h1v1h-1zM6 93h1v1h-1zM36 93h1v1h-1zM61 93h1v1h-1zM81 93h1v1h-1zM90 93h1v1h-1z"/><path fill="#ff0800" d="M4 1h1v1h-1zM1 4h1v1h-1zM16 4h1v1h-1zM21 4h1v1h-1zM76 4h1v1h-1zM85 4h1v1h-1zM4 16h1v1h-1zM83 16h1v1h-1zM90 19h1v1h-1zM4 21h1v1h-1zM83 21h1v1h-1zM73 31h1v1h-1zM66 38h1v1h-1zM73 41h1v1h-1zM56 43h1v1h-1zM66 48h1v1h-1zM56 53h1v1h-1zM43 56h1v1h-1zM53 56h1v1h-1zM98 56h1v1h-1zM38 66h1v1h-1zM48 66h1v1h-1zM78 66h1v1h-1zM73 71h1v1h-1zM31 73h1v1h-1zM41 73h1v1h-1zM71 73h1v1h-1zM95 73h1v1h-1zM4 76h1v1h-1zM83 76h1v1h-1zM66 78h1v1h-1zM16 83h1v1h-1zM21 83h1v1h-1zM76 83h1v1h-1zM4 85h1v1h-1zM19 90h1v1h-1zM73 95h1v1h-1zM56 98h1v1h-1z"/><path fill="#f70000" d="M83 1h1v1h-1zM31 4h1v1h-1zM95 4h1v1h-1zM73 6h1v1h-1zM4 31h1v1h-1zM83 31h1v1h-1zM73 36h1v1h-1zM66 43h1v1h-1zM73 51h1v1h-1zM66 53h1v1h-1zM73 61h1v1h-1zM43 66h1v1h-1zM53 66h1v1h-1zM98 66h1v1h-1zM70 68h1v1h-1zM68 70h1v1h-1zM6 73h1v1h-1zM36 73h1v1h-1zM51 73h1v1h-1zM61 73h1v1h-1zM75 73h1v1h-1zM80 73h1v1h-1zM73 75h1v1h-1zM73 80h1v1h-1zM1 83h1v1h-1zM31 83h1v1h-1zM85 83h1v1h-1zM95 83h1v1h-1zM83 85h1v1h-1zM4 95h1v1h-1zM83 95h1v1h-1zM66 98h1v1h-1z"/><path fill="#e70000" d="M6 4h1v1h-1zM36 4h1v1h-1zM41 4h1v1h-1zM51 4h1v1h-1zM61 4h1v1h-1zM71 4h1v1h-1zM75 4h1v1h-1zM80 4h1v1h-1zM4 6h1v1h-1zM83 6h1v1h-1zM68 11h1v1h-1zM56 19h1v1h-1zM66 19h1v1h-1zM4 36h1v1h-1zM83 36h1v1h-1zM4 41h1v1h-1zM83 41h1v1h-1zM68 46h1v1h-1zM4 51h1v1h-1zM83 51h1v1h-1zM19 56h1v1h-1zM93 56h1v1h-1zM4 61h1v1h-1zM19 66h1v1h-1zM93 66h1v1h-1zM11 68h1v1h-1zM46 68h1v1h-1zM4 71h1v1h-1zM83 71h1v1h-1zM81 73h1v1h-1zM90 73h1v1h-1zM4 75h1v1h-1zM83 75h1v1h-1zM4 80h1v1h-1zM83 80h1v1h-1zM73 81h1v1h-1zM6 83h1v1h-1zM36 83h1v1h-1zM41 83h1v1h-1zM51 83h1v1h-1zM71 83h1v1h-1zM75 83h1v1h-1zM80 83h1v1h-1zM73 90h1v1h-1zM56 93h1v1h-1zM66 93h1v1h-1z"/><path fill="#d70000" d="M68 1h1v1h-1zM81 4h1v1h-1zM90 4h1v1h-1zM68 16h1v1h-1zM68 21h1v1h-1zM83 61h1v1h-1zM1 68h1v1h-1zM16 68h1v1h-1zM21 68h1v1h-1zM76 68h1v1h-1zM85 68h1v1h-1zM95 68h1v1h-1zM68 76h1v1h-1zM4 81h1v1h-1zM83 81h1v1h-1zM61 83h1v1h-1zM81 83h1v1h-1zM90 83h1v1h-1zM68 85h1v1h-1zM4 90h1v1h-1zM83 90h1v1h-1zM68 95h1v1h-1z"/><path fill="#c70000" d="M68 31h1v1h-1zM68 41h1v1h-1zM73 56h1v1h-1zM73 66h1v1h-1zM31 68h1v1h-1zM41 68h1v1h-1zM71 68h1v1h-1zM75 68h1v1h-1zM80 68h1v1h-1zM68 71h1v1h-1zM56 73h1v1h-1zM66 73h1v1h-1zM68 75h1v1h-1zM68 80h1v1h-1z"/><path fill="#b70000" d="M56 4h1v1h-1zM68 6h1v1h-1zM68 36h1v1h-1zM68 51h1v1h-1zM4 56h1v1h-1zM83 56h1v1h-1zM68 61h1v1h-1zM6 68h1v1h-1zM36 68h1v1h-1zM51 68h1v1h-1zM61 68h1v1h-1zM81 68h1v1h-1zM68 81h1v1h-1zM56 83h1v1h-1z"/><path fill="#a70000" d="M66 4h1v1h-1zM4 66h1v1h-1zM83 66h1v1h-1zM90 68h1v1h-1zM66 83h1v1h-1zM68 90h1v1h-1z"/><path fill="#870000" d="M68 56h1v1h-1zM68 66h1v1h-1zM56 68h1v1h-1zM66 68h1v1h-1z"/></g>
<defs><linearGradient id="jetg" x1="0" y1="1" x2="0" y2="0"><stop offset="0" stop-color="#000080"/><stop offset="0.125" stop-color="#0000ff"/><stop offset="0.375" stop-color="#00ffff"/><stop offset="0.625" stop-color="#ffff00"/><stop offset="0.875" stop-color="#ff0000"/><stop offset="1" stop-color="#800000"/></linearGradient><linearGradient id="grayg" x1="0" y1="1" x2="0" y2="0"><stop offset="0" stop-color="#000"/><stop offset="0.3" stop-color="#000"/><stop offset="1" stop-color="#fff"/></linearGradient></defs>
<rect x="278.7" y="252.89999999999998" width="19.7" height="165.8" fill="url(#jetg)" stroke="#444" stroke-width="0.6"/>
<path d="M298.4 383.9h-1.5M298.4 349.1h-1.5M298.4 314.3h-1.5M298.4 279.5h-1.5" stroke="#333" stroke-width="0.7"/>
<text transform="translate(302.77 421.82) scale(1.276 1)" font-size="8.45" stroke="#262626" stroke-width="0.2" fill="#262626">0</text>
<text transform="translate(302.77 387.02) scale(1.276 1)" font-size="8.45" stroke="#262626" stroke-width="0.2" fill="#262626">0.5</text>
<text transform="translate(302.39 352.22) scale(1.276 1)" font-size="8.45" stroke="#262626" stroke-width="0.2" fill="#262626">1</text>
<text transform="translate(302.39 317.37) scale(1.276 1)" font-size="8.45" stroke="#262626" stroke-width="0.2" fill="#262626">1.5</text>
<text transform="translate(302.66 282.66) scale(1.276 1)" font-size="8.45" stroke="#262626" stroke-width="0.2" fill="#262626">2</text>
<path d="M26.74 253.2V419.2H273.4" fill="none" stroke="#999" stroke-width="0.8"/>
<text transform="translate(15.89 256.94) scale(1.390 1)" font-size="8.45" stroke="#262626" stroke-width="0.2" fill="#262626">0</text>
<text transform="translate(9.37 273.49) scale(1.390 1)" font-size="8.45" stroke="#262626" stroke-width="0.2" fill="#262626">10</text>
<text transform="translate(9.37 290.04) scale(1.390 1)" font-size="8.45" stroke="#262626" stroke-width="0.2" fill="#262626">20</text>
<text transform="translate(9.37 306.59) scale(1.390 1)" font-size="8.45" stroke="#262626" stroke-width="0.2" fill="#262626">30</text>
<text transform="translate(9.37 323.14) scale(1.390 1)" font-size="8.45" stroke="#262626" stroke-width="0.2" fill="#262626">40</text>
<text transform="translate(9.37 339.69) scale(1.390 1)" font-size="8.45" stroke="#262626" stroke-width="0.2" fill="#262626">50</text>
<text transform="translate(9.37 356.24) scale(1.390 1)" font-size="8.45" stroke="#262626" stroke-width="0.2" fill="#262626">60</text>
<text transform="translate(9.37 372.79) scale(1.390 1)" font-size="8.45" stroke="#262626" stroke-width="0.2" fill="#262626">70</text>
<text transform="translate(9.37 389.34) scale(1.390 1)" font-size="8.45" stroke="#262626" stroke-width="0.2" fill="#262626">80</text>
<text transform="translate(9.37 405.89) scale(1.390 1)" font-size="8.45" stroke="#262626" stroke-width="0.2" fill="#262626">90</text>
<text transform="translate(25.3 429.42) scale(1.339 1)" font-size="8.45" stroke="#262626" stroke-width="0.2" fill="#262626">0</text>
<text transform="translate(71.34 429.42) scale(1.339 1)" font-size="8.45" stroke="#262626" stroke-width="0.2" fill="#262626">20</text>
<text transform="translate(120.74 429.42) scale(1.339 1)" font-size="8.45" stroke="#262626" stroke-width="0.2" fill="#262626">40</text>
<text transform="translate(169.8 429.42) scale(1.339 1)" font-size="8.45" stroke="#262626" stroke-width="0.2" fill="#262626">60</text>
<text transform="translate(219.06 429.42) scale(1.339 1)" font-size="8.45" stroke="#262626" stroke-width="0.2" fill="#262626">80</text>
<text transform="translate(7.2 241.01) scale(1.322 1)" font-size="14.08" font-weight="bold" stroke="#000" stroke-width="0.25" fill="#000">C</text>
<text transform="translate(95.59 248.5) scale(1.456 1)" font-size="9.63" font-weight="bold" stroke="#000" stroke-width="0.3" fill="#000">recurrence plots</text>
<g transform="translate(422.5 253.1) scale(2.34184 1.68265)" shape-rendering="crispEdges"><path fill="#000000" d="M0 0h2v1h-2zM4 0h3v1h-3zM10 0h2v1h-2zM15 0h1v1h-1zM20 0h1v1h-1zM25 0h1v1h-1zM30 0h1v1h-1zM35 0h2v1h-2zM40 0h1v1h-1zM44 0h2v1h-2zM50 0h1v1h-1zM55 0h1v1h-1zM60 0h1v1h-1zM65 0h1v1h-1zM70 0h1v1h-1zM75 0h1v1h-1zM80 0h1v1h-1zM85 0h1v1h-1zM90 0h1v1h-1zM95 0h1v1h-1zM0 1h2v1h-2zM5 1h2v1h-2zM10 1h2v1h-2zM15 1h2v1h-2zM20 1h1v1h-1zM25 1h1v1h-1zM30 1h1v1h-1zM35 1h2v1h-2zM40 1h1v1h-1zM45 1h1v1h-1zM50 1h1v1h-1zM55 1h1v1h-1zM60 1h1v1h-1zM65 1h1v1h-1zM70 1h1v1h-1zM75 1h1v1h-1zM80 1h1v1h-1zM84 1h2v1h-2zM90 1h1v1h-1zM94 1h2v1h-2zM2 2h2v1h-2zM7 2h2v1h-2zM11 2h3v1h-3zM16 2h2v1h-2zM21 2h3v1h-3zM27 2h1v1h-1zM32 2h1v1h-1zM37 2h1v1h-1zM41 2h2v1h-2zM47 2h1v1h-1zM52 2h1v1h-1zM57 2h1v1h-1zM62 2h1v1h-1zM67 2h1v1h-1zM72 2h1v1h-1zM76 2h2v1h-2zM81 2h2v1h-2zM86 2h2v1h-2zM91 2h2v1h-2zM96 2h2v1h-2zM2 3h3v1h-3zM7 3h2v1h-2zM12 3h2v1h-2zM17 3h1v1h-1zM22 3h2v1h-2zM27 3h2v1h-2zM32 3h2v1h-2zM37 3h2v1h-2zM42 3h2v1h-2zM47 3h2v1h-2zM52 3h2v1h-2zM57 3h2v1h-2zM62 3h1v1h-1zM67 3h2v1h-2zM72 3h2v1h-2zM76 3h3v1h-3zM82 3h1v1h-1zM87 3h2v1h-2zM92 3h1v1h-1zM96 3h2v1h-2zM0 4h1v1h-1zM3 4h3v1h-3zM8 4h3v1h-3zM14 4h2v1h-2zM19 4h2v1h-2zM23 4h2v1h-2zM29 4h1v1h-1zM33 4h2v1h-2zM38 4h2v1h-2zM43 4h2v1h-2zM48 4h2v1h-2zM54 4h1v1h-1zM58 4h2v1h-2zM63 4h2v1h-2zM69 4h1v1h-1zM74 4h1v1h-1zM78 4h2v1h-2zM83 4h2v1h-2zM88 4h2v1h-2zM92 4h3v1h-3zM0 5h2v1h-2zM4 5h3v1h-3zM10 5h2v1h-2zM14 5h3v1h-3zM19 5h2v1h-2zM25 5h1v1h-1zM29 5h2v1h-2zM35 5h2v1h-2zM39 5h2v1h-2zM44 5h2v1h-2zM50 5h1v1h-1zM55 5h1v1h-1zM59 5h2v1h-2zM64 5h2v1h-2zM70 5h1v1h-1zM75 5h1v1h-1zM79 5h2v1h-2zM84 5h2v1h-2zM89 5h2v1h-2zM95 5h1v1h-1zM0 6h2v1h-2zM5 6h3v1h-3zM10 6h2v1h-2zM15 6h2v1h-2zM20 6h1v1h-1zM25 6h1v1h-1zM30 6h2v1h-2zM35 6h2v1h-2zM40 6h1v1h-1zM45 6h1v1h-1zM50 6h1v1h-1zM55 6h1v1h-1zM60 6h1v1h-1zM65 6h2v1h-2zM70 6h1v1h-1zM75 6h2v1h-2zM80 6h1v1h-1zM85 6h1v1h-1zM90 6h2v1h-2zM95 6h2v1h-2zM2 7h2v1h-2zM6 7h3v1h-3zM12 7h2v1h-2zM17 7h1v1h-1zM21 7h2v1h-2zM26 7h2v1h-2zM31 7h2v1h-2zM37 7h1v1h-1zM41 7h2v1h-2zM46 7h2v1h-2zM52 7h1v1h-1zM56 7h2v1h-2zM61 7h2v1h-2zM67 7h1v1h-1zM71 7h2v1h-2zM77 7h1v1h-1zM81 7h2v1h-2zM87 7h1v1h-1zM91 7h2v1h-2zM96 7h2v1h-2zM3 8h2v1h-2zM8 8h1v1h-1zM12 8h3v1h-3zM18 8h2v1h-2zM22 8h2v1h-2zM27 8h2v1h-2zM33 8h1v1h-1zM38 8h1v1h-1zM42 8h2v1h-2zM48 8h1v1h-1zM53 8h1v1h-1zM58 8h1v1h-1zM62 8h2v1h-2zM67 8h2v1h-2zM73 8h1v1h-1zM78 8h1v1h-1zM82 8h2v1h-2zM88 8h1v1h-1zM92 8h2v1h-2zM96 8h2v1h-2zM0 9h1v1h-1zM4 9h2v1h-2zM9 9h2v1h-2zM14 9h2v1h-2zM19 9h1v1h-1zM24 9h1v1h-1zM29 9h1v1h-1zM34 9h1v1h-1zM39 9h1v1h-1zM44 9h1v1h-1zM49 9h1v1h-1zM54 9h1v1h-1zM59 9h1v1h-1zM64 9h1v1h-1zM69 9h1v1h-1zM74 9h1v1h-1zM79 9h1v1h-1zM83 9h2v1h-2zM88 9h2v1h-2zM93 9h2v1h-2zM0 10h2v1h-2zM4 10h3v1h-3zM10 10h2v1h-2zM14 10h3v1h-3zM20 10h1v1h-1zM25 10h1v1h-1zM30 10h1v1h-1zM35 10h2v1h-2zM40 10h1v1h-1zM45 10h1v1h-1zM50 10h1v1h-1zM55 10h1v1h-1zM59 10h2v1h-2zM65 10h1v1h-1zM70 10h1v1h-1zM75 10h1v1h-1zM80 10h1v1h-1zM85 10h1v1h-1zM90 10h1v1h-1zM95 10h1v1h-1zM1 11h2v1h-2zM6 11h2v1h-2zM11 11h2v1h-2zM16 11h2v1h-2zM20 11h2v1h-2zM26 11h1v1h-1zM30 11h2v1h-2zM36 11h1v1h-1zM41 11h1v1h-1zM45 11h2v1h-2zM51 11h1v1h-1zM56 11h1v1h-1zM61 11h1v1h-1zM66 11h1v1h-1zM70 11h2v1h-2zM75 11h2v1h-2zM80 11h2v1h-2zM86 11h1v1h-1zM91 11h1v1h-1zM96 11h1v1h-1zM2 12h2v1h-2zM7 12h2v1h-2zM12 12h2v1h-2zM16 12h2v1h-2zM22 12h2v1h-2zM26 12h2v1h-2zM31 12h2v1h-2zM37 12h1v1h-1zM41 12h2v1h-2zM47 12h1v1h-1zM51 12h2v1h-2zM57 12h1v1h-1zM62 12h1v1h-1zM67 12h1v1h-1zM72 12h1v1h-1zM77 12h1v1h-1zM82 12h1v1h-1zM87 12h1v1h-1zM91 12h2v1h-2zM96 12h2v1h-2zM3 13h2v1h-2zM8 13h1v1h-1zM12 13h3v1h-3zM18 13h2v1h-2zM23 13h1v1h-1zM28 13h1v1h-1zM33 13h1v1h-1zM38 13h1v1h-1zM42 13h2v1h-2zM48 13h1v1h-1zM52 13h2v1h-2zM58 13h1v1h-1zM63 13h1v1h-1zM67 13h2v1h-2zM73 13h1v1h-1zM78 13h1v1h-1zM82 13h2v1h-2zM88 13h1v1h-1zM92 13h2v1h-2zM97 13h1v1h-1zM0 14h1v1h-1zM4 14h2v1h-2zM9 14h2v1h-2zM13 14h3v1h-3zM18 14h3v1h-3zM24 14h1v1h-1zM28 14h2v1h-2zM34 14h1v1h-1zM39 14h1v1h-1zM44 14h1v1h-1zM49 14h1v1h-1zM53 14h2v1h-2zM59 14h1v1h-1zM64 14h1v1h-1zM69 14h1v1h-1zM74 14h1v1h-1zM79 14h1v1h-1zM83 14h2v1h-2zM88 14h2v1h-2zM93 14h2v1h-2zM0 15h2v1h-2zM5 15h2v1h-2zM10 15h2v1h-2zM15 15h2v1h-2zM20 15h1v1h-1zM25 15h1v1h-1zM30 15h1v1h-1zM34 15h3v1h-3zM40 15h1v1h-1zM45 15h1v1h-1zM50 15h1v1h-1zM55 15h1v1h-1zM60 15h1v1h-1zM65 15h1v1h-1zM70 15h1v1h-1zM75 15h1v1h-1zM80 15h1v1h-1zM84 15h2v1h-2zM88 15h1v1h-1zM90 15h1v1h-1zM94 15h2v1h-2zM1 16h2v1h-2zM6 16h2v1h-2zM11 16h2v1h-2zM16 16h2v1h-2zM21 16h1v1h-1zM26 16h1v1h-1zM31 16h1v1h-1zM36 16h1v1h-1zM41 16h1v1h-1zM46 16h1v1h-1zM51 16h1v1h-1zM56 16h1v1h-1zM61 16h1v1h-1zM66 16h1v1h-1zM71 16h1v1h-1zM76 16h1v1h-1zM80 16h2v1h-2zM86 16h1v1h-1zM91 16h1v1h-1zM96 16h1v1h-1zM2 17h2v1h-2zM7 17h2v1h-2zM12 17h2v1h-2zM17 17h1v1h-1zM22 17h2v1h-2zM27 17h1v1h-1zM32 17h1v1h-1zM37 17h1v1h-1zM42 17h1v1h-1zM47 17h1v1h-1zM52 17h1v1h-1zM57 17h1v1h-1zM62 17h1v1h-1zM67 17h1v1h-1zM72 17h1v1h-1zM76 17h2v1h-2zM81 17h2v1h-2zM87 17h1v1h-1zM91 17h2v1h-2zM96 17h2v1h-2zM3 18h2v1h-2zM8 18h1v1h-1zM13 18h2v1h-2zM18 18h2v1h-2zM23 18h2v1h-2zM28 18h1v1h-1zM33 18h1v1h-1zM38 18h1v1h-1zM43 18h1v1h-1zM48 18h1v1h-1zM53 18h1v1h-1zM58 18h1v1h-1zM63 18h1v1h-1zM68 18h1v1h-1zM73 18h1v1h-1zM78 18h1v1h-1zM82 18h2v1h-2zM88 18h1v1h-1zM92 18h2v1h-2zM97 18h1v1h-1zM0 19h1v1h-1zM4 19h2v1h-2zM9 19h2v1h-2zM14 19h2v1h-2zM19 19h1v1h-1zM24 19h1v1h-1zM29 19h1v1h-1zM34 19h1v1h-1zM39 19h1v1h-1zM44 19h1v1h-1zM49 19h1v1h-1zM54 19h1v1h-1zM59 19h1v1h-1zM64 19h1v1h-1zM69 19h1v1h-1zM74 19h1v1h-1zM79 19h1v1h-1zM83 19h2v1h-2zM88 19h2v1h-2zM93 19h2v1h-2zM0 20h2v1h-2zM5 20h2v1h-2zM10 20h2v1h-2zM15 20h2v1h-2zM20 20h1v1h-1zM25 20h1v1h-1zM30 20h1v1h-1zM35 20h2v1h-2zM40 20h1v1h-1zM45 20h1v1h-1zM50 20h1v1h-1zM55 20h1v1h-1zM60 20h1v1h-1zM65 20h1v1h-1zM70 20h1v1h-1zM75 20h1v1h-1zM80 20h1v1h-1zM85 20h1v1h-1zM90 20h1v1h-1zM95 20h1v1h-1zM1 21h2v1h-2zM6 21h2v1h-2zM11 21h2v1h-2zM16 21h2v1h-2zM21 21h1v1h-1zM26 21h1v1h-1zM31 21h1v1h-1zM36 21h1v1h-1zM41 21h1v1h-1zM46 21h1v1h-1zM51 21h1v1h-1zM56 21h1v1h-1zM61 21h1v1h-1zM66 21h1v1h-1zM71 21h1v1h-1zM76 21h1v1h-1zM80 21h2v1h-2zM86 21h1v1h-1zM90 21h2v1h-2zM96 21h1v1h-1zM2 22h2v1h-2zM7 22h2v1h-2zM12 22h2v1h-2zM17 22h1v1h-1zM22 22h1v1h-1zM27 22h1v1h-1zM32 22h1v1h-1zM37 22h1v1h-1zM42 22h1v1h-1zM47 22h1v1h-1zM52 22h1v1h-1zM57 22h1v1h-1zM62 22h1v1h-1zM67 22h1v1h-1zM72 22h1v1h-1zM77 22h1v1h-1zM81 22h2v1h-2zM87 22h1v1h-1zM91 22h2v1h-2zM96 22h2v1h-2zM3 23h2v1h-2zM8 23h1v1h-1zM13 23h2v1h-2zM18 23h2v1h-2zM23 23h1v1h-1zM28 23h1v1h-1zM33 23h1v1h-1zM38 23h1v1h-1zM43 23h1v1h-1zM48 23h1v1h-1zM53 23h1v1h-1zM58 23h1v1h-1zM63 23h1v1h-1zM68 23h1v1h-1zM73 23h1v1h-1zM78 23h1v1h-1zM83 23h1v1h-1zM88 23h1v1h-1zM92 23h2v1h-2zM97 23h1v1h-1zM0 24h1v1h-1zM4 24h2v1h-2zM9 24h2v1h-2zM14 24h2v1h-2zM19 24h2v1h-2zM24 24h1v1h-1zM29 24h1v1h-1zM34 24h1v1h-1zM39 24h1v1h-1zM44 24h1v1h-1zM49 24h1v1h-1zM54 24h1v1h-1zM59 24h1v1h-1zM64 24h1v1h-1zM69 24h1v1h-1zM74 24h1v1h-1zM79 24h1v1h-1zM83 24h2v1h-2zM88 24h2v1h-2zM93 24h2v1h-2zM0 25h2v1h-2zM5 25h2v1h-2zM10 25h2v1h-2zM15 25h2v1h-2zM20 25h1v1h-1zM25 25h1v1h-1zM30 25h1v1h-1zM35 25h2v1h-2zM40 25h1v1h-1zM45 25h1v1h-1zM50 25h1v1h-1zM55 25h1v1h-1zM60 25h1v1h-1zM65 25h1v1h-1zM70 25h1v1h-1zM75 25h1v1h-1zM80 25h1v1h-1zM84 25h2v1h-2zM90 25h1v1h-1zM94 25h2v1h-2zM1 26h2v1h-2zM6 26h2v1h-2zM11 26h2v1h-2zM16 26h2v1h-2zM21 26h1v1h-1zM26 26h1v1h-1zM31 26h1v1h-1zM36 26h1v1h-1zM41 26h1v1h-1zM46 26h1v1h-1zM51 26h1v1h-1zM56 26h1v1h-1zM61 26h1v1h-1zM66 26h1v1h-1zM71 26h1v1h-1zM76 26h1v1h-1zM80 26h2v1h-2zM86 26h1v1h-1zM90 26h2v1h-2zM96 26h1v1h-1zM2 27h2v1h-2zM7 27h2v1h-2zM12 27h2v1h-2zM17 27h1v1h-1zM22 27h2v1h-2zM27 27h1v1h-1zM32 27h1v1h-1zM37 27h1v1h-1zM42 27h1v1h-1zM47 27h1v1h-1zM52 27h1v1h-1zM57 27h1v1h-1zM62 27h1v1h-1zM67 27h1v1h-1zM72 27h1v1h-1zM77 27h1v1h-1zM82 27h1v1h-1zM87 27h1v1h-1zM91 27h2v1h-2zM96 27h2v1h-2zM3 28h2v1h-2zM8 28h1v1h-1zM13 28h2v1h-2zM18 28h2v1h-2zM23 28h2v1h-2zM28 28h1v1h-1zM33 28h1v1h-1zM38 28h1v1h-1zM43 28h1v1h-1zM48 28h1v1h-1zM53 28h1v1h-1zM58 28h1v1h-1zM63 28h1v1h-1zM68 28h1v1h-1zM73 28h1v1h-1zM78 28h1v1h-1zM82 28h2v1h-2zM88 28h1v1h-1zM92 28h2v1h-2zM97 28h1v1h-1zM0 29h1v1h-1zM4 29h2v1h-2zM9 29h2v1h-2zM14 29h2v1h-2zM19 29h2v1h-2zM24 29h1v1h-1zM29 29h1v1h-1zM34 29h1v1h-1zM39 29h1v1h-1zM44 29h1v1h-1zM49 29h1v1h-1zM54 29h1v1h-1zM59 29h1v1h-1zM64 29h1v1h-1zM69 29h1v1h-1zM74 29h1v1h-1zM79 29h1v1h-1zM83 29h2v1h-2zM88 29h2v1h-2zM93 29h2v1h-2zM0 30h2v1h-2zM5 30h2v1h-2zM10 30h2v1h-2zM15 30h2v1h-2zM20 30h1v1h-1zM25 30h1v1h-1zM30 30h1v1h-1zM35 30h2v1h-2zM40 30h1v1h-1zM45 30h1v1h-1zM50 30h1v1h-1zM55 30h1v1h-1zM60 30h1v1h-1zM65 30h1v1h-1zM70 30h1v1h-1zM75 30h1v1h-1zM80 30h1v1h-1zM85 30h1v1h-1zM90 30h1v1h-1zM94 30h2v1h-2zM1 31h2v1h-2zM6 31h2v1h-2zM11 31h2v1h-2zM16 31h2v1h-2zM21 31h1v1h-1zM26 31h1v1h-1zM31 31h1v1h-1zM36 31h1v1h-1zM41 31h1v1h-1zM46 31h1v1h-1zM51 31h1v1h-1zM56 31h1v1h-1zM61 31h1v1h-1zM66 31h1v1h-1zM71 31h1v1h-1zM76 31h1v1h-1zM80 31h2v1h-2zM86 31h1v1h-1zM91 31h1v1h-1zM96 31h1v1h-1zM2 32h2v1h-2zM7 32h2v1h-2zM12 32h2v1h-2zM17 32h1v1h-1zM22 32h1v1h-1zM27 32h1v1h-1zM32 32h1v1h-1zM37 32h1v1h-1zM42 32h1v1h-1zM47 32h1v1h-1zM52 32h1v1h-1zM57 32h1v1h-1zM62 32h1v1h-1zM67 32h1v1h-1zM72 32h1v1h-1zM77 32h1v1h-1zM82 32h1v1h-1zM87 32h1v1h-1zM91 32h2v1h-2zM96 32h2v1h-2zM3 33h2v1h-2zM8 33h1v1h-1zM13 33h2v1h-2zM18 33h1v1h-1zM23 33h2v1h-2zM28 33h1v1h-1zM33 33h1v1h-1zM38 33h1v1h-1zM43 33h1v1h-1zM48 33h1v1h-1zM53 33h1v1h-1zM58 33h1v1h-1zM63 33h1v1h-1zM68 33h1v1h-1zM73 33h1v1h-1zM78 33h1v1h-1zM82 33h2v1h-2zM88 33h1v1h-1zM92 33h2v1h-2zM97 33h1v1h-1zM0 34h1v1h-1zM4 34h2v1h-2zM9 34h2v1h-2zM14 34h2v1h-2zM19 34h1v1h-1zM24 34h1v1h-1zM29 34h1v1h-1zM34 34h1v1h-1zM39 34h1v1h-1zM44 34h1v1h-1zM49 34h1v1h-1zM54 34h1v1h-1zM59 34h1v1h-1zM64 34h1v1h-1zM69 34h1v1h-1zM74 34h1v1h-1zM79 34h1v1h-1zM83 34h2v1h-2zM88 34h2v1h-2zM93 34h2v1h-2zM0 35h2v1h-2zM5 35h2v1h-2zM10 35h2v1h-2zM15 35h1v1h-1zM20 35h1v1h-1zM25 35h1v1h-1zM30 35h1v1h-1zM35 35h2v1h-2zM40 35h1v1h-1zM45 35h1v1h-1zM50 35h1v1h-1zM55 35h1v1h-1zM60 35h1v1h-1zM65 35h1v1h-1zM70 35h1v1h-1zM75 35h1v1h-1zM80 35h1v1h-1zM85 35h1v1h-1zM90 35h1v1h-1zM95 35h1v1h-1zM1 36h2v1h-2zM6 36h2v1h-2zM11 36h2v1h-2zM16 36h2v1h-2zM21 36h1v1h-1zM26 36h1v1h-1zM31 36h1v1h-1zM36 36h1v1h-1zM41 36h1v1h-1zM46 36h1v1h-1zM51 36h1v1h-1zM56 36h1v1h-1zM61 36h1v1h-1zM66 36h1v1h-1zM71 36h1v1h-1zM76 36h1v1h-1zM80 36h2v1h-2zM86 36h1v1h-1zM90 36h2v1h-2zM96 36h1v1h-1zM2 37h2v1h-2zM7 37h2v1h-2zM12 37h2v1h-2zM17 37h1v1h-1zM22 37h1v1h-1zM27 37h1v1h-1zM32 37h1v1h-1zM37 37h1v1h-1zM42 37h1v1h-1zM47 37h1v1h-1zM52 37h1v1h-1zM57 37h1v1h-1zM62 37h1v1h-1zM67 37h1v1h-1zM72 37h1v1h-1zM76 37h2v1h-2zM82 37h1v1h-1zM87 37h1v1h-1zM91 37h2v1h-2zM96 37h2v1h-2zM3 38h2v1h-2zM8 38h1v1h-1zM13 38h2v1h-2zM18 38h2v1h-2zM23 38h2v1h-2zM28 38h1v1h-1zM33 38h1v1h-1zM38 38h1v1h-1zM43 38h1v1h-1zM48 38h1v1h-1zM53 38h1v1h-1zM58 38h1v1h-1zM63 38h1v1h-1zM68 38h1v1h-1zM73 38h1v1h-1zM78 38h1v1h-1zM82 38h2v1h-2zM88 38h1v1h-1zM92 38h2v1h-2zM97 38h1v1h-1zM0 39h1v1h-1zM4 39h2v1h-2zM9 39h2v1h-2zM14 39h2v1h-2zM19 39h1v1h-1zM24 39h1v1h-1zM29 39h2v1h-2zM34 39h1v1h-1zM39 39h1v1h-1zM44 39h1v1h-1zM49 39h1v1h-1zM54 39h1v1h-1zM59 39h1v1h-1zM64 39h1v1h-1zM69 39h1v1h-1zM74 39h1v1h-1zM79 39h1v1h-1zM83 39h2v1h-2zM88 39h2v1h-2zM93 39h2v1h-2zM0 40h2v1h-2zM5 40h2v1h-2zM10 40h2v1h-2zM15 40h1v1h-1zM20 40h1v1h-1zM25 40h1v1h-1zM30 40h1v1h-1zM35 40h2v1h-2zM40 40h1v1h-1zM45 40h1v1h-1zM50 40h1v1h-1zM55 40h1v1h-1zM60 40h1v1h-1zM65 40h1v1h-1zM70 40h1v1h-1zM75 40h1v1h-1zM80 40h1v1h-1zM85 40h1v1h-1zM90 40h1v1h-1zM95 40h1v1h-1zM1 41h2v1h-2zM6 41h2v1h-2zM11 41h2v1h-2zM16 41h2v1h-2zM21 41h1v1h-1zM26 41h1v1h-1zM31 41h1v1h-1zM36 41h1v1h-1zM41 41h1v1h-1zM46 41h1v1h-1zM51 41h1v1h-1zM56 41h1v1h-1zM61 41h1v1h-1zM66 41h1v1h-1zM71 41h1v1h-1zM76 41h1v1h-1zM80 41h2v1h-2zM86 41h1v1h-1zM91 41h1v1h-1zM96 41h1v1h-1zM2 42h2v1h-2zM7 42h2v1h-2zM12 42h2v1h-2zM17 42h1v1h-1zM22 42h2v1h-2zM27 42h1v1h-1zM32 42h1v1h-1zM37 42h1v1h-1zM42 42h1v1h-1zM47 42h1v1h-1zM52 42h1v1h-1zM57 42h1v1h-1zM62 42h1v1h-1zM67 42h1v1h-1zM72 42h1v1h-1zM77 42h1v1h-1zM82 42h1v1h-1zM87 42h1v1h-1zM92 42h1v1h-1zM96 42h2v1h-2zM3 43h2v1h-2zM8 43h1v1h-1zM13 43h2v1h-2zM18 43h2v1h-2zM23 43h1v1h-1zM28 43h1v1h-1zM33 43h1v1h-1zM38 43h1v1h-1zM43 43h1v1h-1zM48 43h1v1h-1zM53 43h1v1h-1zM58 43h1v1h-1zM63 43h1v1h-1zM68 43h1v1h-1zM73 43h1v1h-1zM78 43h1v1h-1zM83 43h1v1h-1zM88 43h1v1h-1zM92 43h2v1h-2zM97 43h1v1h-1zM0 44h1v1h-1zM4 44h2v1h-2zM9 44h2v1h-2zM14 44h2v1h-2zM19 44h1v1h-1zM24 44h1v1h-1zM29 44h1v1h-1zM34 44h1v1h-1zM39 44h1v1h-1zM44 44h1v1h-1zM49 44h1v1h-1zM54 44h1v1h-1zM59 44h1v1h-1zM64 44h1v1h-1zM69 44h1v1h-1zM74 44h1v1h-1zM79 44h1v1h-1zM84 44h1v1h-1zM88 44h2v1h-2zM93 44h2v1h-2zM0 45h2v1h-2zM5 45h2v1h-2zM10 45h2v1h-2zM15 45h2v1h-2zM20 45h1v1h-1zM25 45h1v1h-1zM30 45h1v1h-1zM35 45h2v1h-2zM40 45h1v1h-1zM45 45h1v1h-1zM50 45h1v1h-1zM55 45h1v1h-1zM60 45h1v1h-1zM65 45h1v1h-1zM70 45h1v1h-1zM75 45h1v1h-1zM80 45h1v1h-1zM84 45h2v1h-2zM90 45h1v1h-1zM95 45h1v1h-1zM1 46h2v1h-2zM6 46h2v1h-2zM11 46h2v1h-2zM16 46h2v1h-2zM21 46h1v1h-1zM26 46h1v1h-1zM31 46h1v1h-1zM36 46h1v1h-1zM41 46h1v1h-1zM46 46h1v1h-1zM51 46h1v1h-1zM56 46h1v1h-1zM61 46h1v1h-1zM66 46h1v1h-1zM71 46h1v1h-1zM76 46h1v1h-1zM80 46h2v1h-2zM86 46h1v1h-1zM91 46h1v1h-1zM96 46h1v1h-1zM2 47h2v1h-2zM7 47h2v1h-2zM12 47h2v1h-2zM17 47h1v1h-1zM22 47h2v1h-2zM27 47h1v1h-1zM32 47h1v1h-1zM37 47h1v1h-1zM42 47h1v1h-1zM47 47h1v1h-1zM52 47h1v1h-1zM57 47h1v1h-1zM62 47h1v1h-1zM67 47h1v1h-1zM72 47h1v1h-1zM77 47h1v1h-1zM82 47h1v1h-1zM87 47h1v1h-1zM91 47h2v1h-2zM96 47h2v1h-2zM3 48h2v1h-2zM8 48h1v1h-1zM13 48h2v1h-2zM18 48h2v1h-2zM23 48h1v1h-1zM28 48h1v1h-1zM33 48h1v1h-1zM38 48h1v1h-1zM43 48h1v1h-1zM48 48h1v1h-1zM53 48h1v1h-1zM58 48h1v1h-1zM63 48h1v1h-1zM68 48h1v1h-1zM73 48h1v1h-1zM78 48h1v1h-1zM82 48h2v1h-2zM88 48h1v1h-1zM92 48h2v1h-2zM97 48h1v1h-1zM0 49h1v1h-1zM4 49h2v1h-2zM9 49h2v1h-2zM14 49h2v1h-2zM19 49h1v1h-1zM24 49h1v1h-1zM29 49h1v1h-1zM34 49h1v1h-1zM39 49h1v1h-1zM44 49h1v1h-1zM49 49h1v1h-1zM54 49h1v1h-1zM59 49h1v1h-1zM64 49h1v1h-1zM69 49h1v1h-1zM74 49h1v1h-1zM79 49h1v1h-1zM83 49h2v1h-2zM88 49h2v1h-2zM93 49h2v1h-2zM0 50h2v1h-2zM5 50h2v1h-2zM10 50h2v1h-2zM15 50h2v1h-2zM20 50h1v1h-1zM25 50h1v1h-1zM30 50h1v1h-1zM35 50h1v1h-1zM40 50h1v1h-1zM45 50h1v1h-1zM50 50h1v1h-1zM55 50h1v1h-1zM60 50h1v1h-1zM65 50h1v1h-1zM70 50h1v1h-1zM75 50h1v1h-1zM80 50h1v1h-1zM85 50h1v1h-1zM90 50h1v1h-1zM95 50h1v1h-1zM1 51h2v1h-2zM6 51h2v1h-2zM11 51h2v1h-2zM16 51h2v1h-2zM21 51h1v1h-1zM26 51h1v1h-1zM31 51h1v1h-1zM36 51h1v1h-1zM41 51h1v1h-1zM46 51h1v1h-1zM51 51h1v1h-1zM56 51h1v1h-1zM61 51h1v1h-1zM66 51h1v1h-1zM71 51h1v1h-1zM76 51h1v1h-1zM80 51h2v1h-2zM86 51h1v1h-1zM91 51h1v1h-1zM96 51h1v1h-1zM2 52h2v1h-2zM7 52h2v1h-2zM12 52h2v1h-2zM17 52h1v1h-1zM22 52h1v1h-1zM27 52h1v1h-1zM32 52h1v1h-1zM37 52h1v1h-1zM42 52h1v1h-1zM47 52h1v1h-1zM52 52h1v1h-1zM57 52h1v1h-1zM62 52h1v1h-1zM67 52h1v1h-1zM72 52h1v1h-1zM77 52h1v1h-1zM81 52h2v1h-2zM87 52h1v1h-1zM91 52h2v1h-2zM96 52h2v1h-2zM3 53h2v1h-2zM8 53h1v1h-1zM13 53h2v1h-2zM18 53h2v1h-2zM23 53h1v1h-1zM28 53h1v1h-1zM33 53h1v1h-1zM38 53h1v1h-1zM43 53h1v1h-1zM48 53h1v1h-1zM53 53h1v1h-1zM58 53h1v1h-1zM63 53h1v1h-1zM68 53h1v1h-1zM73 53h1v1h-1zM78 53h1v1h-1zM83 53h1v1h-1zM88 53h1v1h-1zM92 53h2v1h-2zM97 53h1v1h-1zM0 54h1v1h-1zM4 54h2v1h-2zM9 54h2v1h-2zM14 54h2v1h-2zM19 54h1v1h-1zM24 54h1v1h-1zM29 54h1v1h-1zM34 54h1v1h-1zM39 54h1v1h-1zM44 54h1v1h-1zM49 54h1v1h-1zM54 54h1v1h-1zM59 54h1v1h-1zM64 54h1v1h-1zM69 54h1v1h-1zM74 54h1v1h-1zM79 54h1v1h-1zM83 54h2v1h-2zM88 54h2v1h-2zM93 54h2v1h-2zM0 55h2v1h-2zM5 55h2v1h-2zM10 55h2v1h-2zM15 55h2v1h-2zM20 55h1v1h-1zM25 55h1v1h-1zM30 55h1v1h-1zM35 55h2v1h-2zM40 55h1v1h-1zM45 55h1v1h-1zM50 55h1v1h-1zM55 55h1v1h-1zM60 55h1v1h-1zM65 55h1v1h-1zM70 55h1v1h-1zM75 55h1v1h-1zM80 55h1v1h-1zM85 55h1v1h-1zM90 55h1v1h-1zM95 55h1v1h-1zM1 56h2v1h-2zM6 56h2v1h-2zM11 56h2v1h-2zM16 56h2v1h-2zM21 56h1v1h-1zM26 56h1v1h-1zM31 56h1v1h-1zM36 56h1v1h-1zM41 56h1v1h-1zM46 56h1v1h-1zM51 56h1v1h-1zM56 56h1v1h-1zM61 56h1v1h-1zM66 56h1v1h-1zM71 56h1v1h-1zM76 56h1v1h-1zM80 56h2v1h-2zM86 56h1v1h-1zM91 56h1v1h-1zM96 56h1v1h-1zM2 57h2v1h-2zM7 57h2v1h-2zM12 57h2v1h-2zM17 57h1v1h-1zM22 57h2v1h-2zM27 57h1v1h-1zM32 57h1v1h-1zM37 57h1v1h-1zM42 57h1v1h-1zM47 57h1v1h-1zM52 57h1v1h-1zM57 57h1v1h-1zM62 57h1v1h-1zM67 57h1v1h-1zM72 57h1v1h-1zM76 57h2v1h-2zM82 57h1v1h-1zM87 57h1v1h-1zM91 57h2v1h-2zM96 57h2v1h-2zM3 58h2v1h-2zM8 58h1v1h-1zM13 58h2v1h-2zM18 58h2v1h-2zM23 58h1v1h-1zM28 58h1v1h-1zM33 58h1v1h-1zM38 58h1v1h-1zM43 58h1v1h-1zM48 58h1v1h-1zM53 58h1v1h-1zM58 58h1v1h-1zM63 58h1v1h-1zM68 58h1v1h-1zM73 58h1v1h-1zM78 58h1v1h-1zM82 58h2v1h-2zM88 58h1v1h-1zM92 58h2v1h-2zM97 58h1v1h-1zM0 59h1v1h-1zM4 59h2v1h-2zM9 59h2v1h-2zM14 59h2v1h-2zM19 59h1v1h-1zM24 59h1v1h-1zM29 59h1v1h-1zM34 59h1v1h-1zM39 59h1v1h-1zM44 59h1v1h-1zM49 59h1v1h-1zM54 59h1v1h-1zM59 59h1v1h-1zM64 59h1v1h-1zM69 59h1v1h-1zM74 59h1v1h-1zM79 59h1v1h-1zM83 59h2v1h-2zM88 59h2v1h-2zM93 59h2v1h-2zM0 60h2v1h-2zM5 60h2v1h-2zM10 60h2v1h-2zM15 60h1v1h-1zM20 60h1v1h-1zM25 60h1v1h-1zM30 60h1v1h-1zM35 60h1v1h-1zM40 60h1v1h-1zM45 60h1v1h-1zM50 60h1v1h-1zM55 60h1v1h-1zM60 60h1v1h-1zM65 60h1v1h-1zM70 60h1v1h-1zM75 60h1v1h-1zM80 60h1v1h-1zM84 60h2v1h-2zM90 60h1v1h-1zM95 60h1v1h-1zM1 61h2v1h-2zM6 61h2v1h-2zM11 61h2v1h-2zM16 61h2v1h-2zM21 61h1v1h-1zM26 61h1v1h-1zM31 61h1v1h-1zM36 61h1v1h-1zM41 61h1v1h-1zM46 61h1v1h-1zM51 61h1v1h-1zM56 61h1v1h-1zM61 61h1v1h-1zM66 61h1v1h-1zM71 61h1v1h-1zM76 61h1v1h-1zM80 61h2v1h-2zM86 61h1v1h-1zM91 61h1v1h-1zM96 61h1v1h-1zM2 62h2v1h-2zM7 62h2v1h-2zM12 62h2v1h-2zM17 62h1v1h-1zM22 62h2v1h-2zM27 62h1v1h-1zM32 62h1v1h-1zM37 62h1v1h-1zM42 62h1v1h-1zM47 62h1v1h-1zM52 62h1v1h-1zM57 62h1v1h-1zM62 62h1v1h-1zM67 62h1v1h-1zM72 62h1v1h-1zM77 62h1v1h-1zM82 62h1v1h-1zM87 62h1v1h-1zM92 62h1v1h-1zM96 62h2v1h-2zM3 63h2v1h-2zM8 63h1v1h-1zM13 63h2v1h-2zM18 63h2v1h-2zM23 63h1v1h-1zM28 63h1v1h-1zM33 63h1v1h-1zM38 63h1v1h-1zM43 63h1v1h-1zM48 63h1v1h-1zM53 63h1v1h-1zM58 63h1v1h-1zM63 63h1v1h-1zM68 63h1v1h-1zM73 63h1v1h-1zM78 63h1v1h-1zM82 63h2v1h-2zM88 63h1v1h-1zM92 63h2v1h-2zM97 63h1v1h-1zM0 64h1v1h-1zM4 64h2v1h-2zM9 64h2v1h-2zM14 64h2v1h-2zM19 64h2v1h-2zM24 64h1v1h-1zM29 64h1v1h-1zM34 64h1v1h-1zM39 64h1v1h-1zM44 64h1v1h-1zM49 64h1v1h-1zM54 64h1v1h-1zM59 64h1v1h-1zM64 64h1v1h-1zM69 64h1v1h-1zM74 64h1v1h-1zM79 64h1v1h-1zM83 64h2v1h-2zM88 64h2v1h-2zM93 64h2v1h-2zM0 65h2v1h-2zM5 65h2v1h-2zM10 65h2v1h-2zM15 65h1v1h-1zM20 65h1v1h-1zM25 65h1v1h-1zM30 65h1v1h-1zM35 65h2v1h-2zM40 65h1v1h-1zM45 65h1v1h-1zM50 65h1v1h-1zM55 65h1v1h-1zM60 65h1v1h-1zM65 65h1v1h-1zM70 65h1v1h-1zM75 65h1v1h-1zM80 65h1v1h-1zM84 65h2v1h-2zM90 65h1v1h-1zM95 65h1v1h-1zM1 66h2v1h-2zM6 66h2v1h-2zM11 66h2v1h-2zM16 66h2v1h-2zM21 66h1v1h-1zM26 66h1v1h-1zM31 66h1v1h-1zM36 66h1v1h-1zM41 66h1v1h-1zM46 66h1v1h-1zM51 66h1v1h-1zM56 66h1v1h-1zM61 66h1v1h-1zM66 66h1v1h-1zM71 66h1v1h-1zM76 66h1v1h-1zM80 66h2v1h-2zM86 66h1v1h-1zM91 66h1v1h-1zM95 66h2v1h-2zM2 67h2v1h-2zM7 67h2v1h-2zM12 67h2v1h-2zM17 67h1v1h-1zM22 67h2v1h-2zM27 67h1v1h-1zM32 67h1v1h-1zM37 67h1v1h-1zM42 67h1v1h-1zM47 67h1v1h-1zM52 67h1v1h-1zM57 67h1v1h-1zM62 67h1v1h-1zM67 67h1v1h-1zM72 67h1v1h-1zM76 67h2v1h-2zM81 67h2v1h-2zM87 67h1v1h-1zM91 67h2v1h-2zM96 67h2v1h-2zM3 68h2v1h-2zM8 68h1v1h-1zM13 68h2v1h-2zM18 68h2v1h-2zM23 68h2v1h-2zM28 68h1v1h-1zM33 68h1v1h-1zM38 68h1v1h-1zM43 68h1v1h-1zM48 68h1v1h-1zM53 68h1v1h-1zM58 68h1v1h-1zM63 68h1v1h-1zM68 68h1v1h-1zM73 68h1v1h-1zM78 68h1v1h-1zM82 68h2v1h-2zM88 68h1v1h-1zM92 68h2v1h-2zM97 68h1v1h-1zM0 69h1v1h-1zM4 69h2v1h-2zM9 69h2v1h-2zM14 69h2v1h-2zM19 69h2v1h-2zM24 69h1v1h-1zM29 69h1v1h-1zM34 69h1v1h-1zM39 69h1v1h-1zM44 69h1v1h-1zM49 69h1v1h-1zM54 69h1v1h-1zM59 69h1v1h-1zM64 69h1v1h-1zM69 69h1v1h-1zM74 69h1v1h-1zM79 69h1v1h-1zM83 69h2v1h-2zM88 69h2v1h-2zM93 69h2v1h-2zM0 70h2v1h-2zM5 70h2v1h-2zM10 70h2v1h-2zM15 70h2v1h-2zM20 70h1v1h-1zM25 70h1v1h-1zM30 70h1v1h-1zM35 70h2v1h-2zM40 70h1v1h-1zM45 70h1v1h-1zM50 70h1v1h-1zM55 70h1v1h-1zM60 70h1v1h-1zM65 70h1v1h-1zM70 70h1v1h-1zM75 70h1v1h-1zM80 70h1v1h-1zM85 70h1v1h-1zM90 70h1v1h-1zM94 70h2v1h-2zM1 71h2v1h-2zM6 71h2v1h-2zM11 71h2v1h-2zM16 71h2v1h-2zM21 71h1v1h-1zM26 71h1v1h-1zM31 71h1v1h-1zM36 71h1v1h-1zM41 71h1v1h-1zM46 71h1v1h-1zM51 71h1v1h-1zM56 71h1v1h-1zM61 71h1v1h-1zM66 71h1v1h-1zM71 71h1v1h-1zM76 71h1v1h-1zM80 71h2v1h-2zM86 71h1v1h-1zM91 71h1v1h-1zM96 71h1v1h-1zM2 72h2v1h-2zM7 72h2v1h-2zM12 72h2v1h-2zM17 72h1v1h-1zM22 72h2v1h-2zM27 72h1v1h-1zM32 72h1v1h-1zM37 72h1v1h-1zM42 72h1v1h-1zM47 72h1v1h-1zM52 72h1v1h-1zM57 72h1v1h-1zM62 72h1v1h-1zM67 72h1v1h-1zM72 72h1v1h-1zM77 72h1v1h-1zM82 72h1v1h-1zM87 72h1v1h-1zM91 72h2v1h-2zM96 72h2v1h-2zM3 73h2v1h-2zM8 73h1v1h-1zM13 73h2v1h-2zM18 73h2v1h-2zM23 73h1v1h-1zM28 73h1v1h-1zM33 73h1v1h-1zM38 73h1v1h-1zM43 73h1v1h-1zM48 73h1v1h-1zM53 73h1v1h-1zM58 73h1v1h-1zM63 73h1v1h-1zM68 73h1v1h-1zM73 73h1v1h-1zM78 73h1v1h-1zM82 73h2v1h-2zM88 73h1v1h-1zM92 73h2v1h-2zM97 73h1v1h-1zM0 74h1v1h-1zM4 74h2v1h-2zM9 74h2v1h-2zM14 74h2v1h-2zM19 74h2v1h-2zM24 74h1v1h-1zM29 74h1v1h-1zM34 74h1v1h-1zM39 74h1v1h-1zM44 74h1v1h-1zM49 74h1v1h-1zM54 74h1v1h-1zM59 74h1v1h-1zM64 74h1v1h-1zM69 74h1v1h-1zM74 74h1v1h-1zM79 74h1v1h-1zM83 74h2v1h-2zM88 74h2v1h-2zM93 74h2v1h-2zM0 75h2v1h-2zM5 75h2v1h-2zM10 75h2v1h-2zM15 75h2v1h-2zM20 75h1v1h-1zM25 75h1v1h-1zM30 75h1v1h-1zM35 75h2v1h-2zM40 75h1v1h-1zM45 75h1v1h-1zM50 75h1v1h-1zM55 75h1v1h-1zM60 75h1v1h-1zM65 75h1v1h-1zM70 75h1v1h-1zM75 75h1v1h-1zM80 75h1v1h-1zM84 75h2v1h-2zM90 75h1v1h-1zM95 75h1v1h-1zM1 76h2v1h-2zM6 76h2v1h-2zM11 76h2v1h-2zM16 76h2v1h-2zM21 76h1v1h-1zM26 76h1v1h-1zM31 76h1v1h-1zM36 76h1v1h-1zM41 76h1v1h-1zM46 76h1v1h-1zM51 76h1v1h-1zM56 76h1v1h-1zM61 76h1v1h-1zM66 76h1v1h-1zM71 76h1v1h-1zM76 76h1v1h-1zM80 76h2v1h-2zM86 76h1v1h-1zM91 76h1v1h-1zM96 76h1v1h-1zM2 77h2v1h-2zM7 77h2v1h-2zM12 77h2v1h-2zM17 77h1v1h-1zM22 77h1v1h-1zM27 77h1v1h-1zM32 77h1v1h-1zM37 77h1v1h-1zM42 77h1v1h-1zM47 77h1v1h-1zM52 77h1v1h-1zM57 77h1v1h-1zM62 77h1v1h-1zM67 77h1v1h-1zM72 77h1v1h-1zM76 77h2v1h-2zM81 77h2v1h-2zM87 77h1v1h-1zM91 77h2v1h-2zM96 77h2v1h-2zM3 78h2v1h-2zM8 78h1v1h-1zM13 78h2v1h-2zM18 78h2v1h-2zM23 78h1v1h-1zM28 78h1v1h-1zM33 78h1v1h-1zM38 78h1v1h-1zM43 78h1v1h-1zM48 78h1v1h-1zM53 78h1v1h-1zM58 78h1v1h-1zM63 78h1v1h-1zM68 78h1v1h-1zM73 78h1v1h-1zM78 78h1v1h-1zM83 78h1v1h-1zM88 78h1v1h-1zM92 78h2v1h-2zM97 78h1v1h-1zM0 79h1v1h-1zM4 79h2v1h-2zM9 79h2v1h-2zM14 79h2v1h-2zM19 79h1v1h-1zM24 79h1v1h-1zM29 79h1v1h-1zM34 79h1v1h-1zM39 79h1v1h-1zM44 79h1v1h-1zM49 79h1v1h-1zM54 79h1v1h-1zM59 79h1v1h-1zM64 79h1v1h-1zM69 79h1v1h-1zM74 79h1v1h-1zM79 79h1v1h-1zM83 79h2v1h-2zM88 79h2v1h-2zM93 79h2v1h-2zM0 80h2v1h-2zM5 80h2v1h-2zM10 80h2v1h-2zM15 80h2v1h-2zM20 80h1v1h-1zM25 80h1v1h-1zM30 80h1v1h-1zM35 80h2v1h-2zM40 80h1v1h-1zM45 80h1v1h-1zM50 80h1v1h-1zM55 80h2v1h-2zM60 80h2v1h-2zM65 80h1v1h-1zM70 80h1v1h-1zM75 80h1v1h-1zM80 80h1v1h-1zM85 80h1v1h-1zM90 80h1v1h-1zM95 80h1v1h-1zM1 81h2v1h-2zM6 81h2v1h-2zM11 81h2v1h-2zM16 81h2v1h-2zM21 81h1v1h-1zM26 81h1v1h-1zM31 81h1v1h-1zM36 81h1v1h-1zM41 81h1v1h-1zM46 81h1v1h-1zM51 81h1v1h-1zM56 81h1v1h-1zM61 81h1v1h-1zM66 81h1v1h-1zM71 81h1v1h-1zM76 81h1v1h-1zM80 81h2v1h-2zM86 81h1v1h-1zM91 81h1v1h-1zM95 81h2v1h-2zM2 82h2v1h-2zM7 82h2v1h-2zM12 82h2v1h-2zM17 82h1v1h-1zM22 82h2v1h-2zM27 82h1v1h-1zM32 82h1v1h-1zM37 82h1v1h-1zM42 82h1v1h-1zM47 82h1v1h-1zM52 82h1v1h-1zM57 82h1v1h-1zM62 82h1v1h-1zM67 82h1v1h-1zM72 82h1v1h-1zM76 82h2v1h-2zM81 82h2v1h-2zM87 82h1v1h-1zM91 82h2v1h-2zM96 82h2v1h-2zM3 83h2v1h-2zM8 83h1v1h-1zM13 83h2v1h-2zM18 83h2v1h-2zM23 83h1v1h-1zM28 83h1v1h-1zM33 83h1v1h-1zM38 83h1v1h-1zM43 83h1v1h-1zM48 83h1v1h-1zM53 83h1v1h-1zM58 83h1v1h-1zM63 83h1v1h-1zM68 83h1v1h-1zM73 83h1v1h-1zM78 83h1v1h-1zM82 83h2v1h-2zM88 83h1v1h-1zM92 83h2v1h-2zM97 83h1v1h-1zM0 84h1v1h-1zM4 84h2v1h-2zM9 84h2v1h-2zM14 84h2v1h-2zM19 84h2v1h-2zM24 84h1v1h-1zM29 84h1v1h-1zM34 84h1v1h-1zM39 84h1v1h-1zM44 84h1v1h-1zM49 84h1v1h-1zM54 84h1v1h-1zM59 84h1v1h-1zM64 84h1v1h-1zM69 84h1v1h-1zM74 84h1v1h-1zM79 84h1v1h-1zM83 84h2v1h-2zM88 84h2v1h-2zM93 84h2v1h-2zM0 85h2v1h-2zM5 85h2v1h-2zM10 85h2v1h-2zM15 85h1v1h-1zM20 85h1v1h-1zM25 85h1v1h-1zM30 85h1v1h-1zM35 85h2v1h-2zM40 85h1v1h-1zM45 85h1v1h-1zM50 85h1v1h-1zM55 85h1v1h-1zM60 85h1v1h-1zM65 85h1v1h-1zM70 85h1v1h-1zM75 85h1v1h-1zM80 85h1v1h-1zM84 85h2v1h-2zM90 85h1v1h-1zM95 85h1v1h-1zM1 86h2v1h-2zM6 86h2v1h-2zM11 86h2v1h-2zM16 86h2v1h-2zM21 86h1v1h-1zM26 86h1v1h-1zM31 86h1v1h-1zM36 86h1v1h-1zM41 86h1v1h-1zM46 86h1v1h-1zM51 86h1v1h-1zM56 86h1v1h-1zM61 86h1v1h-1zM66 86h1v1h-1zM71 86h1v1h-1zM76 86h1v1h-1zM80 86h2v1h-2zM86 86h1v1h-1zM90 86h2v1h-2zM96 86h1v1h-1zM2 87h2v1h-2zM7 87h2v1h-2zM12 87h2v1h-2zM17 87h1v1h-1zM22 87h1v1h-1zM27 87h1v1h-1zM32 87h1v1h-1zM37 87h1v1h-1zM42 87h1v1h-1zM47 87h1v1h-1zM52 87h1v1h-1zM57 87h1v1h-1zM62 87h1v1h-1zM67 87h1v1h-1zM72 87h1v1h-1zM76 87h2v1h-2zM81 87h2v1h-2zM87 87h1v1h-1zM91 87h2v1h-2zM96 87h2v1h-2zM3 88h2v1h-2zM8 88h1v1h-1zM13 88h3v1h-3zM18 88h2v1h-2zM23 88h2v1h-2zM28 88h1v1h-1zM33 88h1v1h-1zM38 88h1v1h-1zM43 88h1v1h-1zM48 88h2v1h-2zM53 88h1v1h-1zM58 88h1v1h-1zM63 88h1v1h-1zM68 88h1v1h-1zM73 88h2v1h-2zM78 88h1v1h-1zM82 88h2v1h-2zM88 88h1v1h-1zM92 88h3v1h-3zM97 88h1v1h-1zM0 89h1v1h-1zM4 89h2v1h-2zM9 89h2v1h-2zM14 89h2v1h-2zM19 89h2v1h-2zM24 89h1v1h-1zM29 89h1v1h-1zM34 89h1v1h-1zM39 89h1v1h-1zM44 89h1v1h-1zM49 89h1v1h-1zM54 89h1v1h-1zM59 89h1v1h-1zM64 89h1v1h-1zM69 89h1v1h-1zM74 89h1v1h-1zM79 89h1v1h-1zM83 89h2v1h-2zM88 89h2v1h-2zM93 89h2v1h-2zM0 90h2v1h-2zM5 90h2v1h-2zM10 90h2v1h-2zM15 90h2v1h-2zM20 90h1v1h-1zM25 90h1v1h-1zM30 90h1v1h-1zM35 90h2v1h-2zM40 90h1v1h-1zM45 90h1v1h-1zM50 90h1v1h-1zM55 90h1v1h-1zM60 90h1v1h-1zM65 90h1v1h-1zM70 90h1v1h-1zM75 90h1v1h-1zM80 90h1v1h-1zM85 90h1v1h-1zM90 90h1v1h-1zM95 90h1v1h-1zM1 91h2v1h-2zM6 91h2v1h-2zM11 91h2v1h-2zM16 91h2v1h-2zM21 91h1v1h-1zM26 91h1v1h-1zM31 91h1v1h-1zM36 91h1v1h-1zM41 91h1v1h-1zM46 91h1v1h-1zM51 91h1v1h-1zM56 91h1v1h-1zM61 91h1v1h-1zM66 91h1v1h-1zM71 91h1v1h-1zM76 91h1v1h-1zM80 91h2v1h-2zM86 91h1v1h-1zM91 91h1v1h-1zM96 91h1v1h-1zM2 92h3v1h-3zM7 92h2v1h-2zM12 92h2v1h-2zM17 92h1v1h-1zM22 92h2v1h-2zM27 92h1v1h-1zM32 92h2v1h-2zM37 92h1v1h-1zM42 92h1v1h-1zM47 92h1v1h-1zM52 92h1v1h-1zM57 92h1v1h-1zM62 92h1v1h-1zM67 92h1v1h-1zM72 92h1v1h-1zM76 92h2v1h-2zM81 92h2v1h-2zM87 92h1v1h-1zM91 92h2v1h-2zM96 92h2v1h-2zM3 93h2v1h-2zM8 93h1v1h-1zM13 93h2v1h-2zM18 93h2v1h-2zM23 93h2v1h-2zM28 93h1v1h-1zM33 93h1v1h-1zM38 93h1v1h-1zM43 93h1v1h-1zM48 93h1v1h-1zM53 93h1v1h-1zM58 93h1v1h-1zM63 93h1v1h-1zM68 93h2v1h-2zM73 93h1v1h-1zM78 93h1v1h-1zM83 93h1v1h-1zM88 93h1v1h-1zM92 93h2v1h-2zM97 93h1v1h-1zM0 94h1v1h-1zM4 94h2v1h-2zM9 94h2v1h-2zM14 94h2v1h-2zM19 94h1v1h-1zM24 94h1v1h-1zM29 94h1v1h-1zM34 94h1v1h-1zM39 94h1v1h-1zM44 94h1v1h-1zM49 94h1v1h-1zM54 94h1v1h-1zM59 94h1v1h-1zM64 94h1v1h-1zM69 94h1v1h-1zM74 94h1v1h-1zM79 94h1v1h-1zM83 94h2v1h-2zM88 94h2v1h-2zM93 94h2v1h-2zM0 95h2v1h-2zM5 95h2v1h-2zM10 95h2v1h-2zM15 95h2v1h-2zM20 95h1v1h-1zM25 95h1v1h-1zM30 95h1v1h-1zM35 95h1v1h-1zM40 95h1v1h-1zM45 95h1v1h-1zM50 95h1v1h-1zM55 95h1v1h-1zM60 95h1v1h-1zM65 95h1v1h-1zM70 95h1v1h-1zM75 95h1v1h-1zM80 95h1v1h-1zM84 95h2v1h-2zM90 95h1v1h-1zM94 95h2v1h-2zM1 96h2v1h-2zM6 96h3v1h-3zM11 96h2v1h-2zM16 96h2v1h-2zM21 96h1v1h-1zM26 96h2v1h-2zM31 96h2v1h-2zM36 96h1v1h-1zM41 96h1v1h-1zM46 96h1v1h-1zM51 96h1v1h-1zM56 96h1v1h-1zM61 96h1v1h-1zM66 96h1v1h-1zM71 96h1v1h-1zM76 96h1v1h-1zM80 96h2v1h-2zM86 96h2v1h-2zM90 96h2v1h-2zM96 96h1v1h-1zM2 97h2v1h-2zM7 97h2v1h-2zM12 97h2v1h-2zM17 97h1v1h-1zM22 97h2v1h-2zM27 97h1v1h-1zM32 97h2v1h-2zM37 97h1v1h-1zM42 97h2v1h-2zM47 97h2v1h-2zM52 97h2v1h-2zM57 97h2v1h-2zM62 97h1v1h-1zM67 97h2v1h-2zM72 97h2v1h-2zM77 97h1v1h-1zM82 97h2v1h-2zM87 97h2v1h-2zM92 97h2v1h-2zM96 97h2v1h-2z"/><path fill="#303030" d="M31 2h1v1h-1zM91 3h1v1h-1zM37 8h1v1h-1zM21 12h1v1h-1zM61 12h1v1h-1zM2 13h1v1h-1zM18 17h1v1h-1zM84 20h1v1h-1zM23 22h1v1h-1zM76 22h1v1h-1zM16 40h1v1h-1zM91 42h1v1h-1zM82 53h1v1h-1zM36 95h1v1h-1zM92 96h1v1h-1zM91 97h1v1h-1z"/><path fill="#505050" d="M12 1h1v1h-1zM18 3h1v1h-1zM94 5h1v1h-1zM61 6h1v1h-1zM18 7h1v1h-1zM17 8h1v1h-1zM54 10h1v1h-1zM1 12h1v1h-1zM86 17h1v1h-1zM95 21h1v1h-1zM23 32h1v1h-1zM19 33h1v1h-1zM20 34h1v1h-1zM24 43h1v1h-1zM83 44h1v1h-1zM18 52h1v1h-1zM84 55h1v1h-1zM36 60h1v1h-1zM90 61h1v1h-1zM30 64h1v1h-1zM16 65h1v1h-1zM76 72h1v1h-1zM82 78h1v1h-1zM18 82h1v1h-1zM18 97h1v1h-1zM76 97h1v1h-1z"/><path fill="#707070" d="M61 2h1v1h-1zM34 10h1v1h-1zM27 16h1v1h-1zM27 26h1v1h-1zM95 26h1v1h-1zM18 32h1v1h-1zM81 32h1v1h-1zM30 34h1v1h-1zM27 36h1v1h-1zM94 40h1v1h-1zM95 41h1v1h-1zM76 47h1v1h-1zM81 47h1v1h-1zM24 48h1v1h-1zM36 50h1v1h-1zM95 51h1v1h-1zM72 73h1v1h-1zM27 81h1v1h-1zM30 84h1v1h-1zM16 85h1v1h-1zM22 86h1v1h-1zM95 91h1v1h-1zM34 93h1v1h-1zM63 97h1v1h-1z"/><path fill="#8f8f8f" d="M30 4h1v1h-1zM46 6h1v1h-1zM32 8h1v1h-1zM20 9h1v1h-1zM84 10h1v1h-1zM62 13h1v1h-1zM22 21h1v1h-1zM82 23h1v1h-1zM30 29h1v1h-1zM27 31h1v1h-1zM84 35h1v1h-1zM30 44h1v1h-1zM84 50h1v1h-1zM91 62h1v1h-1zM87 68h1v1h-1zM23 77h1v1h-1zM20 79h1v1h-1zM95 86h1v1h-1zM23 87h1v1h-1zM34 88h1v1h-1zM39 88h1v1h-1zM90 91h1v1h-1zM38 97h1v1h-1z"/><path fill="#afafaf" d="M94 0h1v1h-1zM81 3h1v1h-1zM34 5h1v1h-1zM2 8h1v1h-1zM57 8h1v1h-1zM71 12h1v1h-1zM81 12h1v1h-1zM24 13h1v1h-1zM37 13h1v1h-1zM94 16h1v1h-1zM97 19h1v1h-1zM84 30h1v1h-1zM16 35h1v1h-1zM76 42h1v1h-1zM20 44h1v1h-1zM90 46h1v1h-1zM28 47h1v1h-1zM95 61h1v1h-1zM90 66h1v1h-1zM24 73h1v1h-1zM24 78h1v1h-1zM94 80h1v1h-1zM72 83h1v1h-1zM49 93h1v1h-1zM16 94h1v1h-1zM95 94h1v1h-1zM42 96h1v1h-1zM19 97h1v1h-1z"/><path fill="#cfcfcf" d="M16 0h1v1h-1zM18 4h1v1h-1zM74 5h1v1h-1zM81 6h1v1h-1zM52 8h1v1h-1zM40 11h1v1h-1zM27 13h1v1h-1zM35 16h1v1h-1zM90 16h1v1h-1zM51 17h1v1h-1zM20 54h1v1h-1zM87 58h1v1h-1zM16 60h1v1h-1zM86 62h1v1h-1zM27 71h1v1h-1zM87 73h1v1h-1zM90 76h1v1h-1zM22 91h1v1h-1zM28 92h1v1h-1zM9 93h1v1h-1zM72 93h1v1h-1zM82 93h1v1h-1z"/><path fill="#efefef" d="M68 4h1v1h-1zM24 5h1v1h-1zM49 5h1v1h-1zM54 5h1v1h-1zM51 7h1v1h-1zM74 10h1v1h-1zM79 10h1v1h-1zM22 11h1v1h-1zM85 11h1v1h-1zM22 13h1v1h-1zM72 13h1v1h-1zM43 14h1v1h-1zM58 14h1v1h-1zM79 15h1v1h-1zM89 15h1v1h-1zM18 22h1v1h-1zM81 27h1v1h-1zM90 31h1v1h-1zM72 33h1v1h-1zM25 36h1v1h-1zM85 41h1v1h-1zM28 42h1v1h-1zM81 42h1v1h-1zM87 43h1v1h-1zM86 52h1v1h-1zM94 55h1v1h-1zM85 56h1v1h-1zM24 58h1v1h-1zM30 59h1v1h-1zM85 61h1v1h-1zM72 63h1v1h-1zM85 66h1v1h-1zM85 71h1v1h-1zM95 71h1v1h-1zM27 76h1v1h-1zM46 80h1v1h-1zM90 81h1v1h-1zM94 85h1v1h-1zM84 88h1v1h-1z"/></g>
<path d="M422.5 253.1V418" stroke="#222" stroke-width="0.9"/>
<path d="M422.5 418.3H652" stroke="#999" stroke-width="0.8"/>
<path d="M422.5 269.09h-2M422.5 285.91h-2M422.5 302.74h-2M422.5 319.56h-2M422.5 336.39h-2M422.5 353.22h-2M422.5 370.04h-2M422.5 386.87h-2M422.5 403.7h-2M468.17 418v1.8M515 418v1.8M561.84 418v1.8M608.68 418v1.8" stroke="#333" stroke-width="0.7"/>
<text transform="translate(402.19 272) scale(1.333 1)" font-size="8.45" stroke="#262626" stroke-width="0.2" fill="#262626">10</text>
<text transform="translate(402.19 288.83) scale(1.333 1)" font-size="8.45" stroke="#262626" stroke-width="0.2" fill="#262626">20</text>
<text transform="translate(402.19 305.65) scale(1.333 1)" font-size="8.45" stroke="#262626" stroke-width="0.2" fill="#262626">30</text>
<text transform="translate(402.19 322.48) scale(1.333 1)" font-size="8.45" stroke="#262626" stroke-width="0.2" fill="#262626">40</text>
<text transform="translate(402.19 339.31) scale(1.333 1)" font-size="8.45" stroke="#262626" stroke-width="0.2" fill="#262626">50</text>
<text transform="translate(402.19 356.13) scale(1.333 1)" font-size="8.45" stroke="#262626" stroke-width="0.2" fill="#262626">60</text>
<text transform="translate(402.19 372.96) scale(1.333 1)" font-size="8.45" stroke="#262626" stroke-width="0.2" fill="#262626">70</text>
<text transform="translate(402.19 389.79) scale(1.333 1)" font-size="8.45" stroke="#262626" stroke-width="0.2" fill="#262626">80</text>
<text transform="translate(402.19 406.61) scale(1.333 1)" font-size="8.45" stroke="#262626" stroke-width="0.2" fill="#262626">90</text>
<text transform="translate(462.02 430.82) scale(1.293 1)" font-size="8.45" stroke="#262626" stroke-width="0.2" fill="#262626">20</text>
<text transform="translate(509.02 430.82) scale(1.293 1)" font-size="8.45" stroke="#262626" stroke-width="0.2" fill="#262626">40</text>
<text transform="translate(555.69 430.82) scale(1.293 1)" font-size="8.45" stroke="#262626" stroke-width="0.2" fill="#262626">60</text>
<text transform="translate(602.56 430.82) scale(1.293 1)" font-size="8.45" stroke="#262626" stroke-width="0.2" fill="#262626">80</text>
<rect x="665.4" y="253.3" width="18.3" height="165" fill="url(#grayg)" stroke="#444" stroke-width="0.6"/>
<path d="M683.7 401.8h-1.5M683.7 385.3h-1.5M683.7 368.8h-1.5M683.7 352.3h-1.5M683.7 335.8h-1.5M683.7 319.3h-1.5M683.7 302.8h-1.5M683.7 286.3h-1.5M683.7 269.8h-1.5" stroke="#333" stroke-width="0.7"/>
<text transform="translate(688.89 421.42) scale(1.215 1)" font-size="8.45" stroke="#262626" stroke-width="0.2" fill="#262626">0</text>
<text transform="translate(688.89 404.92) scale(1.215 1)" font-size="8.45" stroke="#262626" stroke-width="0.2" fill="#262626">0.1</text>
<text transform="translate(688.89 388.42) scale(1.215 1)" font-size="8.45" stroke="#262626" stroke-width="0.2" fill="#262626">0.2</text>
<text transform="translate(688.89 371.92) scale(1.215 1)" font-size="8.45" stroke="#262626" stroke-width="0.2" fill="#262626">0.3</text>
<text transform="translate(688.89 355.42) scale(1.215 1)" font-size="8.45" stroke="#262626" stroke-width="0.2" fill="#262626">0.4</text>
<text transform="translate(688.89 338.92) scale(1.215 1)" font-size="8.45" stroke="#262626" stroke-width="0.2" fill="#262626">0.5</text>
<text transform="translate(688.89 322.42) scale(1.215 1)" font-size="8.45" stroke="#262626" stroke-width="0.2" fill="#262626">0.6</text>
<text transform="translate(688.89 305.92) scale(1.215 1)" font-size="8.45" stroke="#262626" stroke-width="0.2" fill="#262626">0.7</text>
<text transform="translate(688.89 289.42) scale(1.215 1)" font-size="8.45" stroke="#262626" stroke-width="0.2" fill="#262626">0.8</text>
<text transform="translate(688.89 272.92) scale(1.215 1)" font-size="8.45" stroke="#262626" stroke-width="0.2" fill="#262626">0.9</text>
<text transform="translate(688.53 256.42) scale(1.215 1)" font-size="8.45" stroke="#262626" stroke-width="0.2" fill="#262626">1</text>
<text transform="translate(404.9 240.75) scale(1.455 1)" font-size="13.19" font-weight="bold" stroke="#000" stroke-width="0.25" fill="#000">D</text>
<text transform="translate(463.39 248.4) scale(1.454 1)" font-size="9.63" font-weight="bold" stroke="#000" stroke-width="0.3" fill="#000">fuzzy recurrence plots</text>
</g></svg>
</body></html>
